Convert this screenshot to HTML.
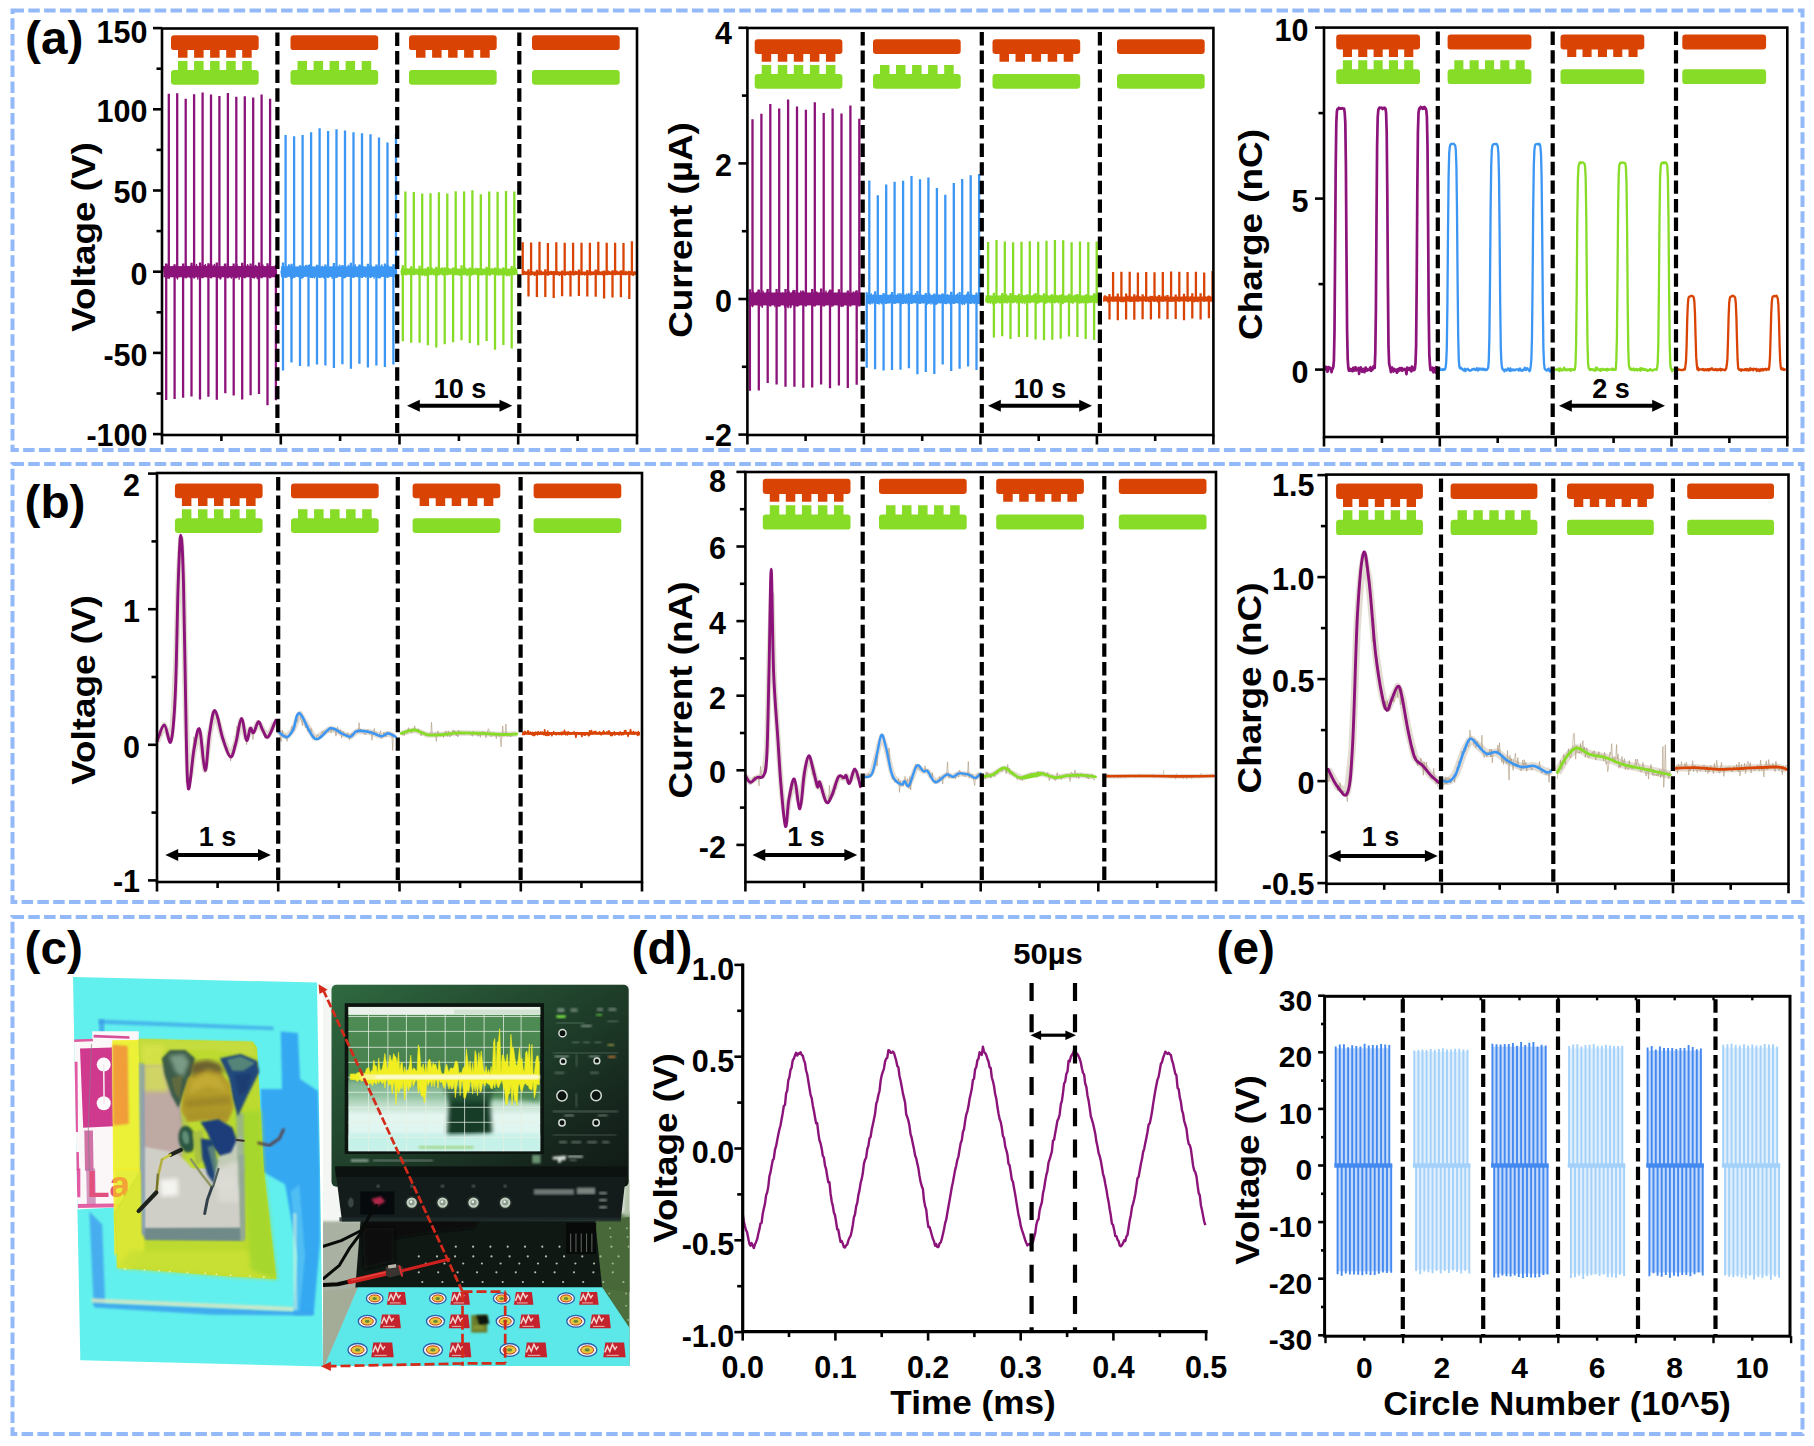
<!DOCTYPE html>
<html><head><meta charset="utf-8"><title>Figure</title>
<style>html,body{margin:0;padding:0;background:#fff}svg{display:block}</style></head>
<body><svg width="1814" height="1446" viewBox="0 0 1814 1446">
<rect width="1814" height="1446" fill="#fff"/>
<rect x="12.5" y="10.5" width="1790" height="439.5" fill="none" stroke="#94b9f8" stroke-width="4" stroke-dasharray="11.5 4.3"/>
<rect x="12.5" y="464" width="1790" height="438" fill="none" stroke="#94b9f8" stroke-width="4" stroke-dasharray="11.5 4.3"/>
<rect x="12.5" y="917" width="1790" height="517" fill="none" stroke="#94b9f8" stroke-width="4" stroke-dasharray="11.5 4.3"/>
<g font-family="'Liberation Sans', sans-serif" font-weight="bold" fill="#000">
<text transform="translate(25 54) scale(1.05 1)" font-size="45.5" text-anchor="start" >(a)</text>
<text transform="translate(24.5 517.5) scale(1.05 1)" font-size="45.5" text-anchor="start" >(b)</text>
<text transform="translate(24.5 963.5) scale(1.05 1)" font-size="45.5" text-anchor="start" >(c)</text>
<text transform="translate(631.5 963.5) scale(1.05 1)" font-size="45.5" text-anchor="start" >(d)</text>
<text transform="translate(1216.5 963.5) scale(1.05 1)" font-size="45.5" text-anchor="start" >(e)</text>
<path d="M163.5 266.1 164.2 271.7 164.9 273.2 165.6 264.5 166.3 266.4 167 278.2 167.7 265.2 168.4 266.1 169.1 278.5 169.8 273.6 170.5 269.7 171.2 271.9 171.9 274.2 172.6 268.3 173.3 266.2 174 276.1 174.7 274.3 175.4 271.9 176.1 276.5 176.8 272.4 177.5 279 178.2 267.2 178.9 272.5 179.6 271.5 180.3 269.5 181 273.1 181.7 267.7 182.4 276.3 183.1 277.3 183.8 266.1 184.5 271.2 185.2 268.3 185.9 265.4 186.6 277.7 187.3 270.6 188 266.4 188.7 274.3 189.4 267.2 190.1 277.8 190.8 267.4 191.5 264.6 192.2 267.2 192.9 269.4 193.6 271.2 194.3 277.9 195 274.7 195.7 269.3 196.4 264.4 197.1 266.5 197.8 279.2 198.5 271.1 199.2 274.6 199.9 264.9 200.6 264.6 201.3 277 202 273 202.7 268.8 203.4 268.9 204.1 265.5 204.8 266.7 205.5 264.5 206.2 276.8 206.9 271.2 207.6 266 208.3 275.3 209 267.1 209.7 265 210.4 273.2 211.1 277.7 211.8 264.5 212.5 276.3 213.2 267 213.9 265.5 214.6 264.4 215.3 268.6 216 275.1 216.7 271.6 217.4 277.1 218.1 267.4 218.8 268.9 219.5 268 220.2 279 220.9 278.4 221.6 269.3 222.3 270.7 223 268.9 223.7 275.4 224.4 264.7 225.1 265.1 225.8 270.2 226.5 267.8 227.2 276.9 227.9 275.4 228.6 272.4 229.3 274.2 230 274.6 230.7 276 231.4 278.2 232.1 266.4 232.8 273.6 233.5 266.3 234.2 270.8 234.9 276 235.6 277.7 236.3 275.6 237 264.6 237.7 269.6 238.4 266.6 239.1 279.3 239.8 266.3 240.5 267.8 241.2 269.5 241.9 265 242.6 277.3 243.3 273.8 244 266.5 244.7 271.7 245.4 265.3 246.1 273.4 246.8 267.6 247.5 264.7 248.2 265.9 248.9 272.5 249.6 273.8 250.3 269 251 273.9 251.7 269.5 252.4 266.1 253.1 268.9 253.8 270.1 254.5 278 255.2 265.9 255.9 265.4 256.6 272.6 257.3 278.7 258 277.9 258.7 274.7 259.4 265.1 260.1 276.4 260.8 274.5 261.5 266.3 262.2 271.2 262.9 264.9 263.6 276.3 264.3 275 265 276.3 265.7 275.7 266.4 268.2 267.1 276.1 267.8 267.9 268.5 266.2 269.2 270 269.9 271.7 270.6 268.4 271.3 273.3 272 273.3 272.7 267.8 273.4 273.6 274.1 269.5 274.8 275.3 275.5 268.5" fill="none" stroke="#8b137a" stroke-width="1.3" stroke-linejoin="round" />
<rect x="163.5" y="266.1" width="112.5" height="11.2" fill="#8b137a"/>
<path d="M168.8 278.3V93.7M166.2 263.4V400.1M177.2 278.3V93.2M174.6 264.3V399.1M185.7 278.3V98.7M183.1 263.5V397.7M194.1 278.3V94.3M191.5 262.7V396.6M202.6 278.3V92.5M200 262.4V399.5M211 278.3V94.4M208.4 263.2V396.7M219.4 278.3V96M216.8 262.5V399.8M227.9 278.3V93.1M225.3 263.4V393.3M236.3 278.3V96.7M233.7 263.4V395.6M244.8 278.3V96.2M242.2 262.7V399.5M253.2 278.3V97.5M250.6 263.6V395.2M261.6 278.3V94.6M259 262.5V393.9M270.1 278.3V98.8M267.5 263.2V405.2M275.9 265.1V400.2" stroke="#8b137a" stroke-width="2.3" fill="none"/>
<path d="M281 270.7 281.7 276.7 282.4 266.5 283.1 273.4 283.8 270.5 284.5 272.1 285.2 271.7 285.9 266.5 286.6 271.9 287.3 276.9 288 267 288.7 264.7 289.4 265.5 290.1 271.1 290.8 278.5 291.5 265.2 292.2 278.7 292.9 272.2 293.6 266.3 294.3 270.5 295 267.5 295.7 274.8 296.4 272.3 297.1 268.7 297.8 268.2 298.5 276.9 299.2 275.5 299.9 270.8 300.6 270.4 301.3 275.1 302 278.4 302.7 265.7 303.4 266.8 304.1 269.7 304.8 271.8 305.5 265.6 306.2 265.3 306.9 267.7 307.6 270.1 308.3 275.1 309 273.3 309.7 265 310.4 265.2 311.1 271 311.8 277 312.5 277.6 313.2 269.8 313.9 277.2 314.6 277.8 315.3 270.4 316 275.2 316.7 269.8 317.4 266.8 318.1 272.8 318.8 265.8 319.5 274 320.2 276.1 320.9 277.6 321.6 271 322.3 266.2 323 277.4 323.7 277 324.4 278.4 325.1 273 325.8 274.2 326.5 269.9 327.2 267.2 327.9 268.7 328.6 274.8 329.3 269.2 330 274.4 330.7 271.7 331.4 271 332.1 278.4 332.8 266.9 333.5 271.5 334.2 266.8 334.9 277.9 335.6 271.5 336.3 269.3 337 267 337.7 273 338.4 270.3 339.1 266.4 339.8 265 340.5 270.1 341.2 272.9 341.9 272 342.6 277.4 343.3 277.6 344 277.9 344.7 276 345.4 271.4 346.1 272 346.8 270.2 347.5 270.3 348.2 265.2 348.9 276 349.6 268.1 350.3 265 351 271.2 351.7 274.8 352.4 270.8 353.1 269.8 353.8 274 354.5 266.9 355.2 264.7 355.9 273 356.6 272.1 357.3 276.9 358 270.5 358.7 275.8 359.4 264.8 360.1 265 360.8 273.1 361.5 267.8 362.2 265.5 362.9 266.4 363.6 269.9 364.3 269.4 365 272.6 365.7 277.2 366.4 269.8 367.1 267.2 367.8 272.8 368.5 264.6 369.2 270.1 369.9 269.1 370.6 270.1 371.3 265.3 372 272.5 372.7 273.5 373.4 275.3 374.1 278.2 374.8 269.6 375.5 273.9 376.2 270.9 376.9 267.6 377.6 277.3 378.3 275.2 379 278 379.7 276.3 380.4 277.7 381.1 266.4 381.8 264.8 382.5 267.4 383.2 270.4 383.9 274.4 384.6 270.8 385.3 271.9 386 275.4 386.7 265.6 387.4 274.2 388.1 265.3 388.8 268.1 389.5 274.9 390.2 274.3 390.9 270.3 391.6 268.8 392.3 276.4 393 268.5 393.7 265 394.4 268.1 395.1 264.9" fill="none" stroke="#3c96f3" stroke-width="1.3" stroke-linejoin="round" />
<rect x="281" y="266.4" width="114.5" height="10.5" fill="#3c96f3"/>
<path d="M285.6 277.9V135.1M283 262.6V370.4M294.1 277.9V136.2M291.5 263.7V362.6M302.6 277.9V135.1M300 265.2V366M311.1 277.9V132.3M308.5 264.8V366.5M319.6 277.9V128.3M317 264.7V364.6M328.1 277.9V131.1M325.4 264.6V365.6M336.5 277.9V129.3M333.9 263.1V368M345 277.9V130.4M342.4 265V364.2M353.5 277.9V132.2M350.9 262.8V368.7M362 277.9V133.2M359.4 265.1V363.8M370.5 277.9V134.3M367.9 263.8V367.6M379 277.9V137.4M376.4 264.5V365.6M387.5 277.9V142.4M384.9 263.4V367.1M396 277.9V133.9M393.4 264.3V364.5" stroke="#3c96f3" stroke-width="2.3" fill="none"/>
<path d="M401 270.6 401.7 275.2 402.4 270.8 403.1 274.2 403.8 268.3 404.5 271.3 405.2 271.8 405.9 274.3 406.6 274.8 407.3 268.8 408 272.7 408.7 272.8 409.4 268.8 410.1 274.5 410.8 272.1 411.5 275.5 412.2 269.1 412.9 271.9 413.6 270.2 414.3 272.9 415 272.6 415.7 271.8 416.4 270.2 417.1 271.7 417.8 270.6 418.5 274.9 419.2 271.4 419.9 271.5 420.6 269.7 421.3 269.7 422 275.5 422.7 270.2 423.4 274.7 424.1 272.5 424.8 275.7 425.5 268.9 426.2 275.4 426.9 274 427.6 272.3 428.3 273.4 429 273.5 429.7 271.3 430.4 272.8 431.1 269.5 431.8 267.7 432.5 273.2 433.2 271.5 433.9 275.1 434.6 269.7 435.3 274.3 436 275.7 436.7 275 437.4 275.5 438.1 268.9 438.8 268.9 439.5 269.5 440.2 270.6 440.9 268.5 441.6 268.8 442.3 267.7 443 275.3 443.7 270.5 444.4 272.7 445.1 271.3 445.8 273.7 446.5 274.2 447.2 270.7 447.9 272 448.6 268.4 449.3 269.9 450 269.4 450.7 270.1 451.4 270.2 452.1 272.3 452.8 270.3 453.5 270.3 454.2 274.4 454.9 267.7 455.6 267.6 456.3 268 457 274.7 457.7 272.8 458.4 273.6 459.1 275.5 459.8 269.4 460.5 275.2 461.2 269.6 461.9 271.9 462.6 273.2 463.3 274.2 464 269.6 464.7 271.5 465.4 267.9 466.1 269.9 466.8 275.7 467.5 275.1 468.2 272.4 468.9 274.1 469.6 275 470.3 270.3 471 275.7 471.7 271.3 472.4 268.9 473.1 271.9 473.8 272.5 474.5 273.3 475.2 273.1 475.9 267.9 476.6 272.9 477.3 275.2 478 273.1 478.7 275.6 479.4 271.8 480.1 274.3 480.8 268.7 481.5 275 482.2 271.2 482.9 274.8 483.6 270.2 484.3 272.7 485 274.6 485.7 273.5 486.4 272.7 487.1 275.6 487.8 268.3 488.5 268.4 489.2 272.1 489.9 275.5 490.6 273.2 491.3 270.1 492 268.5 492.7 271.3 493.4 271.5 494.1 271.4 494.8 272.7 495.5 269.8 496.2 274.8 496.9 269.9 497.6 268.4 498.3 270.4 499 275.3 499.7 268.9 500.4 269.9 501.1 275.2 501.8 270.4 502.5 274.5 503.2 267.9 503.9 274.9 504.6 269.5 505.3 269.1 506 273.7 506.7 275.8 507.4 275.5 508.1 273.8 508.8 275.1 509.5 275.7 510.2 272.1 510.9 268.8 511.6 274.6 512.3 270.8 513 270.1 513.7 271.7 514.4 267.8 515.1 267.7 515.8 269.7 516.5 272.5 517.2 273.8" fill="none" stroke="#86dc26" stroke-width="1.3" stroke-linejoin="round" />
<rect x="401" y="268.6" width="116.5" height="6.1" fill="#86dc26"/>
<path d="M405.4 275.3V191.5M402.8 265.3V341.3M413.8 275.3V191.9M411.2 266.3V342.7M422.2 275.3V193.6M419.6 265.8V342.8M430.5 275.3V193.3M427.9 266.7V345.3M438.9 275.3V192.3M436.3 266.8V347.6M447.3 275.3V193.5M444.7 267.2V344.2M455.7 275.3V191.2M453.1 267.6V342.3M464.1 275.3V191.4M461.5 265.3V340.3M472.4 275.3V190.3M469.8 267.5V343M480.8 275.3V194.3M478.2 267.9V345.3M489.2 275.3V191.5M486.6 266.7V340.9M497.6 275.3V191.7M495 267.6V349.8M506 275.3V191.1M503.4 267.6V345M514.3 275.3V191.4M511.7 266V348.4" stroke="#86dc26" stroke-width="2.3" fill="none"/>
<path d="M523 271.8 523.7 271.1 524.4 271.2 525.1 272.9 525.8 272.6 526.5 274 527.2 271.3 527.9 272.1 528.6 274.1 529.3 273.5 530 273.3 530.7 275 531.4 271.4 532.1 271.8 532.8 273.5 533.5 273.5 534.2 275.4 534.9 275.4 535.6 273.6 536.3 274.4 537 274.1 537.7 271.5 538.4 273.7 539.1 272.3 539.8 272.6 540.5 271.6 541.2 270.9 541.9 274.8 542.6 274.2 543.3 274.4 544 272.2 544.7 272.8 545.4 271.7 546.1 273.7 546.8 274.8 547.5 274.5 548.2 275.2 548.9 272.1 549.6 274.1 550.3 271.5 551 273.4 551.7 271.4 552.4 273.4 553.1 273.4 553.8 272.5 554.5 272.5 555.2 274.2 555.9 273.1 556.6 272.8 557.3 271.4 558 272.2 558.7 274.8 559.4 275.4 560.1 272.6 560.8 274.9 561.5 274.9 562.2 271.9 562.9 272.2 563.6 274.1 564.3 272.3 565 275.3 565.7 272.6 566.4 274.3 567.1 274.2 567.8 271.9 568.5 274.9 569.2 272.4 569.9 271.4 570.6 271.1 571.3 273 572 273.8 572.7 272.1 573.4 274.8 574.1 272.1 574.8 274.8 575.5 271.1 576.2 272.1 576.9 271.6 577.6 273 578.3 272.5 579 272.7 579.7 274.8 580.4 273.6 581.1 273.7 581.8 272.7 582.5 274.6 583.2 273.2 583.9 274.3 584.6 275.1 585.3 273.7 586 272.9 586.7 272.1 587.4 275.1 588.1 274.4 588.8 274.6 589.5 271.9 590.2 272.9 590.9 275 591.6 272 592.3 274.6 593 273.4 593.7 271.9 594.4 272.6 595.1 271.3 595.8 274 596.5 274.2 597.2 271 597.9 272.3 598.6 274.4 599.3 271.8 600 273.4 600.7 274.6 601.4 273.5 602.1 271.5 602.8 275.1 603.5 274.3 604.2 273.5 604.9 272.4 605.6 273.6 606.3 272.7 607 271.4 607.7 271.5 608.4 271.1 609.1 271.7 609.8 272 610.5 273.8 611.2 273.6 611.9 273.6 612.6 274.7 613.3 271.3 614 272.7 614.7 271.3 615.4 272.8 616.1 271.3 616.8 271.2 617.5 271.4 618.2 272.7 618.9 274.4 619.6 272.2 620.3 274.3 621 272 621.7 272.2 622.4 273.1 623.1 271.2 623.8 273 624.5 273.6 625.2 274.7 625.9 271.2 626.6 274.6 627.3 273.5 628 273.6 628.7 271.1 629.4 274.9 630.1 272.2 630.8 273.4 631.5 273.4 632.2 275.1 632.9 273.7 633.6 275.5 634.3 272 635 273.9 635.7 273.6" fill="none" stroke="#d94404" stroke-width="1.3" stroke-linejoin="round" />
<rect x="523" y="271.5" width="113" height="3.4" fill="#d94404"/>
<path d="M522.7 275.2V242.2M531.1 275.2V242.6M528.5 269.3V296.4M539.5 275.2V241.8M536.9 269.8V296.9M547.9 275.2V242.9M545.3 269.2V297M556.3 275.2V242.3M553.7 271V298.1M564.7 275.2V242.8M562.1 270.5V296.2M573.1 275.2V242.8M570.5 271.1V296.5M581.5 275.2V242.7M578.9 269.4V296.1M589.9 275.2V242.7M587.3 270.1V296.6M598.3 275.2V241.8M595.7 269.4V296.7M606.7 275.2V242.8M604.1 270.4V298.4M615.1 275.2V242.7M612.5 270.2V297.5M623.5 275.2V243M620.9 270.3V297.3M631.9 275.2V241.3M629.3 270.9V298.9" stroke="#d94404" stroke-width="2.3" fill="none"/>
<rect x="162" y="28.5" width="475" height="406.5" fill="none" stroke="#000" stroke-width="2.6"/>
<line x1="277.4" y1="32.5" x2="277.4" y2="433" stroke="#000" stroke-width="4.2" stroke-dasharray="13.4 5.2"/>
<line x1="397.2" y1="32.5" x2="397.2" y2="433" stroke="#000" stroke-width="4.2" stroke-dasharray="13.4 5.2"/>
<line x1="519.3" y1="32.5" x2="519.3" y2="433" stroke="#000" stroke-width="4.2" stroke-dasharray="13.4 5.2"/>
<line x1="153" y1="28.1" x2="162" y2="28.1" stroke="#000" stroke-width="2.6" />
<line x1="153" y1="109.3" x2="162" y2="109.3" stroke="#000" stroke-width="2.6" />
<line x1="153" y1="190.5" x2="162" y2="190.5" stroke="#000" stroke-width="2.6" />
<line x1="153" y1="271.7" x2="162" y2="271.7" stroke="#000" stroke-width="2.6" />
<line x1="153" y1="352.9" x2="162" y2="352.9" stroke="#000" stroke-width="2.6" />
<line x1="153" y1="434.1" x2="162" y2="434.1" stroke="#000" stroke-width="2.6" />
<line x1="156.5" y1="68.7" x2="162" y2="68.7" stroke="#000" stroke-width="2.6" />
<line x1="156.5" y1="149.9" x2="162" y2="149.9" stroke="#000" stroke-width="2.6" />
<line x1="156.5" y1="231.1" x2="162" y2="231.1" stroke="#000" stroke-width="2.6" />
<line x1="156.5" y1="312.3" x2="162" y2="312.3" stroke="#000" stroke-width="2.6" />
<line x1="156.5" y1="393.5" x2="162" y2="393.5" stroke="#000" stroke-width="2.6" />
<text transform="translate(147.5 42.5) scale(1.0 1)" font-size="30.5" text-anchor="end" >150</text>
<text transform="translate(147.5 122.2) scale(1.0 1)" font-size="30.5" text-anchor="end" >100</text>
<text transform="translate(147.5 203.4) scale(1.0 1)" font-size="30.5" text-anchor="end" >50</text>
<text transform="translate(147.5 284.6) scale(1.0 1)" font-size="30.5" text-anchor="end" >0</text>
<text transform="translate(147.5 365.8) scale(1.0 1)" font-size="30.5" text-anchor="end" >-50</text>
<text transform="translate(147.5 445.5) scale(1.0 1)" font-size="30.5" text-anchor="end" >-100</text>
<line x1="162" y1="435" x2="162" y2="444.5" stroke="#000" stroke-width="2.6" />
<line x1="280.8" y1="435" x2="280.8" y2="444.5" stroke="#000" stroke-width="2.6" />
<line x1="399.5" y1="435" x2="399.5" y2="444.5" stroke="#000" stroke-width="2.6" />
<line x1="518.2" y1="435" x2="518.2" y2="444.5" stroke="#000" stroke-width="2.6" />
<line x1="637" y1="435" x2="637" y2="444.5" stroke="#000" stroke-width="2.6" />
<line x1="221.4" y1="435" x2="221.4" y2="441" stroke="#000" stroke-width="2.6" />
<line x1="340.1" y1="435" x2="340.1" y2="441" stroke="#000" stroke-width="2.6" />
<line x1="458.9" y1="435" x2="458.9" y2="441" stroke="#000" stroke-width="2.6" />
<line x1="577.6" y1="435" x2="577.6" y2="441" stroke="#000" stroke-width="2.6" />
<rect x="171" y="35.3" width="87.7" height="14.8" rx="3.2" fill="#d94404"/>
<rect x="171" y="70" width="87.7" height="14.8" rx="3.2" fill="#86dc26"/>
<path d="M178 48.1h9.5v9.7h-9.5zM194.1 48.1h9.5v9.7h-9.5zM210.1 48.1h9.5v9.7h-9.5zM226.2 48.1h9.5v9.7h-9.5zM242.2 48.1h9.5v9.7h-9.5z" fill="#d94404"/>
<path d="M178 61h9.5v11h-9.5zM194.1 61h9.5v11h-9.5zM210.1 61h9.5v11h-9.5zM226.2 61h9.5v11h-9.5zM242.2 61h9.5v11h-9.5z" fill="#86dc26"/>
<rect x="290.5" y="35.3" width="87.7" height="14.8" rx="3.2" fill="#d94404"/>
<rect x="290.5" y="70" width="87.7" height="14.8" rx="3.2" fill="#86dc26"/>
<path d="M297.5 61h9.5v11h-9.5zM313.6 61h9.5v11h-9.5zM329.6 61h9.5v11h-9.5zM345.6 61h9.5v11h-9.5zM361.7 61h9.5v11h-9.5z" fill="#86dc26"/>
<rect x="409" y="35.3" width="87.7" height="14.8" rx="3.2" fill="#d94404"/>
<rect x="409" y="70" width="87.7" height="14.8" rx="3.2" fill="#86dc26"/>
<path d="M416 48.1h9.5v9.7h-9.5zM432.1 48.1h9.5v9.7h-9.5zM448.1 48.1h9.5v9.7h-9.5zM464.1 48.1h9.5v9.7h-9.5zM480.2 48.1h9.5v9.7h-9.5z" fill="#d94404"/>
<rect x="532" y="35.3" width="87.7" height="14.8" rx="3.2" fill="#d94404"/>
<rect x="532" y="70" width="87.7" height="14.8" rx="3.2" fill="#86dc26"/>
<path d="M418.8 405.7H500.5" stroke="#000" stroke-width="4" fill="none"/>
<path d="M407 405.7l12.8 -6v12z" fill="#000"/>
<path d="M512.3 405.7l-12.8 -6v12z" fill="#000"/>
<text transform="translate(460 398) scale(1.0 1)" font-size="27" text-anchor="middle" >10 s</text>
<text transform="translate(94.5 237) rotate(-90) scale(1.1 1)" font-size="33.5" text-anchor="middle" >Voltage (V)</text>
<path d="M749 299.3 749.7 302.3 750.4 301.2 751.1 293.1 751.8 296.5 752.5 306.7 753.2 291.8 753.9 302.1 754.6 297.9 755.3 301 756 297.1 756.7 292.4 757.4 300.1 758.1 290.4 758.8 305.4 759.5 304.2 760.2 296.8 760.9 299.7 761.6 299.5 762.3 307.4 763 291 763.7 295.5 764.4 297.4 765.1 304 765.8 303 766.5 297.7 767.2 290.5 767.9 301.6 768.6 297.4 769.3 292.3 770 301.3 770.7 298 771.4 295.6 772.1 295 772.8 299.4 773.5 294.6 774.2 297.1 774.9 306.7 775.6 298.6 776.3 294.7 777 299.4 777.7 306.3 778.4 305.4 779.1 302.1 779.8 306 780.5 303.5 781.2 302.1 781.9 297.7 782.6 292.9 783.3 303.1 784 301.3 784.7 307.2 785.4 295.9 786.1 305.6 786.8 294.1 787.5 306.8 788.2 307.7 788.9 291.1 789.6 295.9 790.3 307.7 791 307.2 791.7 302 792.4 292.6 793.1 290.4 793.8 294.6 794.5 306.8 795.2 304.3 795.9 297.8 796.6 303.6 797.3 306 798 295.5 798.7 305.5 799.4 295 800.1 296 800.8 291 801.5 293.1 802.2 299.9 802.9 290.7 803.6 299.8 804.3 293.2 805 303.3 805.7 292.5 806.4 293.9 807.1 295 807.8 300.4 808.5 304.4 809.2 303.4 809.9 303.2 810.6 302.2 811.3 299.8 812 296.2 812.7 293.4 813.4 305.4 814.1 297.4 814.8 301.6 815.5 291.5 816.2 296.6 816.9 292 817.6 296.5 818.3 303.1 819 296.2 819.7 302.2 820.4 292.4 821.1 297 821.8 297.4 822.5 299.2 823.2 294.3 823.9 302.5 824.6 305.7 825.3 304.5 826 290.8 826.7 298.8 827.4 296.3 828.1 300.3 828.8 291.7 829.5 303 830.2 297.5 830.9 306.8 831.6 290.6 832.3 297.6 833 298.8 833.7 304.8 834.4 303.5 835.1 293.4 835.8 295.6 836.5 303.1 837.2 297.6 837.9 294.9 838.6 306.5 839.3 305 840 296.5 840.7 299.9 841.4 306.5 842.1 294 842.8 306.2 843.5 305.7 844.2 303 844.9 302.3 845.6 302.2 846.3 299.8 847 300.4 847.7 293.7 848.4 300.1 849.1 302 849.8 298.7 850.5 302.1 851.2 298.3 851.9 304.3 852.6 302.9 853.3 291.8 854 303.7 854.7 295.2 855.4 291.7 856.1 292.4 856.8 295.9 857.5 299.4 858.2 296 858.9 293.8 859.6 303.7 860.3 296.8" fill="none" stroke="#8b137a" stroke-width="1.3" stroke-linejoin="round" />
<rect x="749" y="292.5" width="112" height="12.9" fill="#8b137a"/>
<path d="M752.5 306.6V119.2M749.9 289.3V390.8M761.4 306.6V113.7M758.8 289.5V390.5M770.3 306.6V104M767.7 289.1V383.1M779.2 306.6V108.5M776.6 288.9V384.6M788.1 306.6V99.5M785.5 289.1V386.8M797 306.6V106.5M794.4 290.1V386.8M805.9 306.6V109.7M803.3 291.2V387.7M814.8 306.6V102.3M812.2 288.9V387.6M823.7 306.6V113M821.1 288.4V384.5M832.6 306.6V108.4M830 289.6V388.2M841.5 306.6V113.5M838.9 289.3V385.5M850.4 306.6V105.6M847.8 290.6V388.1M859.3 306.6V118.7M856.7 290.2V384.8" stroke="#8b137a" stroke-width="2.3" fill="none"/>
<path d="M866.5 299.1 867.2 300.6 867.9 303 868.6 299.7 869.3 297.6 870 304.3 870.7 295.2 871.4 293.8 872.1 303.7 872.8 296.3 873.5 295 874.2 297.7 874.9 297.2 875.6 297.3 876.3 303 877 296.6 877.7 294.8 878.4 295.7 879.1 304.2 879.8 298.2 880.5 297.4 881.2 302.2 881.9 304 882.6 299.1 883.3 302.6 884 296.3 884.7 297.3 885.4 299.9 886.1 296 886.8 296.4 887.5 295.4 888.2 296.3 888.9 302.9 889.6 302.4 890.3 294.6 891 297.3 891.7 301.6 892.4 303.1 893.1 299.7 893.8 301.6 894.5 296 895.2 302.2 895.9 302.7 896.6 297.9 897.3 296 898 293.6 898.7 300.5 899.4 300.5 900.1 293.3 900.8 299.2 901.5 304 902.2 293.6 902.9 294.8 903.6 293.9 904.3 298.3 905 297.7 905.7 303.3 906.4 294 907.1 295.6 907.8 304 908.5 293.5 909.2 296.2 909.9 297.8 910.6 293.3 911.3 296.6 912 300.2 912.7 300.3 913.4 300.3 914.1 300.7 914.8 300.3 915.5 293.6 916.2 300.8 916.9 300 917.6 295.8 918.3 298.1 919 296 919.7 303.2 920.4 296.5 921.1 295.1 921.8 302.4 922.5 302 923.2 303 923.9 301 924.6 298 925.3 298.7 926 299.6 926.7 300.1 927.4 304.1 928.1 296.3 928.8 302.1 929.5 293.4 930.2 295.4 930.9 304.1 931.6 296.1 932.3 299.1 933 303.8 933.7 300.8 934.4 298.9 935.1 301.3 935.8 304.5 936.5 304.1 937.2 295.3 937.9 294.9 938.6 296.6 939.3 294.9 940 302 940.7 302.8 941.4 294.9 942.1 294.1 942.8 297 943.5 301.1 944.2 302.1 944.9 298.5 945.6 300.6 946.3 303.8 947 303.4 947.7 294.6 948.4 301.5 949.1 302.2 949.8 303.7 950.5 298.1 951.2 295 951.9 298.7 952.6 297.5 953.3 297.8 954 302.5 954.7 300.7 955.4 301.1 956.1 300.8 956.8 294.9 957.5 293.9 958.2 297.8 958.9 303 959.6 300.7 960.3 302.4 961 300.4 961.7 302.3 962.4 304.7 963.1 301.5 963.8 303.2 964.5 304.4 965.2 301.8 965.9 302.6 966.6 294.2 967.3 293.7 968 303.9 968.7 296 969.4 296.8 970.1 294.8 970.8 300.5 971.5 293.6 972.2 302.4 972.9 296.7 973.6 301.8 974.3 303.7 975 301.2 975.7 298.1 976.4 300.4 977.1 303.1 977.8 301.4 978.5 296.2 979.2 293.3 979.9 303.4" fill="none" stroke="#3c96f3" stroke-width="1.3" stroke-linejoin="round" />
<rect x="866.5" y="294.8" width="113.5" height="8.5" fill="#3c96f3"/>
<path d="M869.3 304V180.4M866.7 292.3V367.8M877.8 304V195.2M875.1 291.3V369.2M886.2 304V184.6M883.6 293.1V370.6M894.6 304V181.7M892 292V370M903.1 304V180.7M900.5 293.7V369.8M911.5 304V175.9M908.9 293.7V368.3M920 304V179.3M917.4 291.1V374.3M928.4 304V177.5M925.8 293.1V371.9M936.9 304V188.1M934.3 293.5V373.9M945.3 304V194.8M942.7 293.6V364.5M953.8 304V183M951.2 291.7V371M962.2 304V178.9M959.6 292.1V368.8M970.7 304V175.2M968.1 291.5V366.4M979.1 304V173.9M976.5 292.6V369.9" stroke="#3c96f3" stroke-width="2.3" fill="none"/>
<path d="M985.5 298.5 986.2 301.1 986.9 297.5 987.6 301.5 988.3 298.5 989 301.3 989.7 300.9 990.4 303.3 991.1 298.1 991.8 297.5 992.5 303.8 993.2 299.2 993.9 298.2 994.6 300.9 995.3 296.6 996 303.4 996.7 301.5 997.4 300.4 998.1 297 998.8 302 999.5 303 1000.2 301.8 1000.9 303 1001.6 295.1 1002.3 301.3 1003 302.5 1003.7 298.8 1004.4 294.9 1005.1 299.4 1005.8 296.5 1006.5 294.5 1007.2 303.2 1007.9 302.2 1008.6 300.3 1009.3 301.4 1010 300.7 1010.7 298.6 1011.4 295.3 1012.1 297 1012.8 299.1 1013.5 299.8 1014.2 297.1 1014.9 295.4 1015.6 297.5 1016.3 296 1017 303.2 1017.7 296.3 1018.4 298 1019.1 299.4 1019.8 296.6 1020.5 299 1021.2 299.5 1021.9 294.6 1022.6 303.3 1023.3 299.4 1024 295.6 1024.7 303.7 1025.4 295.8 1026.1 301.2 1026.8 298.8 1027.5 296.7 1028.2 297.8 1028.9 298.8 1029.6 297.8 1030.3 296.6 1031 298.2 1031.7 298.4 1032.4 300.8 1033.1 296.1 1033.8 294.6 1034.5 302.2 1035.2 294.8 1035.9 300.3 1036.6 299.5 1037.3 303.6 1038 296 1038.7 302.7 1039.4 295.4 1040.1 295.8 1040.8 300.5 1041.5 295.8 1042.2 299.8 1042.9 300.7 1043.6 295.4 1044.3 301.8 1045 298.3 1045.7 303.5 1046.4 294.3 1047.1 294.9 1047.8 300.2 1048.5 296.7 1049.2 298.1 1049.9 302.9 1050.6 297.5 1051.3 294.7 1052 295.6 1052.7 299.5 1053.4 301.7 1054.1 301.5 1054.8 298.7 1055.5 296.5 1056.2 295.4 1056.9 296.3 1057.6 296.1 1058.3 302.9 1059 298.1 1059.7 295.3 1060.4 300.3 1061.1 298.6 1061.8 294.5 1062.5 303.6 1063.2 303.3 1063.9 296.7 1064.6 302.2 1065.3 298.6 1066 300.7 1066.7 300.5 1067.4 301.2 1068.1 298.4 1068.8 295.6 1069.5 301.9 1070.2 298.4 1070.9 298.4 1071.6 301.5 1072.3 300.8 1073 303.7 1073.7 297.9 1074.4 300.3 1075.1 295 1075.8 295.3 1076.5 296.6 1077.2 296.9 1077.9 298.5 1078.6 296.4 1079.3 303.2 1080 298.3 1080.7 297.9 1081.4 302.9 1082.1 301.9 1082.8 301.6 1083.5 303 1084.2 301.3 1084.9 297.1 1085.6 303.5 1086.3 294.4 1087 302.8 1087.7 298.2 1088.4 297.4 1089.1 298.8 1089.8 298 1090.5 302.5 1091.2 302 1091.9 301.4 1092.6 296.4 1093.3 298.4 1094 294.9 1094.7 301.3 1095.4 294.6 1096.1 298 1096.8 295.6 1097.5 302.4" fill="none" stroke="#86dc26" stroke-width="1.3" stroke-linejoin="round" />
<rect x="985.5" y="295.4" width="112.5" height="7.1" fill="#86dc26"/>
<path d="M988.1 303.2V242M996.5 303.2V240M993.9 292.7V337.5M1004.8 303.2V241.4M1002.2 293V336.3M1013.1 303.2V242.2M1010.5 293V339.1M1021.5 303.2V241.8M1018.9 293.8V336.9M1029.8 303.2V241.3M1027.2 294.2V336.9M1038.2 303.2V241.7M1035.6 292.9V339.5M1046.5 303.2V240.8M1044 293.3V340.3M1054.9 303.2V240.1M1052.3 294.4V339.8M1063.2 303.2V240.3M1060.7 294.8V338.7M1071.6 303.2V242.3M1069 293.8V336.4M1080 303.2V241.4M1077.4 293.9V336.9M1088.3 303.2V241.9M1085.7 294.7V339.1M1096.7 303.2V241.5M1094.1 293.2V339.9" stroke="#86dc26" stroke-width="2.3" fill="none"/>
<path d="M1103.5 301.6 1104.2 296.1 1104.9 296 1105.6 296 1106.3 297.5 1107 296.9 1107.7 302 1108.4 300.8 1109.1 301.8 1109.8 299.5 1110.5 301.1 1111.2 300.3 1111.9 297.7 1112.6 300 1113.3 297.6 1114 298.8 1114.7 301.1 1115.4 297.2 1116.1 296.9 1116.8 301.3 1117.5 298.8 1118.2 296.9 1118.9 297.8 1119.6 297.6 1120.3 301.6 1121 298.8 1121.7 301.7 1122.4 298.8 1123.1 301.8 1123.8 301.7 1124.5 299.4 1125.2 300.8 1125.9 297.6 1126.6 296.5 1127.3 299.7 1128 296.1 1128.7 298.8 1129.4 299.8 1130.1 300.7 1130.8 301.6 1131.5 297.1 1132.2 301.4 1132.9 299 1133.6 299.8 1134.3 298.8 1135 301.2 1135.7 297.7 1136.4 295.8 1137.1 301.1 1137.8 300 1138.5 300.4 1139.2 296.6 1139.9 297.1 1140.6 299.8 1141.3 300.6 1142 300 1142.7 299.6 1143.4 300 1144.1 296.7 1144.8 298.7 1145.5 297.9 1146.2 300.5 1146.9 299.1 1147.6 300.4 1148.3 300.3 1149 301.6 1149.7 301.3 1150.4 296.1 1151.1 300.1 1151.8 298.2 1152.5 296.4 1153.2 298.9 1153.9 301.2 1154.6 300.9 1155.3 296.5 1156 297.1 1156.7 300.3 1157.4 302 1158.1 296.3 1158.8 296.4 1159.5 300.3 1160.2 299.7 1160.9 301 1161.6 297.1 1162.3 299 1163 300.9 1163.7 298.2 1164.4 298.4 1165.1 296 1165.8 300.9 1166.5 298.7 1167.2 298.2 1167.9 300 1168.6 301.3 1169.3 301.4 1170 298 1170.7 299.7 1171.4 298.3 1172.1 301.2 1172.8 300.9 1173.5 300 1174.2 301.1 1174.9 299.1 1175.6 299.5 1176.3 296.8 1177 300.3 1177.7 297.6 1178.4 299.4 1179.1 295.8 1179.8 298.3 1180.5 299.7 1181.2 299.8 1181.9 299.4 1182.6 297.4 1183.3 300 1184 300 1184.7 299.6 1185.4 298.2 1186.1 296.8 1186.8 299.4 1187.5 296.1 1188.2 301.7 1188.9 298.1 1189.6 297.6 1190.3 298.7 1191 296.4 1191.7 301.5 1192.4 302.1 1193.1 301.1 1193.8 299.5 1194.5 301.8 1195.2 297.9 1195.9 298.8 1196.6 296.9 1197.3 298.5 1198 301.8 1198.7 300.1 1199.4 299.3 1200.1 299.2 1200.8 299.9 1201.5 299.7 1202.2 298.7 1202.9 299.1 1203.6 296.4 1204.3 298.6 1205 300.1 1205.7 297.2 1206.4 297.6 1207.1 301 1207.8 296.7 1208.5 297 1209.2 301.1 1209.9 296.6 1210.6 297.7 1211.3 301.6" fill="none" stroke="#d94404" stroke-width="1.3" stroke-linejoin="round" />
<rect x="1103.5" y="296.6" width="108.5" height="4.8" fill="#d94404"/>
<path d="M1113.1 301.8V272.1M1109.5 293.9V319.5M1121.4 301.8V271.8M1117.8 293.5V320.3M1129.7 301.8V271.7M1126.1 293.4V319.6M1137.9 301.8V272.4M1134.3 294.3V319.7M1146.2 301.8V271.9M1142.6 294.3V319.3M1154.5 301.8V272.3M1150.9 296V319.5M1162.8 301.8V271.9M1159.2 295V318.4M1171.1 301.8V271.6M1167.5 295V319.2M1179.3 301.8V271.7M1175.7 294.6V319.1M1187.6 301.8V272.1M1184 293.8V320.2M1195.9 301.8V271.7M1192.3 293.3V318.6M1204.2 301.8V272.4M1200.6 293.3V319.6M1212.5 301.8V271.1M1208.9 295.5V318.3" stroke="#d94404" stroke-width="2.3" fill="none"/>
<rect x="747.4" y="28" width="466" height="407" fill="none" stroke="#000" stroke-width="2.6"/>
<line x1="862.7" y1="32" x2="862.7" y2="433" stroke="#000" stroke-width="4.2" stroke-dasharray="13.4 5.2"/>
<line x1="981.8" y1="32" x2="981.8" y2="433" stroke="#000" stroke-width="4.2" stroke-dasharray="13.4 5.2"/>
<line x1="1099.9" y1="32" x2="1099.9" y2="433" stroke="#000" stroke-width="4.2" stroke-dasharray="13.4 5.2"/>
<line x1="738.4" y1="27.8" x2="747.4" y2="27.8" stroke="#000" stroke-width="2.6" />
<line x1="738.4" y1="163.4" x2="747.4" y2="163.4" stroke="#000" stroke-width="2.6" />
<line x1="738.4" y1="299" x2="747.4" y2="299" stroke="#000" stroke-width="2.6" />
<line x1="738.4" y1="434.6" x2="747.4" y2="434.6" stroke="#000" stroke-width="2.6" />
<line x1="741.9" y1="95.6" x2="747.4" y2="95.6" stroke="#000" stroke-width="2.6" />
<line x1="741.9" y1="231.2" x2="747.4" y2="231.2" stroke="#000" stroke-width="2.6" />
<line x1="741.9" y1="366.8" x2="747.4" y2="366.8" stroke="#000" stroke-width="2.6" />
<text transform="translate(731.9 44.2) scale(1.0 1)" font-size="30.5" text-anchor="end" >4</text>
<text transform="translate(731.9 176.3) scale(1.0 1)" font-size="30.5" text-anchor="end" >2</text>
<text transform="translate(731.9 311.9) scale(1.0 1)" font-size="30.5" text-anchor="end" >0</text>
<text transform="translate(731.9 446) scale(1.0 1)" font-size="30.5" text-anchor="end" >-2</text>
<line x1="747.4" y1="435" x2="747.4" y2="444.5" stroke="#000" stroke-width="2.6" />
<line x1="863.9" y1="435" x2="863.9" y2="444.5" stroke="#000" stroke-width="2.6" />
<line x1="980.4" y1="435" x2="980.4" y2="444.5" stroke="#000" stroke-width="2.6" />
<line x1="1096.9" y1="435" x2="1096.9" y2="444.5" stroke="#000" stroke-width="2.6" />
<line x1="1213.4" y1="435" x2="1213.4" y2="444.5" stroke="#000" stroke-width="2.6" />
<line x1="805.6" y1="435" x2="805.6" y2="441" stroke="#000" stroke-width="2.6" />
<line x1="922.2" y1="435" x2="922.2" y2="441" stroke="#000" stroke-width="2.6" />
<line x1="1038.7" y1="435" x2="1038.7" y2="441" stroke="#000" stroke-width="2.6" />
<line x1="1155.2" y1="435" x2="1155.2" y2="441" stroke="#000" stroke-width="2.6" />
<rect x="754.7" y="39.2" width="87.7" height="14.8" rx="3.2" fill="#d94404"/>
<rect x="754.7" y="73.9" width="87.7" height="14.8" rx="3.2" fill="#86dc26"/>
<path d="M761.7 52h9.5v9.7h-9.5zM777.8 52h9.5v9.7h-9.5zM793.8 52h9.5v9.7h-9.5zM809.9 52h9.5v9.7h-9.5zM825.9 52h9.5v9.7h-9.5z" fill="#d94404"/>
<path d="M761.7 64.9h9.5v11h-9.5zM777.8 64.9h9.5v11h-9.5zM793.8 64.9h9.5v11h-9.5zM809.9 64.9h9.5v11h-9.5zM825.9 64.9h9.5v11h-9.5z" fill="#86dc26"/>
<rect x="873" y="39.2" width="87.7" height="14.8" rx="3.2" fill="#d94404"/>
<rect x="873" y="73.9" width="87.7" height="14.8" rx="3.2" fill="#86dc26"/>
<path d="M880 64.9h9.5v11h-9.5zM896 64.9h9.5v11h-9.5zM912.1 64.9h9.5v11h-9.5zM928.1 64.9h9.5v11h-9.5zM944.2 64.9h9.5v11h-9.5z" fill="#86dc26"/>
<rect x="992.5" y="39.2" width="87.7" height="14.8" rx="3.2" fill="#d94404"/>
<rect x="992.5" y="73.9" width="87.7" height="14.8" rx="3.2" fill="#86dc26"/>
<path d="M999.5 52h9.5v9.7h-9.5zM1015.5 52h9.5v9.7h-9.5zM1031.6 52h9.5v9.7h-9.5zM1047.7 52h9.5v9.7h-9.5zM1063.7 52h9.5v9.7h-9.5z" fill="#d94404"/>
<rect x="1117" y="39.2" width="87.7" height="14.8" rx="3.2" fill="#d94404"/>
<rect x="1117" y="73.9" width="87.7" height="14.8" rx="3.2" fill="#86dc26"/>
<path d="M999.8 405.7H1080.2" stroke="#000" stroke-width="4" fill="none"/>
<path d="M988 405.7l12.8 -6v12z" fill="#000"/>
<path d="M1092 405.7l-12.8 -6v12z" fill="#000"/>
<text transform="translate(1040 398) scale(1.0 1)" font-size="27" text-anchor="middle" >10 s</text>
<text transform="translate(692 230) rotate(-90) scale(1.1 1)" font-size="33.5" text-anchor="middle" >Current (µA)</text>
<path d="M1325.5 370.7 1326.1 366.8 1326.7 369.1 1327.3 371.7 1327.9 371.2 1328.5 367 1329.1 368.7 1329.7 367.7 1330.3 368 1330.9 368.5 1331.5 372.2 1332.1 369.6 1332.7 368.7 1333.3 366.8 1333.9 360.7 1334.5 331.7 1335.1 254 1335.7 167.4 1336.3 122.9 1336.9 111.4 1337.5 109 1338.1 109.1 1338.7 107.8 1339.3 108.1 1339.9 108.7 1340.5 108.3 1341.1 108.6 1341.7 108.6 1342.3 108.1 1342.9 108.4 1343.5 108.7 1344.1 108.7 1344.7 112.6 1345.3 122.3 1345.9 165.4 1346.5 256.6 1347.1 331.4 1347.7 358.8 1348.3 367.8 1348.9 370.6 1349.5 368.6 1350.1 370.6 1350.7 369.3 1351.3 369.3 1351.9 369.4 1352.5 371.2 1353.1 367.8 1353.7 369 1354.3 370.5 1354.9 367.7 1355.5 367.1 1356.1 370.4 1356.7 369.5 1357.3 369.3 1357.9 369.7 1358.5 368 1359.1 373.9 1359.7 368 1360.3 368.9 1360.9 367.4 1361.5 368.9 1362.1 371.8 1362.7 369.5 1363.3 370.4 1363.9 368.8 1364.5 372.2 1365.1 369.8 1365.7 367.6 1366.3 370.7 1366.9 369 1367.5 370.4 1368.1 369.7 1368.7 369.9 1369.3 369.7 1369.9 368.1 1370.5 367.3 1371.1 371 1371.7 369.3 1372.3 369.9 1372.9 368.8 1373.5 366.3 1374.1 366.8 1374.7 367.9 1375.3 352.7 1375.9 310.8 1376.5 221 1377.1 146.3 1377.7 117.5 1378.3 110 1378.9 108.4 1379.5 107.7 1380.1 107.6 1380.7 107.9 1381.3 108.1 1381.9 107.8 1382.5 109 1383.1 108.1 1383.7 108 1384.3 107.6 1384.9 108.9 1385.5 108.7 1386.1 112.9 1386.7 132.2 1387.3 192.4 1387.9 284.2 1388.5 346.4 1389.1 363.5 1389.7 365.9 1390.3 368.8 1390.9 372.1 1391.5 368.2 1392.1 367.5 1392.7 370.3 1393.3 371.5 1393.9 371 1394.5 369 1395.1 369.8 1395.7 370 1396.3 371.3 1396.9 372.7 1397.5 369.3 1398.1 371.4 1398.7 369 1399.3 370.4 1399.9 368.1 1400.5 368.3 1401.1 370.1 1401.7 368.1 1402.3 370.8 1402.9 368.7 1403.5 369.6 1404.1 369.4 1404.7 369 1405.3 369.7 1405.9 371.1 1406.5 374.2 1407.1 367.7 1407.7 369.9 1408.3 369.2 1408.9 368.1 1409.5 369.9 1410.1 368.2 1410.7 369.4 1411.3 371.4 1411.9 366.5 1412.5 369.9 1413.1 370.1 1413.7 368 1414.3 370 1414.9 368.7 1415.5 363 1416.1 346.3 1416.7 284 1417.3 192.4 1417.9 132.7 1418.5 113.3 1419.1 109.2 1419.7 108 1420.3 108.5 1420.9 107 1421.5 107.8 1422.1 107.7 1422.7 108.9 1423.3 107.3 1423.9 108.6 1424.5 106.9 1425.1 108.2 1425.7 108.3 1426.3 110.4 1426.9 117.2 1427.5 145.2 1428.1 220.9 1428.7 312.9 1429.3 354.1 1429.9 364.5 1430.5 370 1431.1 368.2 1431.7 368.3 1432.3 367.6 1432.9 371.2 1433.5 372.4 1434.1 368 1434.7 369.9 1435.3 370.9 1435.9 372.6 1436.5 365.9" fill="none" stroke="#8b137a" stroke-width="2.7" stroke-linejoin="round" />
<path d="M1439 369.6 1439.6 370 1440.2 368.5 1440.8 369.8 1441.4 369.7 1442 370 1442.6 369.1 1443.2 369.8 1443.8 369.1 1444.4 369.8 1445 369.2 1445.6 367.6 1446.2 362.3 1446.8 348.6 1447.4 304.4 1448 232.4 1448.6 176.3 1449.2 153.4 1449.8 146.9 1450.4 144.8 1451 143.8 1451.6 143.9 1452.2 143.9 1452.8 143.8 1453.4 143.6 1454 144.3 1454.6 144.5 1455.2 145.5 1455.8 149.7 1456.4 165.7 1457 209.6 1457.6 281.8 1458.2 336.7 1458.8 360.7 1459.4 367 1460 368.3 1460.6 367.4 1461.2 368.7 1461.8 368.5 1462.4 369.4 1463 369.8 1463.6 370.5 1464.2 369.5 1464.8 368.7 1465.4 371.2 1466 369.8 1466.6 369.4 1467.2 369.4 1467.8 368.6 1468.4 370 1469 369.8 1469.6 370.7 1470.2 370.3 1470.8 370.2 1471.4 370.4 1472 369.4 1472.6 369.2 1473.2 369.5 1473.8 368.7 1474.4 369.5 1475 369.3 1475.6 370 1476.2 369.5 1476.8 368.2 1477.4 369.6 1478 370.5 1478.6 368.3 1479.2 369 1479.8 369.6 1480.4 368.6 1481 369.2 1481.6 369.6 1482.2 368.6 1482.8 369.8 1483.4 369.8 1484 368.7 1484.6 369.6 1485.2 370.3 1485.8 369.4 1486.4 369.8 1487 369.8 1487.6 368.7 1488.2 367.6 1488.8 360.2 1489.4 336.3 1490 281.7 1490.6 210 1491.2 166.2 1491.8 149.9 1492.4 145.7 1493 144.7 1493.6 144.1 1494.2 144.2 1494.8 144.2 1495.4 143.9 1496 144.1 1496.6 144 1497.2 144.9 1497.8 146.5 1498.4 153.3 1499 176.5 1499.6 232 1500.2 304 1500.8 347.8 1501.4 362.5 1502 367.4 1502.6 369.4 1503.2 369.8 1503.8 369.6 1504.4 371.4 1505 370.4 1505.6 369.5 1506.2 370.1 1506.8 370.5 1507.4 369.8 1508 368.4 1508.6 369.7 1509.2 369.6 1509.8 371.1 1510.4 368.3 1511 370.7 1511.6 369.5 1512.2 370.3 1512.8 369.4 1513.4 369.7 1514 370.4 1514.6 369.7 1515.2 370.3 1515.8 369.5 1516.4 369.3 1517 369.5 1517.6 369.3 1518.2 369.5 1518.8 370.6 1519.4 368.8 1520 368.4 1520.6 369.6 1521.2 370.8 1521.8 370.3 1522.4 370.5 1523 370.5 1523.6 369.1 1524.2 369.7 1524.8 367.7 1525.4 369.2 1526 370 1526.6 368.5 1527.2 368.2 1527.8 368.7 1528.4 369.8 1529 370.4 1529.6 371.2 1530.2 369.9 1530.8 365.9 1531.4 358.4 1532 337.1 1532.6 282 1533.2 209 1533.8 165.8 1534.4 150 1535 145.6 1535.6 144.3 1536.2 144.2 1536.8 144.2 1537.4 143.9 1538 144.1 1538.6 144.5 1539.2 143.8 1539.8 144.3 1540.4 146.7 1541 154.1 1541.6 176.6 1542.2 232.6 1542.8 303.7 1543.4 348.2 1544 362.9 1544.6 368.4 1545.2 369.5 1545.8 369.8 1546.4 370.6 1547 370.4 1547.6 369.2 1548.2 370.3 1548.8 368.5 1549.4 370.4 1550 371.6 1550.6 370 1551.2 370 1551.8 369.7" fill="none" stroke="#3c96f3" stroke-width="2.3" stroke-linejoin="round" />
<path d="M1554.5 370.3 1555.1 369.4 1555.7 370.1 1556.3 369.5 1556.9 369.4 1557.5 369.8 1558.1 369.6 1558.7 368.5 1559.3 371.1 1559.9 369.8 1560.5 368.5 1561.1 370.4 1561.7 369.7 1562.3 369.8 1562.9 370.2 1563.5 369.1 1564.1 367.6 1564.7 369.6 1565.3 369.9 1565.9 370.4 1566.5 369.2 1567.1 369.5 1567.7 370 1568.3 369.5 1568.9 369.5 1569.5 369.9 1570.1 369 1570.7 370.8 1571.3 369 1571.9 369.7 1572.5 369.5 1573.1 369.2 1573.7 370 1574.3 370.1 1574.9 369.3 1575.5 364 1576.1 344.7 1576.7 292 1577.3 217.8 1577.9 178.4 1578.5 166.6 1579.1 163.7 1579.7 162.6 1580.3 162.3 1580.9 163.2 1581.5 162.6 1582.1 162.3 1582.7 162.4 1583.3 162.8 1583.9 163.2 1584.5 163.6 1585.1 166.8 1585.7 178.5 1586.3 218.6 1586.9 292.1 1587.5 344.8 1588.1 363.8 1588.7 368 1589.3 368.9 1589.9 370.1 1590.5 369.1 1591.1 369.7 1591.7 369.1 1592.3 369.6 1592.9 369.3 1593.5 370.4 1594.1 369.7 1594.7 369.7 1595.3 370.8 1595.9 367.6 1596.5 368.9 1597.1 367.7 1597.7 369.6 1598.3 369.9 1598.9 370.1 1599.5 369.8 1600.1 369 1600.7 370.9 1601.3 369.8 1601.9 369.4 1602.5 368.8 1603.1 369.9 1603.7 369.3 1604.3 369.3 1604.9 369.8 1605.5 369.8 1606.1 369 1606.7 370.5 1607.3 368.9 1607.9 368.8 1608.5 369.8 1609.1 369.7 1609.7 369.7 1610.3 369.3 1610.9 369.6 1611.5 369.2 1612.1 368.5 1612.7 370.1 1613.3 368.9 1613.9 369.4 1614.5 370 1615.1 369.2 1615.7 369.7 1616.3 360.9 1616.9 338.5 1617.5 279.1 1618.1 209.3 1618.7 175.1 1619.3 165.2 1619.9 163.7 1620.5 162.6 1621.1 162.7 1621.7 162.9 1622.3 162.5 1622.9 162.6 1623.5 162.8 1624.1 162.7 1624.7 163 1625.3 163.5 1625.9 167.4 1626.5 182.1 1627.1 228.4 1627.7 304.2 1628.3 350.2 1628.9 365.5 1629.5 367.8 1630.1 369.3 1630.7 369.4 1631.3 368.6 1631.9 370 1632.5 369.1 1633.1 369.5 1633.7 368.5 1634.3 370.3 1634.9 370.1 1635.5 369.9 1636.1 369 1636.7 369.2 1637.3 370.5 1637.9 369.4 1638.5 369.8 1639.1 369.7 1639.7 368.8 1640.3 370.7 1640.9 368.2 1641.5 369.8 1642.1 369.5 1642.7 368.5 1643.3 369.8 1643.9 370 1644.5 369.6 1645.1 369 1645.7 369.9 1646.3 370.4 1646.9 369.8 1647.5 370.8 1648.1 370.2 1648.7 370.1 1649.3 370.6 1649.9 369.1 1650.5 369.2 1651.1 370 1651.7 370 1652.3 370.7 1652.9 370.4 1653.5 369.7 1654.1 369.8 1654.7 369.4 1655.3 369.3 1655.9 369.2 1656.5 369.9 1657.1 367.9 1657.7 363.3 1658.3 345 1658.9 291.2 1659.5 218.3 1660.1 177.7 1660.7 166.5 1661.3 163.5 1661.9 162.9 1662.5 162.8 1663.1 162.2 1663.7 163.4 1664.3 162.7 1664.9 162.8 1665.5 162.2 1666.1 163.1 1666.7 163.7 1667.3 166.3 1667.9 178.5 1668.5 218.9 1669.1 291.4 1669.7 344.4 1670.3 364.5 1670.9 368.5 1671.5 369.3 1672.1 371.2 1672.7 369.8 1673.3 369.6 1673.9 369.9" fill="none" stroke="#86dc26" stroke-width="2.3" stroke-linejoin="round" />
<path d="M1677 369.4 1677.6 369.8 1678.2 369.8 1678.8 369.3 1679.4 369.5 1680 369.9 1680.6 369.9 1681.2 370 1681.8 370.2 1682.4 369.8 1683 370 1683.6 369.4 1684.2 369.3 1684.8 369.6 1685.4 366 1686 361.1 1686.6 346.2 1687.2 320.4 1687.8 305.3 1688.4 298.2 1689 296.9 1689.6 296.7 1690.2 296.5 1690.8 295.9 1691.4 295.8 1692 295.8 1692.6 296.4 1693.2 296.4 1693.8 297.7 1694.4 302 1695 314.4 1695.6 337.2 1696.2 356.9 1696.8 364.8 1697.4 369.4 1698 367.7 1698.6 370.3 1699.2 369.2 1699.8 369.5 1700.4 369.3 1701 369.4 1701.6 369.6 1702.2 369.5 1702.8 369 1703.4 370.1 1704 369.3 1704.6 370.4 1705.2 369.5 1705.8 369.2 1706.4 369.9 1707 370.2 1707.6 369.1 1708.2 369.5 1708.8 370.5 1709.4 369 1710 369.1 1710.6 369.7 1711.2 368.9 1711.8 368.1 1712.4 368.6 1713 369.8 1713.6 370 1714.2 370 1714.8 369.9 1715.4 368.9 1716 370 1716.6 370.3 1717.2 369.2 1717.8 370.2 1718.4 369.4 1719 369.7 1719.6 369.8 1720.2 368.7 1720.8 370.5 1721.4 369.1 1722 369.6 1722.6 369.3 1723.2 369.9 1723.8 369.9 1724.4 369.6 1725 370.4 1725.6 369.6 1726.2 368.5 1726.8 364.8 1727.4 358.8 1728 340.8 1728.6 317.2 1729.2 303 1729.8 298.3 1730.4 296.9 1731 296.7 1731.6 296.4 1732.2 295.9 1732.8 296.2 1733.4 295.8 1734 296.4 1734.6 296.7 1735.2 298 1735.8 303.2 1736.4 317.4 1737 340.6 1737.6 359.7 1738.2 368.3 1738.8 369.3 1739.4 370 1740 369.7 1740.6 369.4 1741.2 370.9 1741.8 369.4 1742.4 369.9 1743 369.6 1743.6 370 1744.2 369.6 1744.8 370 1745.4 368.9 1746 369.6 1746.6 370.4 1747.2 369 1747.8 369.2 1748.4 370.4 1749 369.9 1749.6 370.3 1750.2 368.3 1750.8 369.7 1751.4 368.9 1752 368.8 1752.6 369.9 1753.2 370.3 1753.8 368.7 1754.4 369 1755 369.3 1755.6 369.5 1756.2 368.8 1756.8 371 1757.4 370 1758 369.4 1758.6 369.3 1759.2 371 1759.8 371 1760.4 369.3 1761 369.8 1761.6 370.4 1762.2 368.9 1762.8 369.3 1763.4 370.4 1764 369.2 1764.6 369.4 1765.2 368.8 1765.8 369.2 1766.4 370 1767 369.1 1767.6 368.8 1768.2 369 1768.8 369.6 1769.4 365.8 1770 356.5 1770.6 337 1771.2 314.4 1771.8 302 1772.4 297.3 1773 296.6 1773.6 296.1 1774.2 296.3 1774.8 295.8 1775.4 296.3 1776 296 1776.6 295.8 1777.2 297.1 1777.8 298.5 1778.4 304.9 1779 321 1779.6 345.2 1780.2 361.5 1780.8 367.7 1781.4 369.3 1782 368.4 1782.6 368.5 1783.2 369.7 1783.8 369 1784.4 369.9 1785 369.7 1785.6 368.7" fill="none" stroke="#d94404" stroke-width="2.3" stroke-linejoin="round" />
<rect x="1324" y="27.6" width="463.3" height="409.4" fill="none" stroke="#000" stroke-width="2.6"/>
<line x1="1437.8" y1="31.6" x2="1437.8" y2="435" stroke="#000" stroke-width="4.2" stroke-dasharray="13.4 5.2"/>
<line x1="1552.7" y1="31.6" x2="1552.7" y2="435" stroke="#000" stroke-width="4.2" stroke-dasharray="13.4 5.2"/>
<line x1="1676" y1="31.6" x2="1676" y2="435" stroke="#000" stroke-width="4.2" stroke-dasharray="13.4 5.2"/>
<line x1="1315" y1="27.6" x2="1324" y2="27.6" stroke="#000" stroke-width="2.6" />
<line x1="1315" y1="198.6" x2="1324" y2="198.6" stroke="#000" stroke-width="2.6" />
<line x1="1315" y1="369.6" x2="1324" y2="369.6" stroke="#000" stroke-width="2.6" />
<line x1="1318.5" y1="113.1" x2="1324" y2="113.1" stroke="#000" stroke-width="2.6" />
<line x1="1318.5" y1="284.1" x2="1324" y2="284.1" stroke="#000" stroke-width="2.6" />
<text transform="translate(1308.5 41.2) scale(1.0 1)" font-size="30.5" text-anchor="end" >10</text>
<text transform="translate(1308.5 211.5) scale(1.0 1)" font-size="30.5" text-anchor="end" >5</text>
<text transform="translate(1308.5 382.5) scale(1.0 1)" font-size="30.5" text-anchor="end" >0</text>
<line x1="1324" y1="437" x2="1324" y2="446.5" stroke="#000" stroke-width="2.6" />
<line x1="1439.8" y1="437" x2="1439.8" y2="446.5" stroke="#000" stroke-width="2.6" />
<line x1="1555.7" y1="437" x2="1555.7" y2="446.5" stroke="#000" stroke-width="2.6" />
<line x1="1671.5" y1="437" x2="1671.5" y2="446.5" stroke="#000" stroke-width="2.6" />
<line x1="1787.3" y1="437" x2="1787.3" y2="446.5" stroke="#000" stroke-width="2.6" />
<line x1="1381.9" y1="437" x2="1381.9" y2="443" stroke="#000" stroke-width="2.6" />
<line x1="1497.7" y1="437" x2="1497.7" y2="443" stroke="#000" stroke-width="2.6" />
<line x1="1613.6" y1="437" x2="1613.6" y2="443" stroke="#000" stroke-width="2.6" />
<line x1="1729.4" y1="437" x2="1729.4" y2="443" stroke="#000" stroke-width="2.6" />
<rect x="1336.2" y="34.6" width="83.8" height="14.8" rx="3.2" fill="#d94404"/>
<rect x="1336.2" y="69.3" width="83.8" height="14.8" rx="3.2" fill="#86dc26"/>
<path d="M1342.9 47.4h9.1v9.7h-9.1zM1358.2 47.4h9.1v9.7h-9.1zM1373.6 47.4h9.1v9.7h-9.1zM1388.9 47.4h9.1v9.7h-9.1zM1404.2 47.4h9.1v9.7h-9.1z" fill="#d94404"/>
<path d="M1342.9 60.3h9.1v11h-9.1zM1358.2 60.3h9.1v11h-9.1zM1373.6 60.3h9.1v11h-9.1zM1388.9 60.3h9.1v11h-9.1zM1404.2 60.3h9.1v11h-9.1z" fill="#86dc26"/>
<rect x="1447.6" y="34.6" width="83.8" height="14.8" rx="3.2" fill="#d94404"/>
<rect x="1447.6" y="69.3" width="83.8" height="14.8" rx="3.2" fill="#86dc26"/>
<path d="M1454.3 60.3h9.1v11h-9.1zM1469.6 60.3h9.1v11h-9.1zM1485 60.3h9.1v11h-9.1zM1500.3 60.3h9.1v11h-9.1zM1515.6 60.3h9.1v11h-9.1z" fill="#86dc26"/>
<rect x="1560.5" y="34.6" width="83.8" height="14.8" rx="3.2" fill="#d94404"/>
<rect x="1560.5" y="69.3" width="83.8" height="14.8" rx="3.2" fill="#86dc26"/>
<path d="M1567.2 47.4h9.1v9.7h-9.1zM1582.5 47.4h9.1v9.7h-9.1zM1597.9 47.4h9.1v9.7h-9.1zM1613.2 47.4h9.1v9.7h-9.1zM1628.5 47.4h9.1v9.7h-9.1z" fill="#d94404"/>
<rect x="1682.3" y="34.6" width="83.8" height="14.8" rx="3.2" fill="#d94404"/>
<rect x="1682.3" y="69.3" width="83.8" height="14.8" rx="3.2" fill="#86dc26"/>
<path d="M1570.8 405.7H1653.2" stroke="#000" stroke-width="4" fill="none"/>
<path d="M1559 405.7l12.8 -6v12z" fill="#000"/>
<path d="M1665 405.7l-12.8 -6v12z" fill="#000"/>
<text transform="translate(1611 398) scale(1.0 1)" font-size="27" text-anchor="middle" >2 s</text>
<text transform="translate(1262 234.5) rotate(-90) scale(1.1 1)" font-size="33.5" text-anchor="middle" >Charge (nC)</text>
<path d="M157 737.3 157.8 739.4 158.6 735.3 159.4 737.6 160.2 732.4 161 736.1 161.8 726.5 162.6 727.4 163.4 727.3 164.2 725.5 165 726.4 165.8 729.5 166.6 729.9 167.4 731.3 168.2 736.8 169 736.3 169.8 740.2 170.6 741.9 171.4 738.1 172.2 729.6 173 717.9 173.8 712.4 174.6 696.6 175.4 690.9 176.2 661.1 177 626.7 177.8 598.4 178.6 578.2 179.4 562.5 180.2 548.7 181 537.9 181.8 556.4 182.6 569.4 183.4 581.8 184.2 622.9 185 668.2 185.8 712.8 186.6 753 187.4 759.4 188.2 781.5 189 785.8 189.8 780.8 190.6 772.4 191.4 775.4 192.2 760.1 193 753.1 193.8 736.8 194.6 747.9 195.4 747 196.2 740.8 197 739.1 197.8 737 198.6 732.8 199.4 727 200.2 733.5 201 741.2 201.8 748.9 202.6 750.9 203.4 758.5 204.2 762.8 205 772.4 205.8 763.7 206.6 758.8 207.4 751.3 208.2 742.8 209 739 209.8 732.6 210.6 729.3 211.4 726.6 212.2 719.6 213 720.2 213.8 716.3 214.6 715.1 215.4 711.5 216.2 715.3 217 719 217.8 720.2 218.6 717.5 219.4 722.3 220.2 726.6 221 732.7 221.8 738.4 222.6 737.9 223.4 739.8 224.2 742.3 225 745.4 225.8 746.7 226.6 749 227.4 747.5 228.2 751.6 229 753.7 229.8 753.7 230.6 761.1 231.4 754.7 232.2 751.8 233 750.2 233.8 745.3 234.6 747.5 235.4 744.6 236.2 741.2 237 726.2 237.8 736.1 238.6 731.7 239.4 729.2 240.2 724.7 241 722.1 241.8 718 242.6 726.9 243.4 726.2 244.2 729.8 245 732.8 245.8 736.8 246.6 744.7 247.4 739.4 248.2 738.4 249 731.5 249.8 728.7 250.6 731.4 251.4 731.5 252.2 734.8 253 739.6 253.8 730.5 254.6 732.1 255.4 731.1 256.2 727.4 257 725.1 257.8 721.8 258.6 724.9 259.4 722.7 260.2 725.1 261 726.5 261.8 728.2 262.6 730.5 263.4 730.8 264.2 734.9 265 738 265.8 733.6 266.6 734.9 267.4 736.3 268.2 736.7 269 735 269.8 734.3 270.6 730.3 271.4 731 272.2 727.5 273 724.1 273.8 723.2 274.6 723.4 275.4 718.2" fill="none" stroke="#a38c6c" stroke-width="0.9" stroke-linejoin="round" opacity="0.6"/>
<path d="M157 741.5 159.4 736.1 161.8 730.6 164.2 725.1 166.6 730.8 169 736.8 171.4 736 173.8 710.2 176.2 659.6 178.6 575.9 181 538.7 183.4 582.7 185.8 709.8 188.2 781.3 190.6 774 193 756.8 195.4 744.4 197.8 735.7 200.2 734.1 202.6 751.9 205 769.7 207.4 751 209.8 732.5 212.2 722.4 214.6 712.3 217 717.8 219.4 726.4 221.8 734.9 224.2 741.8 226.6 747.6 229 753.5 231.4 754.4 233.8 748.2 236.2 741.5 238.6 730.9 241 720.4 243.4 726.8 245.8 737.3 248.2 735 250.6 728.7 253 731.9 255.4 728.6 257.8 723.1 260.2 725.1 262.6 729.7 265 733 267.4 736.4 269.8 733.1 272.2 727.9 274.6 722.8" fill="none" stroke="#a38c6c" stroke-width="5.9" opacity="0.3" stroke-linejoin="round"/>
<path d="M278.3 728.4 279.1 730.9 279.9 733 280.7 741 281.5 741.6 282.3 730.2 283.1 733.5 283.9 734.8 284.7 735.9 285.5 734.6 286.3 737.5 287.1 741.3 287.9 737.1 288.7 737.1 289.5 734.7 290.3 732.2 291.1 732.3 291.9 726.2 292.7 730.6 293.5 731 294.3 727.3 295.1 724.9 295.9 720.7 296.7 721.3 297.5 721.9 298.3 714.8 299.1 714.1 299.9 712.5 300.7 719.2 301.5 720.5 302.3 725.5 303.1 720.1 303.9 721.4 304.7 721.3 305.5 727.6 306.3 725 307.1 726.5 307.9 731.5 308.7 730.7 309.5 729.7 310.3 732.2 311.1 728.5 311.9 732.8 312.7 735 313.5 734.8 314.3 736.2 315.1 738.9 315.9 739.3 316.7 735.6 317.5 734.9 318.3 735.1 319.1 736.8 319.9 736.1 320.7 735.8 321.5 732.6 322.3 732.5 323.1 730.9 323.9 733.1 324.7 732.8 325.5 733.2 326.3 731.3 327.1 730.8 327.9 731.9 328.7 732.2 329.5 727 330.3 729.1 331.1 733.3 331.9 727.5 332.7 729 333.5 731.2 334.3 728.7 335.1 730.5 335.9 736.2 336.7 731.4 337.5 726.7 338.3 729 339.1 731.4 339.9 731.6 340.7 729.7 341.5 738.2 342.3 732.8 343.1 731.1 343.9 736.1 344.7 733.3 345.5 733.5 346.3 734.5 347.1 735.7 347.9 732.9 348.7 737.1 349.5 739.9 350.3 734.3 351.1 736.2 351.9 733.1 352.7 734.8 353.5 733.8 354.3 733 355.1 733.2 355.9 731.6 356.7 731.6 357.5 733 358.3 730.4 359.1 722.7 359.9 732.2 360.7 728.9 361.5 731 362.3 730.9 363.1 732.9 363.9 733.6 364.7 733.6 365.5 734.8 366.3 732.6 367.1 731.2 367.9 729.6 368.7 732.8 369.5 734 370.3 733.4 371.1 730.8 371.9 740.4 372.7 734.7 373.5 732.9 374.3 728.4 375.1 733.6 375.9 732.7 376.7 732.7 377.5 736 378.3 734.8 379.1 736.1 379.9 733 380.7 730.7 381.5 738.2 382.3 735.2 383.1 736.2 383.9 731.9 384.7 735.6 385.5 735.2 386.3 737 387.1 732.4 387.9 731.9 388.7 732.7 389.5 733.1 390.3 735.1 391.1 733.7 391.9 734.5 392.7 750.4 393.5 734.1 394.3 734.5 395.1 734.4" fill="none" stroke="#a38c6c" stroke-width="0.9" stroke-linejoin="round" opacity="0.6"/>
<path d="M278.3 731.6 280.7 733.2 283.1 734.7 285.5 736.3 287.9 735.7 290.3 732.9 292.7 730.1 295.1 724.9 297.5 719 299.9 713.8 302.3 717.8 304.7 721.7 307.1 725.6 309.5 729.6 311.9 733.5 314.3 737.5 316.7 737.8 319.1 736.2 321.5 734.5 323.9 732.9 326.3 731.2 328.7 729.6 331.1 728.5 333.5 729.6 335.9 730.7 338.3 731.8 340.7 732.9 343.1 733.9 345.5 734.8 347.9 735.7 350.3 736.6 352.7 734.8 355.1 732.8 357.5 731.2 359.9 731.4 362.3 731.6 364.7 731.8 367.1 732 369.5 732.2 371.9 732.8 374.3 733.7 376.7 734.6 379.1 735.4 381.5 736.1 383.9 735.1 386.3 734.1 388.7 733.7 391.1 734.7 393.5 735.7" fill="none" stroke="#a38c6c" stroke-width="5.9" opacity="0.3" stroke-linejoin="round"/>
<path d="M401.1 734 401.9 732.7 402.7 734.8 403.5 732.9 404.3 735.5 405.1 731.5 405.9 731.7 406.7 733.7 407.5 732.2 408.3 727.5 409.1 730 409.9 732.1 410.7 730.8 411.5 733 412.3 732.1 413.1 730.6 413.9 730.3 414.7 725.9 415.5 730.4 416.3 730.9 417.1 732 417.9 728.9 418.7 729.1 419.5 731.6 420.3 732.7 421.1 735.8 421.9 731.9 422.7 733.1 423.5 731.8 424.3 732.6 425.1 734.9 425.9 734.9 426.7 735.9 427.5 734.2 428.3 735.5 429.1 735.8 429.9 733.2 430.7 735.1 431.5 722.3 432.3 734.8 433.1 734.3 433.9 734.3 434.7 733.5 435.5 732.8 436.3 741.4 437.1 734.5 437.9 730.8 438.7 734.3 439.5 733.6 440.3 736.1 441.1 735.7 441.9 733.6 442.7 733.2 443.5 737.4 444.3 732.5 445.1 733.8 445.9 730.7 446.7 734.4 447.5 736.4 448.3 730.9 449.1 735.7 449.9 737.1 450.7 733.8 451.5 735.8 452.3 733.1 453.1 729.7 453.9 732.8 454.7 730.6 455.5 733.9 456.3 735.8 457.1 733.4 457.9 737 458.7 730 459.5 734.4 460.3 733.4 461.1 731.8 461.9 734.6 462.7 732.6 463.5 733.6 464.3 734.7 465.1 731.9 465.9 733.7 466.7 733.3 467.5 733.1 468.3 732.7 469.1 733.6 469.9 731.7 470.7 734.6 471.5 733.2 472.3 736.4 473.1 731.3 473.9 734.2 474.7 733.7 475.5 733.2 476.3 732.9 477.1 732.3 477.9 736.4 478.7 733.7 479.5 733.3 480.3 737.4 481.1 733 481.9 731.7 482.7 731.8 483.5 732.1 484.3 731.5 485.1 733 485.9 737.9 486.7 733.8 487.5 731.9 488.3 728.7 489.1 730.5 489.9 735.5 490.7 736.6 491.5 736.6 492.3 734.4 493.1 734.4 493.9 735.4 494.7 734.2 495.5 733.9 496.3 738.8 497.1 733.3 497.9 734 498.7 735.9 499.5 735.2 500.3 738.2 501.1 746.9 501.9 736.1 502.7 725.9 503.5 734.6 504.3 734.2 505.1 733.8 505.9 724 506.7 734.9 507.5 736.3 508.3 735.9 509.1 733.9 509.9 735.6 510.7 737 511.5 733.1 512.3 732.8 513.1 735.7 513.9 734.3 514.7 733.7 515.5 733 516.3 733.8" fill="none" stroke="#a38c6c" stroke-width="0.9" stroke-linejoin="round" opacity="0.6"/>
<path d="M401.1 733.4 403.5 732.8 405.9 732.2 408.3 731.6 410.7 731 413.1 730.4 415.5 730.5 417.9 731.4 420.3 732.2 422.7 733.1 425.1 734 427.5 734.9 429.9 734.8 432.3 734.8 434.7 734.7 437.1 734.6 439.5 734.6 441.9 734.5 444.3 734.3 446.7 734.1 449.1 733.8 451.5 733.6 453.9 733.4 456.3 733.1 458.7 732.9 461.1 733 463.5 733 465.9 733.1 468.3 733.1 470.7 733.2 473.1 733.2 475.5 733.3 477.9 733.3 480.3 733.3 482.7 733.5 485.1 733.6 487.5 733.7 489.9 733.8 492.3 733.9 494.7 734.1 497.1 734.2 499.5 734.3 501.9 734.4 504.3 734.4 506.7 734.3 509.1 734.3 511.5 734.2 513.9 734.1 516.3 734" fill="none" stroke="#a38c6c" stroke-width="5.5" opacity="0.3" stroke-linejoin="round"/>
<path d="M157 741.5C158.3 738.5 161.8 725 164.3 725C166.8 725 168.9 747.1 170.9 741.5C172.9 736 174 722.5 175.3 694.1C176.6 665.7 177.2 612.4 178.2 583.8C179.2 555.3 179.9 535.3 180.8 535.3C181.8 535.3 182.5 547.3 183.5 583.8C184.5 620.4 185.4 701.3 186.3 738.2C187.2 775.1 187.1 786.9 188.5 788.9C189.9 790.9 192.1 759.9 194 749.2C196 738.5 197.6 725.6 199.6 729.4C201.5 733.2 203.3 769.4 205.1 770.2C206.9 771 207.7 744.5 209.5 733.8C211.3 723.1 212.6 709.8 215 710.6C217.4 711.4 219.9 729.9 222.7 738.2C225.5 746.5 228 756.2 230.4 756.9C232.8 757.7 234 749.6 235.9 742.6C237.9 735.7 239.6 718.8 241.5 718.4C243.4 718 244.9 738.6 246.5 740.4C248.1 742.2 249 729.7 250.3 728.3C251.5 726.9 252.1 733.9 253.6 732.7C255.1 731.5 256.8 722.3 258.4 721.7C260 721.1 260.7 726.6 262.4 729.4C264.1 732.2 265.5 738.7 267.9 737.1C270.3 735.5 274.2 723.5 275.6 720.6" fill="none" stroke="#8b137a" stroke-width="2.9" stroke-linejoin="round" stroke-linecap="round" />
<path d="M278.3 731.6C279.8 732.6 284 737.5 286.7 737.1C289.4 736.7 290.9 733.6 293.3 729.4C295.6 725.1 295.8 711.8 299.7 713.5C303.6 715.2 309.6 736.2 315.1 738.9C320.7 741.5 325.8 729.3 330.6 728.3C335.3 727.3 338 731.8 341.6 733.4C345.2 734.9 347.6 737.1 350.4 736.7C353.2 736.3 353.5 731.9 357 731.1C360.6 730.4 365.9 731.3 370.3 732.2C374.6 733.2 378.1 736 381.3 736.2C384.5 736.4 385.3 733.3 387.9 733.4C390.5 733.4 394.2 736.1 395.6 736.7" fill="none" stroke="#3c96f3" stroke-width="2.6" stroke-linejoin="round" stroke-linecap="round" />
<path d="M401.1 733.4C403.5 732.8 409.6 729.8 414.4 730C419.1 730.3 422.4 734.1 427.6 734.9C432.7 735.7 437.5 734.8 443 734.5C448.6 734.1 451.7 733.1 458.5 732.9C465.2 732.7 472.6 733.1 480.5 733.4C488.4 733.6 496 734.3 502.6 734.5C509.1 734.6 514.3 734.1 516.9 734" fill="none" stroke="#86dc26" stroke-width="2.8" stroke-linejoin="round" stroke-linecap="round" />
<path d="M522.5 735.3 523.1 733 523.7 732.1 524.3 734.5 524.9 731.4 525.5 731.8 526.1 733.2 526.7 733.4 527.3 733.1 527.9 730.7 528.5 731.6 529.1 734.2 529.7 734.2 530.3 732 530.9 733.8 531.5 733.7 532.1 734.9 532.7 732.4 533.3 735.5 533.9 733 534.5 735.5 535.1 734.7 535.7 732 536.3 733 536.9 733.8 537.5 734.9 538.1 731.5 538.7 732.8 539.3 734.3 539.9 734.1 540.5 732 541.1 732.2 541.7 734 542.3 732 542.9 733.8 543.5 734.7 544.1 733.5 544.7 729.7 545.3 735.1 545.9 735.1 546.5 735.4 547.1 734.6 547.7 731.1 548.3 735.4 548.9 733.9 549.5 734.8 550.1 733.2 550.7 733.1 551.3 733.1 551.9 735.7 552.5 733.8 553.1 733.2 553.7 731.7 554.3 734.1 554.9 733.5 555.5 733.7 556.1 734.8 556.7 734.5 557.3 733.5 557.9 733.8 558.5 733.6 559.1 734.5 559.7 734.4 560.3 733.6 560.9 732.3 561.5 734.6 562.1 734.7 562.7 732 563.3 734 563.9 732.9 564.5 730.4 565.1 733.4 565.7 734.8 566.3 732.4 566.9 732.5 567.5 734.9 568.1 731.9 568.7 732.1 569.3 733 569.9 734.3 570.5 734.3 571.1 732.7 571.7 733 572.3 733.6 572.9 732.9 573.5 732.2 574.1 731.9 574.7 734.4 575.3 733.1 575.9 737.4 576.5 734.3 577.1 732.4 577.7 733.4 578.3 733.9 578.9 734 579.5 734.1 580.1 734.1 580.7 733.2 581.3 734.3 581.9 736.5 582.5 732.8 583.1 732.9 583.7 734.4 584.3 735.2 584.9 734.6 585.5 735.1 586.1 733.4 586.7 733.1 587.3 734.3 587.9 734.4 588.5 735.8 589.1 735.6 589.7 730.9 590.3 734.5 590.9 732.5 591.5 730.5 592.1 734 592.7 733.2 593.3 732.9 593.9 731.6 594.5 732 595.1 733.1 595.7 731.3 596.3 733.3 596.9 733.6 597.5 733.2 598.1 733.8 598.7 733.3 599.3 731.8 599.9 732 600.5 733.6 601.1 734.8 601.7 733.6 602.3 732.7 602.9 733.6 603.5 730.9 604.1 732 604.7 732.9 605.3 733.3 605.9 733 606.5 733 607.1 731.7 607.7 732.6 608.3 733.7 608.9 730.8 609.5 731.7 610.1 732.9 610.7 735.5 611.3 734.3 611.9 735.6 612.5 735.3 613.1 732.8 613.7 733.3 614.3 731.8 614.9 735 615.5 734.4 616.1 734.2 616.7 734.3 617.3 734 617.9 733.7 618.5 733.8 619.1 735.1 619.7 732.3 620.3 731.9 620.9 733.4 621.5 735 622.1 733.7 622.7 733.1 623.3 734.6 623.9 733.6 624.5 730.8 625.1 732 625.7 730.5 626.3 733.1 626.9 732.8 627.5 734 628.1 736.4 628.7 732.6 629.3 733.4 629.9 732.9 630.5 729.5 631.1 732.3 631.7 732.4 632.3 733.8 632.9 732.2 633.5 731.6 634.1 734.2 634.7 733.3 635.3 732.2 635.9 732.4 636.5 733 637.1 734.6 637.7 735.4 638.3 731.6 638.9 735 639.5 733.5" fill="none" stroke="#d94404" stroke-width="1.6" stroke-linejoin="round" />
<line x1="522.5" y1="733.4" x2="640" y2="733.4" stroke="#d94404" stroke-width="2.6" />
<rect x="157" y="473" width="485" height="409" fill="none" stroke="#000" stroke-width="2.6"/>
<line x1="278.2" y1="477" x2="278.2" y2="880" stroke="#000" stroke-width="4.2" stroke-dasharray="13.4 5.2"/>
<line x1="397.8" y1="477" x2="397.8" y2="880" stroke="#000" stroke-width="4.2" stroke-dasharray="13.4 5.2"/>
<line x1="520.6" y1="477" x2="520.6" y2="880" stroke="#000" stroke-width="4.2" stroke-dasharray="13.4 5.2"/>
<line x1="148" y1="473.6" x2="157" y2="473.6" stroke="#000" stroke-width="2.6" />
<line x1="148" y1="609.2" x2="157" y2="609.2" stroke="#000" stroke-width="2.6" />
<line x1="148" y1="744.8" x2="157" y2="744.8" stroke="#000" stroke-width="2.6" />
<line x1="148" y1="880.4" x2="157" y2="880.4" stroke="#000" stroke-width="2.6" />
<line x1="151.5" y1="541.4" x2="157" y2="541.4" stroke="#000" stroke-width="2.6" />
<line x1="151.5" y1="677" x2="157" y2="677" stroke="#000" stroke-width="2.6" />
<line x1="151.5" y1="812.6" x2="157" y2="812.6" stroke="#000" stroke-width="2.6" />
<text transform="translate(140 496) scale(1.0 1)" font-size="30.5" text-anchor="end" >2</text>
<text transform="translate(140 622.1) scale(1.0 1)" font-size="30.5" text-anchor="end" >1</text>
<text transform="translate(140 757.7) scale(1.0 1)" font-size="30.5" text-anchor="end" >0</text>
<text transform="translate(140 891.8) scale(1.0 1)" font-size="30.5" text-anchor="end" >-1</text>
<line x1="157" y1="882" x2="157" y2="891.5" stroke="#000" stroke-width="2.6" />
<line x1="278.2" y1="882" x2="278.2" y2="891.5" stroke="#000" stroke-width="2.6" />
<line x1="399.5" y1="882" x2="399.5" y2="891.5" stroke="#000" stroke-width="2.6" />
<line x1="520.8" y1="882" x2="520.8" y2="891.5" stroke="#000" stroke-width="2.6" />
<line x1="642" y1="882" x2="642" y2="891.5" stroke="#000" stroke-width="2.6" />
<line x1="217.6" y1="882" x2="217.6" y2="888" stroke="#000" stroke-width="2.6" />
<line x1="338.9" y1="882" x2="338.9" y2="888" stroke="#000" stroke-width="2.6" />
<line x1="460.1" y1="882" x2="460.1" y2="888" stroke="#000" stroke-width="2.6" />
<line x1="581.4" y1="882" x2="581.4" y2="888" stroke="#000" stroke-width="2.6" />
<rect x="174.9" y="483.5" width="87.7" height="14.8" rx="3.2" fill="#d94404"/>
<rect x="174.9" y="518.2" width="87.7" height="14.8" rx="3.2" fill="#86dc26"/>
<path d="M181.9 496.3h9.5v9.7h-9.5zM198 496.3h9.5v9.7h-9.5zM214 496.3h9.5v9.7h-9.5zM230.1 496.3h9.5v9.7h-9.5zM246.1 496.3h9.5v9.7h-9.5z" fill="#d94404"/>
<path d="M181.9 509.2h9.5v11h-9.5zM198 509.2h9.5v11h-9.5zM214 509.2h9.5v11h-9.5zM230.1 509.2h9.5v11h-9.5zM246.1 509.2h9.5v11h-9.5z" fill="#86dc26"/>
<rect x="291" y="483.5" width="87.7" height="14.8" rx="3.2" fill="#d94404"/>
<rect x="291" y="518.2" width="87.7" height="14.8" rx="3.2" fill="#86dc26"/>
<path d="M298 509.2h9.5v11h-9.5zM314.1 509.2h9.5v11h-9.5zM330.1 509.2h9.5v11h-9.5zM346.1 509.2h9.5v11h-9.5zM362.2 509.2h9.5v11h-9.5z" fill="#86dc26"/>
<rect x="412.6" y="483.5" width="87.7" height="14.8" rx="3.2" fill="#d94404"/>
<rect x="412.6" y="518.2" width="87.7" height="14.8" rx="3.2" fill="#86dc26"/>
<path d="M419.6 496.3h9.5v9.7h-9.5zM435.7 496.3h9.5v9.7h-9.5zM451.7 496.3h9.5v9.7h-9.5zM467.8 496.3h9.5v9.7h-9.5zM483.8 496.3h9.5v9.7h-9.5z" fill="#d94404"/>
<rect x="533.6" y="483.5" width="87.7" height="14.8" rx="3.2" fill="#d94404"/>
<rect x="533.6" y="518.2" width="87.7" height="14.8" rx="3.2" fill="#86dc26"/>
<path d="M177.2 855H259" stroke="#000" stroke-width="4" fill="none"/>
<path d="M165.4 855l12.8 -6v12z" fill="#000"/>
<path d="M270.8 855l-12.8 -6v12z" fill="#000"/>
<text transform="translate(217.5 846) scale(1.0 1)" font-size="27" text-anchor="middle" >1 s</text>
<text transform="translate(94.5 690) rotate(-90) scale(1.1 1)" font-size="33.5" text-anchor="middle" >Voltage (V)</text>
<path d="M745.4 776.1 746.2 780.2 747 776.9 747.8 778.4 748.6 780.4 749.4 781.1 750.2 782.3 751 784.1 751.8 782.9 752.6 778.4 753.4 779 754.2 776.1 755 778.8 755.8 780 756.6 777.5 757.4 777.6 758.2 776.3 759 785.9 759.8 775.8 760.6 766.2 761.4 777.6 762.2 777.4 763 777.3 763.8 773.4 764.6 768.6 765.4 763.3 766.2 758 767 749.5 767.8 718.5 768.6 687.6 769.4 652.1 770.2 615.8 771 577.8 771.8 596.9 772.6 630.3 773.4 660.8 774.2 684.9 775 692.5 775.8 706.5 776.6 716.3 777.4 733.9 778.2 742.3 779 756.3 779.8 766.8 780.6 780 781.4 789.6 782.2 796.5 783 806.9 783.8 809.6 784.6 817.7 785.4 823.9 786.2 818.4 787 813.6 787.8 814.9 788.6 801.5 789.4 797.2 790.2 794 791 796.4 791.8 788.1 792.6 789.7 793.4 783.4 794.2 780.3 795 782.5 795.8 785.5 796.6 787.8 797.4 793.8 798.2 797.9 799 805.3 799.8 806.8 800.6 801.3 801.4 795 802.2 794.9 803 784.9 803.8 779.4 804.6 780.4 805.4 761.6 806.2 766.5 807 762.4 807.8 760.3 808.6 755.1 809.4 757.1 810.2 758.4 811 763.8 811.8 768.8 812.6 775.2 813.4 772 814.2 777.2 815 778.4 815.8 778.3 816.6 782.7 817.4 788.8 818.2 789.2 819 784.2 819.8 784.2 820.6 784.8 821.4 786.5 822.2 790.1 823 790.8 823.8 794.3 824.6 797.2 825.4 799.5 826.2 803.5 827 802.3 827.8 801 828.6 799.4 829.4 785.5 830.2 799 831 794.6 831.8 794.5 832.6 792.6 833.4 794.6 834.2 789.8 835 786.3 835.8 789.1 836.6 781.7 837.4 782.4 838.2 779.2 839 777.3 839.8 776.6 840.6 777 841.4 778.9 842.2 780 843 776.7 843.8 778.3 844.6 777.3 845.4 773.9 846.2 775.2 847 777.4 847.8 781.6 848.6 781.6 849.4 784 850.2 780.8 851 780.6 851.8 775.5 852.6 772.3 853.4 775.7 854.2 771.7 855 769.3 855.8 772.3 856.6 776.9 857.4 778.1 858.2 778 859 777.2 859.8 781.6" fill="none" stroke="#a38c6c" stroke-width="0.9" stroke-linejoin="round" opacity="0.6"/>
<path d="M745.4 775.7 747.8 779 750.2 782.2 752.6 780.6 755 778.8 757.4 777.3 759.8 776.7 762.2 776 764.6 769 767 747.8 769.4 653.1 771.8 594.6 774.2 681.1 776.6 719 779 755.6 781.4 789.2 783.8 810.8 786.2 821.1 788.6 801.9 791 791.7 793.4 782.6 795.8 786.8 798.2 799.8 800.6 802.9 803 783.7 805.4 769 807.8 759.4 810.2 760.4 812.6 767.6 815 776.7 817.4 786.3 819.8 782.6 822.2 789.8 824.6 797 827 801.3 829.4 798.5 831.8 795.6 834.2 788.8 836.6 782 839 776.9 841.4 777.4 843.8 777.9 846.2 775.8 848.6 781.4 851 779.5 853.4 773.2 855.8 771.7 858.2 779.3" fill="none" stroke="#a38c6c" stroke-width="5.6" opacity="0.3" stroke-linejoin="round"/>
<path d="M862.7 775.1 863.5 775.9 864.3 776.3 865.1 774.6 865.9 776.7 866.7 776.5 867.5 775.1 868.3 773.5 869.1 776.8 869.9 774.3 870.7 775.2 871.5 775.2 872.3 773.1 873.1 772 873.9 768.3 874.7 763.2 875.5 757.2 876.3 756.9 877.1 766 877.9 747.7 878.7 745.8 879.5 741.8 880.3 737.3 881.1 737.7 881.9 737.3 882.7 736 883.5 739.1 884.3 743.4 885.1 743.8 885.9 747.6 886.7 753.2 887.5 752.9 888.3 757.5 889.1 748.1 889.9 763.7 890.7 769.7 891.5 771.2 892.3 779.4 893.1 775.9 893.9 780.5 894.7 782.4 895.5 779.3 896.3 779.8 897.1 781.7 897.9 781.6 898.7 778.9 899.5 792.4 900.3 781.2 901.1 783.5 901.9 784.5 902.7 785.1 903.5 786.3 904.3 780.6 905.1 776.3 905.9 780.6 906.7 781.4 907.5 778.5 908.3 785.6 909.1 789 909.9 776.6 910.7 790 911.5 780.7 912.3 780.1 913.1 776.6 913.9 772.7 914.7 767.8 915.5 764 916.3 766.2 917.1 767.4 917.9 768 918.7 769.2 919.5 769.2 920.3 770.2 921.1 769.3 921.9 770.8 922.7 770 923.5 772.1 924.3 771.3 925.1 765.8 925.9 771.4 926.7 771.5 927.5 769.4 928.3 773.9 929.1 771.9 929.9 777.2 930.7 776.1 931.5 777.8 932.3 772.6 933.1 780.6 933.9 781 934.7 782 935.5 779.9 936.3 782.9 937.1 781 937.9 779.5 938.7 781.4 939.5 776.6 940.3 778.7 941.1 777.3 941.9 777.9 942.7 784 943.5 775.9 944.3 776.9 945.1 776.2 945.9 776.4 946.7 773.9 947.5 761.9 948.3 775 949.1 778 949.9 775 950.7 776.5 951.5 777.1 952.3 776.7 953.1 777.9 953.9 776.3 954.7 776.9 955.5 778.8 956.3 775.1 957.1 775.1 957.9 776 958.7 777.2 959.5 770.1 960.3 771.8 961.1 773.9 961.9 772.3 962.7 775.5 963.5 775.4 964.3 774.1 965.1 776.8 965.9 775.2 966.7 773.1 967.5 775.1 968.3 761.6 969.1 777.9 969.9 774.7 970.7 775.1 971.5 775.3 972.3 774.2 973.1 775.5 973.9 781.4 974.7 785.5 975.5 776.9 976.3 778.4 977.1 774.6 977.9 773.5 978.7 774 979.5 774.1 980.3 772.7" fill="none" stroke="#a38c6c" stroke-width="0.9" stroke-linejoin="round" opacity="0.6"/>
<path d="M862.7 776.8 865.1 776.2 867.5 775.6 869.9 775 872.3 771.6 874.7 762.5 877.1 753.4 879.5 743.2 881.9 736.2 884.3 742.8 886.7 750.7 889.1 761.1 891.5 771.5 893.9 777.1 896.3 779.5 898.7 781.9 901.1 784.3 903.5 782.3 905.9 782.5 908.3 784.9 910.7 781.3 913.1 775.1 915.5 768.9 917.9 766.7 920.3 768.7 922.7 770.7 925.1 771.3 927.5 771.3 929.9 774.4 932.3 777.8 934.7 781.2 937.1 781.2 939.5 779.5 941.9 777.8 944.3 776.1 946.7 774.7 949.1 775.5 951.5 776.3 953.9 776.3 956.3 774.9 958.7 773.5 961.1 773.8 963.5 774 965.9 774.3 968.3 774.6 970.7 775.7 973.1 776.9 975.5 777.6 977.9 775.7 980.3 773.8" fill="none" stroke="#a38c6c" stroke-width="5.6" opacity="0.3" stroke-linejoin="round"/>
<path d="M982.9 780.1 983.7 777.9 984.5 775.7 985.3 779.1 986.1 771.8 986.9 776.8 987.7 772.2 988.5 773.8 989.3 776.2 990.1 774.3 990.9 778.2 991.7 775.1 992.5 774.7 993.3 773.1 994.1 772.7 994.9 776.8 995.7 772.7 996.5 770.7 997.3 774.2 998.1 772.6 998.9 770 999.7 769.8 1000.5 770.5 1001.3 770.4 1002.1 771.7 1002.9 769.3 1003.7 767.1 1004.5 768.9 1005.3 767.2 1006.1 773.7 1006.9 770.4 1007.7 764.4 1008.5 770.1 1009.3 768.1 1010.1 773.8 1010.9 773.3 1011.7 772.9 1012.5 771.8 1013.3 775.1 1014.1 774.2 1014.9 775.9 1015.7 776.4 1016.5 777.5 1017.3 780 1018.1 779.3 1018.9 776.8 1019.7 777.4 1020.5 780.1 1021.3 778.5 1022.1 780.3 1022.9 780.3 1023.7 776 1024.5 777.7 1025.3 777.4 1026.1 777.6 1026.9 776.1 1027.7 776 1028.5 774.1 1029.3 777.5 1030.1 775.2 1030.9 772.8 1031.7 776.1 1032.5 776.6 1033.3 774.8 1034.1 773.9 1034.9 773.4 1035.7 773.8 1036.5 777.7 1037.3 776.7 1038.1 771.1 1038.9 773.7 1039.7 773.4 1040.5 773.3 1041.3 775.3 1042.1 774.2 1042.9 774.2 1043.7 772.1 1044.5 775.3 1045.3 774.1 1046.1 775.2 1046.9 775.6 1047.7 772.4 1048.5 775.4 1049.3 780.7 1050.1 776.6 1050.9 775.8 1051.7 777 1052.5 775.1 1053.3 778.6 1054.1 777.7 1054.9 780.3 1055.7 780.5 1056.5 775.5 1057.3 772.5 1058.1 777.3 1058.9 777.4 1059.7 775.6 1060.5 776.3 1061.3 779.6 1062.1 776.4 1062.9 777.9 1063.7 776.1 1064.5 776.3 1065.3 775.7 1066.1 774.3 1066.9 776 1067.7 774.9 1068.5 775 1069.3 776.4 1070.1 781.5 1070.9 772.7 1071.7 772.2 1072.5 774.2 1073.3 776.9 1074.1 776.7 1074.9 770 1075.7 774.4 1076.5 778 1077.3 773.2 1078.1 775.4 1078.9 778.7 1079.7 774.6 1080.5 775.2 1081.3 773.4 1082.1 776.2 1082.9 775.4 1083.7 776.1 1084.5 774.7 1085.3 775.9 1086.1 774.5 1086.9 778.3 1087.7 774.3 1088.5 779.1 1089.3 777.3 1090.1 776 1090.9 775.5 1091.7 774.8 1092.5 774.5 1093.3 777.8 1094.1 780.1 1094.9 779" fill="none" stroke="#a38c6c" stroke-width="0.9" stroke-linejoin="round" opacity="0.6"/>
<path d="M982.9 776.8 985.3 776.3 987.7 775.7 990.1 775.2 992.5 774.7 994.9 773.3 997.3 771.9 999.7 770.5 1002.1 769 1004.5 768.4 1006.9 769.9 1009.3 771.4 1011.7 772.9 1014.1 774.2 1016.5 775.4 1018.9 776.6 1021.3 777.8 1023.7 777.3 1026.1 776.5 1028.5 775.8 1030.9 775.1 1033.3 774.5 1035.7 774.2 1038.1 773.9 1040.5 773.6 1042.9 773.9 1045.3 774.6 1047.7 775.4 1050.1 776.1 1052.5 776.8 1054.9 777.4 1057.3 777.1 1059.7 776.8 1062.1 776.5 1064.5 776.1 1066.9 775.8 1069.3 775.6 1071.7 775.6 1074.1 775.5 1076.5 775.4 1078.9 775.3 1081.3 775.3 1083.7 775.5 1086.1 775.8 1088.5 776 1090.9 776.3 1093.3 776.6" fill="none" stroke="#a38c6c" stroke-width="5.6" opacity="0.3" stroke-linejoin="round"/>
<path d="M745.4 775.7C746.3 776.9 748.2 782 750.3 782.3C752.3 782.6 754.5 778.6 756.9 777.5C759.3 776.3 761.7 779.6 763.5 775.7C765.3 771.8 765.8 774.5 766.8 755.8C767.8 737.2 768.2 705.7 769 672.1C769.8 638.4 770.4 569.1 771.2 569.1C772 569.1 772.4 641.6 773.6 672.1C774.8 702.5 776.5 717.6 777.8 738.2C779.2 758.8 779.7 770.8 781.1 786.7C782.5 802.6 784.1 824 785.5 826.4C786.9 828.8 787.3 808.5 788.8 799.9C790.4 791.4 792.4 777.4 794.4 779C796.3 780.6 798.1 809.8 799.9 808.8C801.7 807.8 802.7 783 804.3 773.5C805.9 764 807.1 756.6 808.7 755.8C810.3 755 811.5 763.5 813.1 769.1C814.7 774.6 816.3 784.3 817.5 786.7C818.7 789.1 818.1 779.5 819.7 782.3C821.3 785.1 824.1 799.8 826.3 802.1C828.5 804.5 829.7 800.1 831.8 795.5C834 791 836.3 780 838.5 776.8C840.6 773.6 842.6 778.1 844 777.9C845.4 777.7 845.2 774.7 846.2 775.7C847.2 776.7 847.9 784.6 849.5 783.4C851.1 782.2 853 768.5 855 769.1C857 769.7 859.5 783.5 860.5 786.7" fill="none" stroke="#8b137a" stroke-width="2.9" stroke-linejoin="round" stroke-linecap="round" />
<path d="M862.7 776.8C864.3 776.4 869 778.8 871.5 774.6C874.1 770.4 875.3 760.8 877 753.6C878.8 746.5 879.9 736.1 881.5 734.9C883 733.7 883.9 739.7 885.9 747C887.9 754.4 889.7 768.9 892.5 775.7C895.3 782.4 899.1 783.5 901.3 784.5C903.5 785.5 903.2 781 904.6 781.2C906 781.4 906.8 788.4 909 785.6C911.2 782.8 914.2 768.3 916.7 765.8C919.3 763.2 921.4 770.3 923.4 771.3C925.3 772.3 925.6 769.3 927.8 771.3C929.9 773.3 932.1 781.7 935.5 782.3C938.9 782.9 943.3 775.6 946.5 774.6C949.7 773.6 950.9 777 953.1 776.8C955.3 776.6 955.9 773.9 958.6 773.5C961.4 773.1 965.6 773.8 968.6 774.6C971.5 775.4 973 778.1 975.2 777.9C977.4 777.7 979.7 774.3 980.7 773.5" fill="none" stroke="#3c96f3" stroke-width="2.4" stroke-linejoin="round" stroke-linecap="round" />
<path d="M982.9 776.8C984.7 776.4 989 776.2 992.8 774.6C996.6 773 1000.3 768.2 1003.8 768C1007.4 767.8 1009.5 771.7 1012.7 773.5C1015.8 775.3 1016.6 777.7 1021.5 777.9C1026.4 778.1 1040 774.6 1040 774.6C1040 774.6 1022.9 777.9 1021.6 777.9C1020.3 777.9 1029 775.4 1032.6 774.6C1036.2 773.8 1037.5 773 1041.4 773.5C1045.4 774 1049.9 777.1 1054.7 777.5C1059.4 777.9 1063.1 776.1 1067.9 775.7C1072.7 775.3 1076.2 775 1081.1 775.2C1086.1 775.4 1092.9 776.5 1095.5 776.8" fill="none" stroke="#86dc26" stroke-width="2.8" stroke-linejoin="round" stroke-linecap="round" />
<path d="M1106 776.6 1106.8 773.2 1107.6 774.9 1108.4 774.1 1109.2 776 1110 777.7 1110.8 775.6 1111.6 776.6 1112.4 776.8 1113.2 775.8 1114 776.5 1114.8 778 1115.6 775.3 1116.4 776.2 1117.2 775.7 1118 778.2 1118.8 775.8 1119.6 776.1 1120.4 777.4 1121.2 777.2 1122 777.1 1122.8 776.2 1123.6 775.4 1124.4 777.1 1125.2 777.6 1126 776.4 1126.8 776.2 1127.6 775.9 1128.4 775 1129.2 777.1 1130 776.1 1130.8 775.7 1131.6 775.3 1132.4 775.7 1133.2 775.7 1134 776.2 1134.8 776.2 1135.6 777.2 1136.4 775.9 1137.2 775.8 1138 776.6 1138.8 774.2 1139.6 776.3 1140.4 774.8 1141.2 776.7 1142 775.3 1142.8 776 1143.6 776 1144.4 776.1 1145.2 775.4 1146 776.1 1146.8 775.3 1147.6 775.8 1148.4 776.8 1149.2 776 1150 776 1150.8 774.9 1151.6 777 1152.4 775.5 1153.2 774.2 1154 775.8 1154.8 777.6 1155.6 776.5 1156.4 775.9 1157.2 776.4 1158 776.3 1158.8 776.3 1159.6 774.6 1160.4 776 1161.2 777.1 1162 776.3 1162.8 776.2 1163.6 770.2 1164.4 776.7 1165.2 776.7 1166 775.8 1166.8 776.4 1167.6 775.8 1168.4 776.2 1169.2 777 1170 776.2 1170.8 778.1 1171.6 776.7 1172.4 775.1 1173.2 776.7 1174 775.6 1174.8 776 1175.6 779.3 1176.4 773.6 1177.2 776.6 1178 776.6 1178.8 776.3 1179.6 776.3 1180.4 776.9 1181.2 776 1182 774.4 1182.8 777 1183.6 778.9 1184.4 775.8 1185.2 776 1186 776.2 1186.8 779.3 1187.6 776.4 1188.4 776.7 1189.2 777.6 1190 776.3 1190.8 776.6 1191.6 779.2 1192.4 776.7 1193.2 775 1194 776.3 1194.8 775.1 1195.6 777.2 1196.4 774.8 1197.2 776.5 1198 775.5 1198.8 777 1199.6 777.8 1200.4 775.8 1201.2 773 1202 777.3 1202.8 776.2 1203.6 776 1204.4 777.7 1205.2 776.7 1206 776.4 1206.8 775.3 1207.6 776.2 1208.4 776.4 1209.2 775.8 1210 776.3 1210.8 775.7 1211.6 776.1 1212.4 774.7 1213.2 775.3 1214 775.5" fill="none" stroke="#a38c6c" stroke-width="0.9" stroke-linejoin="round" opacity="0.35"/>
<path d="M1106 776.3 1108.4 776.3 1110.8 776.3 1113.2 776.3 1115.6 776.2 1118 776.2 1120.4 776.2 1122.8 776.2 1125.2 776.2 1127.6 776.2 1130 776.1 1132.4 776.1 1134.8 776.1 1137.2 776.1 1139.6 776.1 1142 776.1 1144.4 776 1146.8 776 1149.2 776 1151.6 776 1154 776.1 1156.4 776.1 1158.8 776.1 1161.2 776.1 1163.6 776.2 1166 776.2 1168.4 776.2 1170.8 776.3 1173.2 776.3 1175.6 776.3 1178 776.4 1180.4 776.4 1182.8 776.4 1185.2 776.3 1187.6 776.3 1190 776.3 1192.4 776.3 1194.8 776.2 1197.2 776.2 1199.6 776.2 1202 776.1 1204.4 776.1 1206.8 776.1 1209.2 776.1 1211.6 776 1214 776" fill="none" stroke="#a38c6c" stroke-width="4.5" opacity="0.3" stroke-linejoin="round"/>
<path d="M1106 776.3C1113.9 776.2 1136.7 776 1150 776C1163.3 776 1168.5 776.4 1180 776.4C1191.5 776.4 1207.9 776.1 1214 776" fill="none" stroke="#d94404" stroke-width="2.6" stroke-linejoin="round" stroke-linecap="round" />
<rect x="745.4" y="472" width="470.6" height="410" fill="none" stroke="#000" stroke-width="2.6"/>
<line x1="862.7" y1="476" x2="862.7" y2="880" stroke="#000" stroke-width="4.2" stroke-dasharray="13.4 5.2"/>
<line x1="981.8" y1="476" x2="981.8" y2="880" stroke="#000" stroke-width="4.2" stroke-dasharray="13.4 5.2"/>
<line x1="1104.3" y1="476" x2="1104.3" y2="880" stroke="#000" stroke-width="4.2" stroke-dasharray="13.4 5.2"/>
<line x1="736.4" y1="471.9" x2="745.4" y2="471.9" stroke="#000" stroke-width="2.6" />
<line x1="736.4" y1="546.5" x2="745.4" y2="546.5" stroke="#000" stroke-width="2.6" />
<line x1="736.4" y1="621.1" x2="745.4" y2="621.1" stroke="#000" stroke-width="2.6" />
<line x1="736.4" y1="695.7" x2="745.4" y2="695.7" stroke="#000" stroke-width="2.6" />
<line x1="736.4" y1="770.3" x2="745.4" y2="770.3" stroke="#000" stroke-width="2.6" />
<line x1="736.4" y1="844.9" x2="745.4" y2="844.9" stroke="#000" stroke-width="2.6" />
<line x1="739.9" y1="509.2" x2="745.4" y2="509.2" stroke="#000" stroke-width="2.6" />
<line x1="739.9" y1="583.8" x2="745.4" y2="583.8" stroke="#000" stroke-width="2.6" />
<line x1="739.9" y1="658.4" x2="745.4" y2="658.4" stroke="#000" stroke-width="2.6" />
<line x1="739.9" y1="733" x2="745.4" y2="733" stroke="#000" stroke-width="2.6" />
<line x1="739.9" y1="807.6" x2="745.4" y2="807.6" stroke="#000" stroke-width="2.6" />
<text transform="translate(725.9 491.8) scale(1.0 1)" font-size="30.5" text-anchor="end" >8</text>
<text transform="translate(725.9 559.4) scale(1.0 1)" font-size="30.5" text-anchor="end" >6</text>
<text transform="translate(725.9 634) scale(1.0 1)" font-size="30.5" text-anchor="end" >4</text>
<text transform="translate(725.9 708.6) scale(1.0 1)" font-size="30.5" text-anchor="end" >2</text>
<text transform="translate(725.9 783.2) scale(1.0 1)" font-size="30.5" text-anchor="end" >0</text>
<text transform="translate(725.9 857.8) scale(1.0 1)" font-size="30.5" text-anchor="end" >-2</text>
<line x1="745.4" y1="882" x2="745.4" y2="891.5" stroke="#000" stroke-width="2.6" />
<line x1="863" y1="882" x2="863" y2="891.5" stroke="#000" stroke-width="2.6" />
<line x1="980.7" y1="882" x2="980.7" y2="891.5" stroke="#000" stroke-width="2.6" />
<line x1="1098.3" y1="882" x2="1098.3" y2="891.5" stroke="#000" stroke-width="2.6" />
<line x1="1216" y1="882" x2="1216" y2="891.5" stroke="#000" stroke-width="2.6" />
<line x1="804.2" y1="882" x2="804.2" y2="888" stroke="#000" stroke-width="2.6" />
<line x1="921.9" y1="882" x2="921.9" y2="888" stroke="#000" stroke-width="2.6" />
<line x1="1039.5" y1="882" x2="1039.5" y2="888" stroke="#000" stroke-width="2.6" />
<line x1="1157.2" y1="882" x2="1157.2" y2="888" stroke="#000" stroke-width="2.6" />
<rect x="762.8" y="478.7" width="87.7" height="15.2" rx="3.2" fill="#d94404"/>
<rect x="762.8" y="514.4" width="87.7" height="15.2" rx="3.2" fill="#86dc26"/>
<path d="M769.8 491.9h9.5v9.9h-9.5zM785.8 491.9h9.5v9.9h-9.5zM801.9 491.9h9.5v9.9h-9.5zM817.9 491.9h9.5v9.9h-9.5zM834 491.9h9.5v9.9h-9.5z" fill="#d94404"/>
<path d="M769.8 505.2h9.5v11.3h-9.5zM785.8 505.2h9.5v11.3h-9.5zM801.9 505.2h9.5v11.3h-9.5zM817.9 505.2h9.5v11.3h-9.5zM834 505.2h9.5v11.3h-9.5z" fill="#86dc26"/>
<rect x="879" y="478.7" width="87.7" height="15.2" rx="3.2" fill="#d94404"/>
<rect x="879" y="514.4" width="87.7" height="15.2" rx="3.2" fill="#86dc26"/>
<path d="M886 505.2h9.5v11.3h-9.5zM902 505.2h9.5v11.3h-9.5zM918.1 505.2h9.5v11.3h-9.5zM934.1 505.2h9.5v11.3h-9.5zM950.2 505.2h9.5v11.3h-9.5z" fill="#86dc26"/>
<rect x="996.2" y="478.7" width="87.7" height="15.2" rx="3.2" fill="#d94404"/>
<rect x="996.2" y="514.4" width="87.7" height="15.2" rx="3.2" fill="#86dc26"/>
<path d="M1003.2 491.9h9.5v9.9h-9.5zM1019.2 491.9h9.5v9.9h-9.5zM1035.3 491.9h9.5v9.9h-9.5zM1051.4 491.9h9.5v9.9h-9.5zM1067.4 491.9h9.5v9.9h-9.5z" fill="#d94404"/>
<rect x="1118.8" y="478.7" width="87.7" height="15.2" rx="3.2" fill="#d94404"/>
<rect x="1118.8" y="514.4" width="87.7" height="15.2" rx="3.2" fill="#86dc26"/>
<path d="M764.3 855H845.4" stroke="#000" stroke-width="4" fill="none"/>
<path d="M752.5 855l12.8 -6v12z" fill="#000"/>
<path d="M857.2 855l-12.8 -6v12z" fill="#000"/>
<text transform="translate(806 846) scale(1.0 1)" font-size="27" text-anchor="middle" >1 s</text>
<text transform="translate(692 690) rotate(-90) scale(1.1 1)" font-size="33.5" text-anchor="middle" >Current (nA)</text>
<path d="M1328.1 771.5 1328.9 782.1 1329.7 773.9 1330.5 772.7 1331.3 773.9 1332.1 774.8 1332.9 779.2 1333.7 782.4 1334.5 782 1335.3 782.2 1336.1 785.9 1336.9 785.2 1337.7 790.6 1338.5 785.3 1339.3 788.3 1340.1 782.7 1340.9 789.2 1341.7 791.3 1342.5 790.4 1343.3 792 1344.1 790.8 1344.9 791.7 1345.7 792.3 1346.5 794.6 1347.3 801.5 1348.1 787.7 1348.9 776.4 1349.7 773.4 1350.5 762.8 1351.3 755.6 1352.1 752.9 1352.9 739.7 1353.7 718 1354.5 684.7 1355.3 669.3 1356.1 651.9 1356.9 631 1357.7 613.2 1358.5 605.5 1359.3 595.6 1360.1 585.5 1360.9 575.3 1361.7 562.2 1362.5 563.9 1363.3 554.4 1364.1 552.7 1364.9 560.3 1365.7 566 1366.5 568.1 1367.3 575.7 1368.1 576.8 1368.9 579.7 1369.7 585.8 1370.5 596.5 1371.3 609.6 1372.1 614.9 1372.9 641.8 1373.7 619.4 1374.5 639.1 1375.3 656.5 1376.1 659.2 1376.9 657 1377.7 664 1378.5 666.8 1379.3 679.4 1380.1 683 1380.9 691 1381.7 692.8 1382.5 697.4 1383.3 696.2 1384.1 709.9 1384.9 708.6 1385.7 700.9 1386.5 711.9 1387.3 700.8 1388.1 709.3 1388.9 703.5 1389.7 710.4 1390.5 702.6 1391.3 702.7 1392.1 697 1392.9 693.7 1393.7 702.2 1394.5 699.1 1395.3 697 1396.1 689.7 1396.9 686.8 1397.7 697.7 1398.5 687.7 1399.3 689.8 1400.1 692.9 1400.9 704.8 1401.7 689.2 1402.5 697.3 1403.3 708.9 1404.1 704.9 1404.9 714.4 1405.7 723.2 1406.5 718.1 1407.3 726.6 1408.1 732.8 1408.9 733.7 1409.7 736.6 1410.5 740.9 1411.3 744.3 1412.1 746.3 1412.9 749.3 1413.7 747.8 1414.5 757.2 1415.3 758.4 1416.1 756.1 1416.9 763 1417.7 765.7 1418.5 760.5 1419.3 763.1 1420.1 764 1420.9 758 1421.7 764.5 1422.5 762.5 1423.3 775.3 1424.1 761.9 1424.9 767.6 1425.7 770.5 1426.5 761.9 1427.3 772.5 1428.1 774.4 1428.9 773.8 1429.7 772.3 1430.5 777.7 1431.3 778.7 1432.1 775.9 1432.9 776.9 1433.7 768.3 1434.5 774.7 1435.3 779 1436.1 783.8 1436.9 780.2 1437.7 786.2 1438.5 787.2" fill="none" stroke="#a38c6c" stroke-width="0.9" stroke-linejoin="round" opacity="0.6"/>
<path d="M1328.1 769.3 1330.5 773.7 1332.9 778.1 1335.3 782.5 1337.7 786.9 1340.1 788.4 1342.5 789.6 1344.9 790.8 1347.3 792 1349.7 773.3 1352.1 750.1 1354.5 695.6 1356.9 631.6 1359.3 595.9 1361.7 571.3 1364.1 556.3 1366.5 568.3 1368.9 580.3 1371.3 605.9 1373.7 632.3 1376.1 656.4 1378.5 672 1380.9 687.6 1383.3 699.1 1385.7 706.3 1388.1 707.8 1390.5 702.2 1392.9 696.8 1395.3 691.8 1397.7 686.7 1400.1 691.7 1402.5 699.6 1404.9 712.8 1407.3 726 1409.7 737.1 1412.1 746.7 1414.5 756.3 1416.9 759.8 1419.3 762.2 1421.7 764.6 1424.1 767.2 1426.5 770.1 1428.9 773 1431.3 775.9 1433.7 777.9 1436.1 780 1438.5 782.1" fill="none" stroke="#a38c6c" stroke-width="7.5" opacity="0.3" stroke-linejoin="round"/>
<path d="M1442.7 787.9 1443.5 785.8 1444.3 778.7 1445.1 784.1 1445.9 776.9 1446.7 784 1447.5 778.3 1448.3 777.7 1449.1 781.4 1449.9 778.5 1450.7 783 1451.5 779.8 1452.3 777.9 1453.1 777.8 1453.9 778.8 1454.7 782.4 1455.5 773.5 1456.3 776.1 1457.1 767.2 1457.9 770.5 1458.7 761.5 1459.5 762.9 1460.3 760.7 1461.1 760.5 1461.9 751.3 1462.7 754.5 1463.5 752.4 1464.3 748.3 1465.1 751.8 1465.9 749.6 1466.7 745.4 1467.5 745.1 1468.3 746.9 1469.1 745.6 1469.9 730.1 1470.7 736.3 1471.5 737.3 1472.3 738.6 1473.1 740.5 1473.9 744.5 1474.7 738.7 1475.5 747.6 1476.3 746.7 1477.1 741 1477.9 745.2 1478.7 743.5 1479.5 746.9 1480.3 750.4 1481.1 749.2 1481.9 735.2 1482.7 751.3 1483.5 755.5 1484.3 757.5 1485.1 753.8 1485.9 752.3 1486.7 756.8 1487.5 752.3 1488.3 752.3 1489.1 753.7 1489.9 749.3 1490.7 757 1491.5 749.1 1492.3 762.8 1493.1 751.5 1493.9 751.5 1494.7 751.4 1495.5 753.3 1496.3 754 1497.1 753.1 1497.9 745.1 1498.7 754.2 1499.5 742.8 1500.3 755.5 1501.1 754.1 1501.9 762.4 1502.7 754.7 1503.5 764.4 1504.3 756.7 1505.1 761.4 1505.9 759.5 1506.7 763.8 1507.5 750.6 1508.3 764.3 1509.1 780.1 1509.9 755.3 1510.7 763.5 1511.5 758.9 1512.3 763.5 1513.1 770.3 1513.9 759.6 1514.7 757.3 1515.5 753.2 1516.3 766.7 1517.1 766.8 1517.9 757.6 1518.7 766.9 1519.5 766 1520.3 769.3 1521.1 770.8 1521.9 766.2 1522.7 760.2 1523.5 768.7 1524.3 759.7 1525.1 765.3 1525.9 762.4 1526.7 771.3 1527.5 765.7 1528.3 766.3 1529.1 765.1 1529.9 768 1530.7 766.7 1531.5 770 1532.3 769.4 1533.1 766.7 1533.9 766.4 1534.7 766.4 1535.5 766.2 1536.3 767.5 1537.1 766.9 1537.9 768 1538.7 769.3 1539.5 761.4 1540.3 770 1541.1 771 1541.9 773.2 1542.7 769.7 1543.5 770.8 1544.3 770.5 1545.1 772.8 1545.9 775 1546.7 773.7 1547.5 771.8 1548.3 772.5 1549.1 782.4 1549.9 769.5 1550.7 772.1 1551.5 772.1 1552.3 771.7" fill="none" stroke="#a38c6c" stroke-width="0.9" stroke-linejoin="round" opacity="0.6"/>
<path d="M1442.7 780.7 1445.1 781 1447.5 781.2 1449.9 780.7 1452.3 778 1454.7 775.4 1457.1 770.5 1459.5 763.8 1461.9 757.1 1464.3 750.6 1466.7 746.1 1469.1 741.5 1471.5 739.7 1473.9 741.9 1476.3 744.1 1478.7 746.3 1481.1 748.5 1483.5 750.7 1485.9 752.9 1488.3 753.6 1490.7 753.2 1493.1 752.8 1495.5 752.4 1497.9 753.1 1500.3 755 1502.7 756.8 1505.1 758.7 1507.5 760.5 1509.9 761.8 1512.3 762.9 1514.7 764 1517.1 765.1 1519.5 766.2 1521.9 766.9 1524.3 766.7 1526.7 766.6 1529.1 766.4 1531.5 766.2 1533.9 766 1536.3 766.9 1538.7 768.1 1541.1 769.3 1543.5 770.5 1545.9 771.7 1548.3 772 1550.7 770.4" fill="none" stroke="#a38c6c" stroke-width="7.9" opacity="0.3" stroke-linejoin="round"/>
<path d="M1557.3 778.8 1558.1 770.8 1558.9 771.2 1559.7 771.3 1560.5 760.3 1561.3 769.2 1562.1 768.6 1562.9 765.3 1563.7 754.6 1564.5 756.9 1565.3 764.4 1566.1 756.1 1566.9 753.6 1567.7 754.7 1568.5 748.7 1569.3 753.6 1570.1 757.8 1570.9 757.6 1571.7 752.4 1572.5 749.9 1573.3 735.5 1574.1 733.2 1574.9 746.3 1575.7 759.1 1576.5 745.8 1577.3 751.5 1578.1 753.1 1578.9 751.5 1579.7 753.3 1580.5 743.3 1581.3 753 1582.1 746.4 1582.9 740.7 1583.7 752.6 1584.5 747.2 1585.3 757.5 1586.1 749.4 1586.9 747.8 1587.7 755.9 1588.5 758.2 1589.3 756.4 1590.1 755.8 1590.9 753.6 1591.7 753.2 1592.5 751.8 1593.3 755.7 1594.1 750.6 1594.9 752.9 1595.7 760.2 1596.5 755.8 1597.3 753.9 1598.1 756 1598.9 751.7 1599.7 756.6 1600.5 755.5 1601.3 754.3 1602.1 755.1 1602.9 756.1 1603.7 761 1604.5 752.3 1605.3 756.8 1606.1 764.4 1606.9 761.8 1607.7 771.6 1608.5 768.2 1609.3 757.1 1610.1 752 1610.9 754.9 1611.7 743.7 1612.5 759.2 1613.3 759.5 1614.1 757.4 1614.9 763.2 1615.7 759.9 1616.5 744.5 1617.3 758.8 1618.1 754.2 1618.9 768.2 1619.7 765 1620.5 767.1 1621.3 759.2 1622.1 756.5 1622.9 764.1 1623.7 762.1 1624.5 758.6 1625.3 769.5 1626.1 766 1626.9 767.9 1627.7 769.6 1628.5 768.5 1629.3 760.6 1630.1 768.3 1630.9 767.4 1631.7 768.8 1632.5 769 1633.3 766.3 1634.1 768.5 1634.9 764.4 1635.7 759.1 1636.5 765.5 1637.3 759.2 1638.1 762.5 1638.9 765.1 1639.7 765.9 1640.5 771.6 1641.3 772.3 1642.1 770.3 1642.9 762.4 1643.7 766.9 1644.5 770.3 1645.3 772.7 1646.1 776 1646.9 769 1647.7 768.5 1648.5 779 1649.3 768.2 1650.1 769.8 1650.9 764.4 1651.7 769.5 1652.5 775.3 1653.3 769.3 1654.1 776.1 1654.9 775.1 1655.7 774.3 1656.5 775.8 1657.3 773.5 1658.1 776.2 1658.9 773.6 1659.7 769.3 1660.5 777.6 1661.3 770.9 1662.1 776.3 1662.9 746.5 1663.7 787.3 1664.5 775.5 1665.3 744.9 1666.1 774.9 1666.9 773.2 1667.7 772.1 1668.5 778.7 1669.3 778.4 1670.1 771" fill="none" stroke="#a38c6c" stroke-width="0.9" stroke-linejoin="round" opacity="0.6"/>
<path d="M1557.3 772.5 1559.7 768.5 1562.1 764.5 1564.5 760.5 1566.9 756.5 1569.3 754.3 1571.7 752.3 1574.1 750.3 1576.5 748.3 1578.9 748.9 1581.3 750.1 1583.7 751.3 1586.1 752.5 1588.5 753.7 1590.9 754.7 1593.3 755.2 1595.7 755.6 1598.1 756.1 1600.5 756.6 1602.9 757.1 1605.3 757.6 1607.7 758.3 1610.1 759.3 1612.5 760.2 1614.9 761.2 1617.3 762.1 1619.7 763.1 1622.1 764.1 1624.5 764.7 1626.9 765.2 1629.3 765.7 1631.7 766.3 1634.1 766.8 1636.5 767.3 1638.9 767.8 1641.3 768.3 1643.7 768.8 1646.1 769.3 1648.5 769.9 1650.9 770.4 1653.3 771 1655.7 771.5 1658.1 772.1 1660.5 772.6 1662.9 773.2 1665.3 773.7 1667.7 774.2 1670.1 774.8" fill="none" stroke="#a38c6c" stroke-width="8.3" opacity="0.3" stroke-linejoin="round"/>
<path d="M1673.5 767.4 1674.3 767.4 1675.1 768 1675.9 769.5 1676.7 765.8 1677.5 773.3 1678.3 763.8 1679.1 765.3 1679.9 768.7 1680.7 766.7 1681.5 761.7 1682.3 768.7 1683.1 767.8 1683.9 767.9 1684.7 763.6 1685.5 767.7 1686.3 762.2 1687.1 766.4 1687.9 766.3 1688.7 775.1 1689.5 768.3 1690.3 771 1691.1 767.7 1691.9 768.1 1692.7 760.7 1693.5 771.5 1694.3 765.6 1695.1 765.6 1695.9 769.6 1696.7 771.6 1697.5 772.6 1698.3 766.4 1699.1 767.6 1699.9 770.8 1700.7 771 1701.5 769.2 1702.3 767.9 1703.1 764.9 1703.9 765.7 1704.7 764.9 1705.5 772 1706.3 769.9 1707.1 766 1707.9 773.4 1708.7 769.7 1709.5 771.7 1710.3 765.3 1711.1 766.1 1711.9 767.7 1712.7 770.5 1713.5 773.7 1714.3 763.4 1715.1 767.9 1715.9 768.2 1716.7 760.3 1717.5 766.9 1718.3 769.6 1719.1 772.7 1719.9 773 1720.7 766.8 1721.5 762.4 1722.3 770.4 1723.1 768.8 1723.9 776.4 1724.7 767.6 1725.5 767.5 1726.3 767.5 1727.1 768.6 1727.9 767 1728.7 769.5 1729.5 766.7 1730.3 768.9 1731.1 768.3 1731.9 771.8 1732.7 771.5 1733.5 766.6 1734.3 767.2 1735.1 769 1735.9 769.2 1736.7 764.4 1737.5 770.1 1738.3 771.8 1739.1 762 1739.9 775.9 1740.7 771 1741.5 764.4 1742.3 769.1 1743.1 770.8 1743.9 768.8 1744.7 763.1 1745.5 773.7 1746.3 769.3 1747.1 764.1 1747.9 761.3 1748.7 762.8 1749.5 769.3 1750.3 762.7 1751.1 773.1 1751.9 768.1 1752.7 768.6 1753.5 766.6 1754.3 770.9 1755.1 769.3 1755.9 769.5 1756.7 769.3 1757.5 764.8 1758.3 767.7 1759.1 771.1 1759.9 766.4 1760.7 760.2 1761.5 770.8 1762.3 768.5 1763.1 768.5 1763.9 776.9 1764.7 765.9 1765.5 765.2 1766.3 760.8 1767.1 769.7 1767.9 768.6 1768.7 759.6 1769.5 765.9 1770.3 765.6 1771.1 766 1771.9 766.5 1772.7 763.3 1773.5 765 1774.3 767.3 1775.1 771.7 1775.9 761.1 1776.7 767.4 1777.5 768.1 1778.3 768.3 1779.1 770.5 1779.9 769 1780.7 767.8 1781.5 769.8 1782.3 774.7 1783.1 766 1783.9 769.4 1784.7 767.3 1785.5 768.1 1786.3 764.8" fill="none" stroke="#a38c6c" stroke-width="0.9" stroke-linejoin="round" opacity="0.6"/>
<path d="M1673.5 768.3 1675.9 768.2 1678.3 768.1 1680.7 768 1683.1 768 1685.5 767.9 1687.9 767.8 1690.3 767.8 1692.7 767.7 1695.1 767.6 1697.5 767.8 1699.9 768 1702.3 768.2 1704.7 768.3 1707.1 768.5 1709.5 768.7 1711.9 768.8 1714.3 769 1716.7 769.2 1719.1 769.2 1721.5 769.1 1723.9 769 1726.3 768.9 1728.7 768.8 1731.1 768.8 1733.5 768.7 1735.9 768.6 1738.3 768.5 1740.7 768.4 1743.1 768.3 1745.5 768.2 1747.9 768.1 1750.3 768 1752.7 767.9 1755.1 767.8 1757.5 767.7 1759.9 767.6 1762.3 767.5 1764.7 767.4 1767.1 767.3 1769.5 767.2 1771.9 767.2 1774.3 767.1 1776.7 767 1779.1 767.5 1781.5 768.1 1783.9 768.7 1786.3 769.2" fill="none" stroke="#a38c6c" stroke-width="7.1" opacity="0.3" stroke-linejoin="round"/>
<path d="M1328.1 769.3C1329.8 772.5 1334.3 783.1 1337.9 787.3C1341.4 791.4 1345 799.8 1347.7 792.2C1350.4 784.5 1350.8 776.8 1352.6 744.7C1354.4 712.6 1355.6 648.2 1357.5 613.7C1359.5 579.2 1361.4 559 1363.4 553.1C1365.5 547.2 1366.8 563 1369 581C1371.2 599 1373.2 632.4 1375.5 653C1377.9 673.6 1380 685.3 1382.1 695.6C1384.1 705.9 1385.2 709.7 1387 710.3C1388.8 710.9 1390 703.2 1391.9 698.9C1393.9 694.6 1396 687 1397.8 686.4C1399.6 685.8 1399.8 687.4 1401.7 695.6C1403.6 703.7 1405.9 720.4 1408.3 731.6C1410.6 742.8 1412.2 751.6 1414.8 757.8C1417.5 764 1420.1 762.7 1423 766C1426 769.2 1428.4 772.9 1431.2 775.8C1434 778.7 1437.4 781.2 1438.7 782.4" fill="none" stroke="#8b137a" stroke-width="2.9" stroke-linejoin="round" stroke-linecap="round" />
<path d="M1442.7 780.7C1443.8 780.8 1446.9 782.5 1449.2 781.4C1451.6 780.2 1453.1 779.6 1455.8 774.2C1458.4 768.7 1461.3 757.6 1463.9 751.2C1466.6 744.9 1467.8 739.7 1470.5 738.8C1473.1 737.9 1475.7 743.6 1478.7 746.3C1481.6 749 1483.6 752.8 1486.9 753.9C1490.1 754.9 1492.9 750.9 1496.7 752.2C1500.5 753.5 1503.7 758.4 1508.1 761.1C1512.6 763.7 1516.5 766.1 1521.2 767C1526 767.8 1529.6 765 1534.3 766C1539.1 767 1544.2 771.9 1547.4 772.5C1550.7 773.1 1551.5 769.8 1552.4 769.3" fill="none" stroke="#3c96f3" stroke-width="2.6" stroke-linejoin="round" stroke-linecap="round" />
<path d="M1557.3 772.5C1559 769.6 1563.5 760.6 1567.1 756.2C1570.6 751.7 1572.8 748.3 1576.9 748C1581 747.7 1584.7 752.8 1590 754.5C1595.3 756.3 1600.5 756 1606.4 757.8C1612.3 759.6 1615.7 762.3 1622.8 764.3C1629.8 766.4 1637.1 767.4 1645.7 769.3C1654.2 771.1 1665.8 773.8 1670.2 774.8" fill="none" stroke="#86dc26" stroke-width="2.8" stroke-linejoin="round" stroke-linecap="round" />
<path d="M1673.5 768.3C1677.3 768.2 1686.8 767.4 1694.8 767.6C1702.7 767.8 1708.9 769.1 1717.7 769.3C1726.5 769.4 1733.3 768.7 1743.9 768.3C1754.5 767.9 1769 766.8 1776.6 767C1784.3 767.1 1784.7 768.8 1786.5 769.3" fill="none" stroke="#d94404" stroke-width="2.8" stroke-linejoin="round" stroke-linecap="round" />
<rect x="1326.4" y="474.6" width="462.1" height="409.2" fill="none" stroke="#000" stroke-width="2.6"/>
<line x1="1441" y1="478.6" x2="1441" y2="881.8" stroke="#000" stroke-width="4.2" stroke-dasharray="13.4 5.2"/>
<line x1="1553.3" y1="478.6" x2="1553.3" y2="881.8" stroke="#000" stroke-width="4.2" stroke-dasharray="13.4 5.2"/>
<line x1="1672.9" y1="478.6" x2="1672.9" y2="881.8" stroke="#000" stroke-width="4.2" stroke-dasharray="13.4 5.2"/>
<line x1="1317.4" y1="475.1" x2="1326.4" y2="475.1" stroke="#000" stroke-width="2.6" />
<line x1="1317.4" y1="577.1" x2="1326.4" y2="577.1" stroke="#000" stroke-width="2.6" />
<line x1="1317.4" y1="679.1" x2="1326.4" y2="679.1" stroke="#000" stroke-width="2.6" />
<line x1="1317.4" y1="781.1" x2="1326.4" y2="781.1" stroke="#000" stroke-width="2.6" />
<line x1="1317.4" y1="883.1" x2="1326.4" y2="883.1" stroke="#000" stroke-width="2.6" />
<line x1="1320.9" y1="526.1" x2="1326.4" y2="526.1" stroke="#000" stroke-width="2.6" />
<line x1="1320.9" y1="628.1" x2="1326.4" y2="628.1" stroke="#000" stroke-width="2.6" />
<line x1="1320.9" y1="730.1" x2="1326.4" y2="730.1" stroke="#000" stroke-width="2.6" />
<line x1="1320.9" y1="832.1" x2="1326.4" y2="832.1" stroke="#000" stroke-width="2.6" />
<text transform="translate(1314.4 495.5) scale(1.0 1)" font-size="30.5" text-anchor="end" >1.5</text>
<text transform="translate(1314.4 590) scale(1.0 1)" font-size="30.5" text-anchor="end" >1.0</text>
<text transform="translate(1314.4 692) scale(1.0 1)" font-size="30.5" text-anchor="end" >0.5</text>
<text transform="translate(1314.4 794) scale(1.0 1)" font-size="30.5" text-anchor="end" >0</text>
<text transform="translate(1314.4 894.5) scale(1.0 1)" font-size="30.5" text-anchor="end" >-0.5</text>
<line x1="1326.4" y1="883.8" x2="1326.4" y2="893.3" stroke="#000" stroke-width="2.6" />
<line x1="1441.9" y1="883.8" x2="1441.9" y2="893.3" stroke="#000" stroke-width="2.6" />
<line x1="1557.5" y1="883.8" x2="1557.5" y2="893.3" stroke="#000" stroke-width="2.6" />
<line x1="1673" y1="883.8" x2="1673" y2="893.3" stroke="#000" stroke-width="2.6" />
<line x1="1788.5" y1="883.8" x2="1788.5" y2="893.3" stroke="#000" stroke-width="2.6" />
<line x1="1384.2" y1="883.8" x2="1384.2" y2="889.8" stroke="#000" stroke-width="2.6" />
<line x1="1499.7" y1="883.8" x2="1499.7" y2="889.8" stroke="#000" stroke-width="2.6" />
<line x1="1615.2" y1="883.8" x2="1615.2" y2="889.8" stroke="#000" stroke-width="2.6" />
<line x1="1730.7" y1="883.8" x2="1730.7" y2="889.8" stroke="#000" stroke-width="2.6" />
<rect x="1336.1" y="483.5" width="86.8" height="15.4" rx="3.2" fill="#d94404"/>
<rect x="1336.1" y="519.7" width="86.8" height="15.4" rx="3.2" fill="#86dc26"/>
<path d="M1343 496.9h9.4v10h-9.4zM1358.9 496.9h9.4v10h-9.4zM1374.8 496.9h9.4v10h-9.4zM1390.7 496.9h9.4v10h-9.4zM1406.6 496.9h9.4v10h-9.4z" fill="#d94404"/>
<path d="M1343 510.3h9.4v11.4h-9.4zM1358.9 510.3h9.4v11.4h-9.4zM1374.8 510.3h9.4v11.4h-9.4zM1390.7 510.3h9.4v11.4h-9.4zM1406.6 510.3h9.4v11.4h-9.4z" fill="#86dc26"/>
<rect x="1450.6" y="483.5" width="86.8" height="15.4" rx="3.2" fill="#d94404"/>
<rect x="1450.6" y="519.7" width="86.8" height="15.4" rx="3.2" fill="#86dc26"/>
<path d="M1457.5 510.3h9.4v11.4h-9.4zM1473.4 510.3h9.4v11.4h-9.4zM1489.3 510.3h9.4v11.4h-9.4zM1505.2 510.3h9.4v11.4h-9.4zM1521.1 510.3h9.4v11.4h-9.4z" fill="#86dc26"/>
<rect x="1567" y="483.5" width="86.8" height="15.4" rx="3.2" fill="#d94404"/>
<rect x="1567" y="519.7" width="86.8" height="15.4" rx="3.2" fill="#86dc26"/>
<path d="M1573.9 496.9h9.4v10h-9.4zM1589.8 496.9h9.4v10h-9.4zM1605.7 496.9h9.4v10h-9.4zM1621.6 496.9h9.4v10h-9.4zM1637.5 496.9h9.4v10h-9.4z" fill="#d94404"/>
<rect x="1687.2" y="483.5" width="86.8" height="15.4" rx="3.2" fill="#d94404"/>
<rect x="1687.2" y="519.7" width="86.8" height="15.4" rx="3.2" fill="#86dc26"/>
<path d="M1339.6 856H1425.9" stroke="#000" stroke-width="4" fill="none"/>
<path d="M1327.8 856l12.8 -6v12z" fill="#000"/>
<path d="M1437.7 856l-12.8 -6v12z" fill="#000"/>
<text transform="translate(1380.5 846) scale(1.0 1)" font-size="27" text-anchor="middle" >1 s</text>
<text transform="translate(1261 688) rotate(-90) scale(1.1 1)" font-size="33.5" text-anchor="middle" >Charge (nC)</text>
<path d="M742.7 1213.3 743.8 1221.6 744.9 1226.1 746 1230 747.1 1232.3 748.3 1238.4 749.4 1243.8 750.5 1245.7 751.6 1243 752.7 1245.2 753.8 1248.1 754.9 1244.6 756 1242.2 757.2 1239 758.3 1233.8 759.4 1229.4 760.5 1223.5 761.6 1222.9 762.7 1214 763.8 1208.8 764.9 1204.1 766.1 1195.3 767.2 1192.4 768.3 1186.6 769.4 1176.3 770.5 1172.4 771.6 1166.3 772.7 1160.2 773.8 1158.7 775 1149.5 776.1 1146.2 777.2 1140.3 778.3 1134.6 779.4 1129.5 780.5 1125.5 781.6 1119.3 782.7 1113.2 783.8 1106 785 1104.8 786.1 1093.4 787.2 1090.8 788.3 1080.3 789.4 1077.1 790.5 1069.9 791.6 1067.8 792.7 1060.4 793.9 1058.5 795 1055.3 796.1 1052.8 797.2 1055.6 798.3 1053.4 799.4 1053.8 800.5 1052.3 801.6 1054.7 802.8 1055.9 803.9 1060.1 805 1062.9 806.1 1070.5 807.2 1074.1 808.3 1080.9 809.4 1087.7 810.5 1094.6 811.7 1098.1 812.8 1105.4 813.9 1110.8 815 1117.3 816.1 1123.3 817.2 1123.1 818.3 1132.6 819.4 1140 820.6 1143.6 821.7 1148.5 822.8 1155.9 823.9 1157.4 825 1165.7 826.1 1169 827.2 1176.1 828.3 1182.3 829.4 1182.2 830.6 1193.9 831.7 1201.3 832.8 1205.9 833.9 1212.5 835 1215.3 836.1 1221.8 837.2 1229.4 838.3 1229.7 839.5 1236.8 840.6 1241.9 841.7 1241 842.8 1243.6 843.9 1247.2 845 1247.5 846.1 1245.4 847.2 1244.6 848.4 1240.4 849.5 1237.6 850.6 1235.9 851.7 1231.2 852.8 1225 853.9 1217.3 855 1214.5 856.1 1206.7 857.3 1202.6 858.4 1194.9 859.5 1190.4 860.6 1183 861.7 1179.1 862.8 1173.3 863.9 1163.8 865 1159.9 866.1 1157.8 867.3 1149 868.4 1145.8 869.5 1138.3 870.6 1137 871.7 1129.8 872.8 1124.7 873.9 1119.4 875 1114.3 876.2 1103.8 877.3 1100.6 878.4 1095 879.5 1091 880.6 1081 881.7 1075.3 882.8 1071.9 883.9 1068.8 885.1 1061.5 886.2 1058.6 887.3 1057.7 888.4 1050.2 889.5 1050.7 890.6 1052.8 891.7 1052.8 892.8 1051.6 894 1053.1 895.1 1056.8 896.2 1060.5 897.3 1066.1 898.4 1067.3 899.5 1076 900.6 1080.8 901.7 1086.4 902.9 1093.4 904 1097.9 905.1 1102.7 906.2 1114.3 907.3 1117.2 908.4 1120.7 909.5 1126.1 910.6 1134.3 911.7 1137.9 912.9 1143.9 914 1149.1 915.1 1155.5 916.2 1158.3 917.3 1163.4 918.4 1168.3 919.5 1175.9 920.6 1181.9 921.8 1186.3 922.9 1189 924 1200.3 925.1 1206.1 926.2 1209.3 927.3 1219.4 928.4 1227 929.5 1226.9 930.7 1230.9 931.8 1235 932.9 1238.8 934 1241.3 935.1 1245.7 936.2 1244.1 937.3 1247.1 938.4 1247.1 939.6 1243.4 940.7 1242.5 941.8 1238.9 942.9 1234.3 944 1229.3 945.1 1223.4 946.2 1219.7 947.3 1213.3 948.4 1206.7 949.6 1200.2 950.7 1193.7 951.8 1187.3 952.9 1182.2 954 1176.1 955.1 1170.1 956.2 1165.7 957.3 1160 958.5 1156.3 959.6 1149.4 960.7 1143.1 961.8 1140.3 962.9 1132 964 1129.3 965.1 1121.4 966.2 1114.8 967.4 1111.1 968.5 1106.1 969.6 1098.8 970.7 1094 971.8 1088.8 972.9 1080 974 1078.8 975.1 1069.3 976.3 1067 977.4 1060.2 978.5 1058.7 979.6 1052.3 980.7 1053.6 981.8 1054.9 982.9 1046.8 984 1051.6 985.2 1053.2 986.3 1055.2 987.4 1058.7 988.5 1061.5 989.6 1067.4 990.7 1067.9 991.8 1077.5 992.9 1081.1 994 1086 995.2 1094.3 996.3 1098.7 997.4 1106.8 998.5 1113.5 999.6 1119 1000.7 1121.9 1001.8 1127.5 1002.9 1135.8 1004.1 1138.3 1005.2 1146.4 1006.3 1150 1007.4 1154.4 1008.5 1163.8 1009.6 1165.2 1010.7 1172.1 1011.8 1179.5 1013 1182 1014.1 1188.5 1015.2 1194.4 1016.3 1201.4 1017.4 1208.1 1018.5 1214.9 1019.6 1219.1 1020.7 1225.7 1021.9 1229.8 1023 1233.1 1024.1 1236.5 1025.2 1240.2 1026.3 1242.9 1027.4 1245.4 1028.5 1244.4 1029.6 1243.9 1030.7 1245.4 1031.9 1243.5 1033 1241.6 1034.1 1237.2 1035.2 1233.3 1036.3 1225.1 1037.4 1220.8 1038.5 1219.3 1039.6 1210.4 1040.8 1205.9 1041.9 1202.1 1043 1193.1 1044.1 1188.5 1045.2 1181.2 1046.3 1175.1 1047.4 1171.2 1048.5 1162.6 1049.7 1159.2 1050.8 1155.3 1051.9 1151.4 1053 1140.4 1054.1 1139.7 1055.2 1133.1 1056.3 1127.3 1057.4 1120.8 1058.6 1118.4 1059.7 1114.2 1060.8 1104.4 1061.9 1100.8 1063 1092.9 1064.1 1083.5 1065.2 1081.6 1066.3 1074.1 1067.5 1071.6 1068.6 1060.7 1069.7 1061.6 1070.8 1056.9 1071.9 1054.9 1073 1053.6 1074.1 1049.9 1075.2 1051.6 1076.3 1053.3 1077.5 1054.2 1078.6 1056.2 1079.7 1058.7 1080.8 1062.5 1081.9 1068.3 1083 1072.9 1084.1 1074.4 1085.2 1083.5 1086.4 1087 1087.5 1095.7 1088.6 1100.6 1089.7 1108.1 1090.8 1116.1 1091.9 1119.7 1093 1123.3 1094.1 1128.2 1095.3 1133.9 1096.4 1141.6 1097.5 1146.5 1098.6 1153 1099.7 1156.1 1100.8 1160.6 1101.9 1166.9 1103 1173.8 1104.2 1177.8 1105.3 1184 1106.4 1189.4 1107.5 1196.4 1108.6 1201.9 1109.7 1209.3 1110.8 1215.3 1111.9 1223.6 1113 1224.8 1114.2 1229.9 1115.3 1236 1116.4 1236.1 1117.5 1239.6 1118.6 1241.2 1119.7 1245.5 1120.8 1246.3 1121.9 1245.2 1123.1 1243.1 1124.2 1240.3 1125.3 1241.1 1126.4 1236.4 1127.5 1235 1128.6 1227.6 1129.7 1220.6 1130.8 1215.4 1132 1207.1 1133.1 1203.6 1134.2 1199.2 1135.3 1193.7 1136.4 1186.2 1137.5 1178.2 1138.6 1176.9 1139.7 1170.8 1140.9 1163.8 1142 1159.1 1143.1 1152 1144.2 1148.8 1145.3 1142.9 1146.4 1137.7 1147.5 1132 1148.6 1124.8 1149.8 1123.2 1150.9 1118.1 1152 1111.8 1153.1 1104.1 1154.2 1097.4 1155.3 1090.7 1156.4 1085.1 1157.5 1079.6 1158.6 1076.9 1159.8 1070.1 1160.9 1063.8 1162 1062.2 1163.1 1057.7 1164.2 1054.9 1165.3 1051.7 1166.4 1052.8 1167.5 1053.8 1168.7 1052.7 1169.8 1054.2 1170.9 1055 1172 1060.4 1173.1 1063.7 1174.2 1068.7 1175.3 1073.7 1176.4 1075.3 1177.6 1087.9 1178.7 1089.2 1179.8 1097.3 1180.9 1102 1182 1110.4 1183.1 1113.7 1184.2 1121 1185.3 1124.6 1186.5 1128.9 1187.6 1138.2 1188.7 1144 1189.8 1145.1 1190.9 1149.1 1192 1157.3 1193.1 1165.7 1194.2 1170.4 1195.3 1172.1 1196.5 1176.6 1197.6 1185.3 1198.7 1193.1 1199.8 1195.3 1200.9 1205.2 1202 1210.1 1203.1 1215.9 1204.2 1221.6 1205.4 1225.1" fill="none" stroke="#8b137a" stroke-width="2.4" stroke-linejoin="round" />
<line x1="742.7" y1="963.5" x2="742.7" y2="1333.1" stroke="#000" stroke-width="3.2" />
<line x1="741.2" y1="1331.6" x2="1207.6" y2="1331.6" stroke="#000" stroke-width="3.2" />
<line x1="734.4" y1="964.9" x2="742.7" y2="964.9" stroke="#000" stroke-width="2.6" />
<line x1="734.4" y1="1056.7" x2="742.7" y2="1056.7" stroke="#000" stroke-width="2.6" />
<line x1="734.4" y1="1148.5" x2="742.7" y2="1148.5" stroke="#000" stroke-width="2.6" />
<line x1="734.4" y1="1240.3" x2="742.7" y2="1240.3" stroke="#000" stroke-width="2.6" />
<line x1="734.4" y1="1332.1" x2="742.7" y2="1332.1" stroke="#000" stroke-width="2.6" />
<line x1="737.2" y1="1010.8" x2="742.7" y2="1010.8" stroke="#000" stroke-width="2.6" />
<line x1="737.2" y1="1102.6" x2="742.7" y2="1102.6" stroke="#000" stroke-width="2.6" />
<line x1="737.2" y1="1194.4" x2="742.7" y2="1194.4" stroke="#000" stroke-width="2.6" />
<line x1="737.2" y1="1286.2" x2="742.7" y2="1286.2" stroke="#000" stroke-width="2.6" />
<text transform="translate(734.2 979.8) scale(1.0 1)" font-size="30.5" text-anchor="end" >1.0</text>
<text transform="translate(734.2 1071.6) scale(1.0 1)" font-size="30.5" text-anchor="end" >0.5</text>
<text transform="translate(734.2 1163.4) scale(1.0 1)" font-size="30.5" text-anchor="end" >0.0</text>
<text transform="translate(734.2 1255.2) scale(1.0 1)" font-size="30.5" text-anchor="end" >-0.5</text>
<text transform="translate(734.2 1347) scale(1.0 1)" font-size="30.5" text-anchor="end" >-1.0</text>
<line x1="742.7" y1="1331.6" x2="742.7" y2="1340.6" stroke="#000" stroke-width="2.6" />
<line x1="835.4" y1="1331.6" x2="835.4" y2="1340.6" stroke="#000" stroke-width="2.6" />
<line x1="928.1" y1="1331.6" x2="928.1" y2="1340.6" stroke="#000" stroke-width="2.6" />
<line x1="1020.7" y1="1331.6" x2="1020.7" y2="1340.6" stroke="#000" stroke-width="2.6" />
<line x1="1113.4" y1="1331.6" x2="1113.4" y2="1340.6" stroke="#000" stroke-width="2.6" />
<line x1="1206.1" y1="1331.6" x2="1206.1" y2="1340.6" stroke="#000" stroke-width="2.6" />
<line x1="789" y1="1331.6" x2="789" y2="1337.1" stroke="#000" stroke-width="2.6" />
<line x1="881.7" y1="1331.6" x2="881.7" y2="1337.1" stroke="#000" stroke-width="2.6" />
<line x1="974.4" y1="1331.6" x2="974.4" y2="1337.1" stroke="#000" stroke-width="2.6" />
<line x1="1067.1" y1="1331.6" x2="1067.1" y2="1337.1" stroke="#000" stroke-width="2.6" />
<line x1="1159.8" y1="1331.6" x2="1159.8" y2="1337.1" stroke="#000" stroke-width="2.6" />
<text transform="translate(742.7 1377.5) scale(1.0 1)" font-size="30.5" text-anchor="middle" >0.0</text>
<text transform="translate(835.4 1377.5) scale(1.0 1)" font-size="30.5" text-anchor="middle" >0.1</text>
<text transform="translate(928.1 1377.5) scale(1.0 1)" font-size="30.5" text-anchor="middle" >0.2</text>
<text transform="translate(1020.7 1377.5) scale(1.0 1)" font-size="30.5" text-anchor="middle" >0.3</text>
<text transform="translate(1113.4 1377.5) scale(1.0 1)" font-size="30.5" text-anchor="middle" >0.4</text>
<text transform="translate(1206.1 1377.5) scale(1.0 1)" font-size="30.5" text-anchor="middle" >0.5</text>
<text transform="translate(973 1414) scale(1.065 1)" font-size="33" text-anchor="middle" >Time (ms)</text>
<text transform="translate(677 1148) rotate(-90) scale(1.1 1)" font-size="33.5" text-anchor="middle" >Voltage (V)</text>
<line x1="1031.6" y1="983" x2="1031.6" y2="1331" stroke="#000" stroke-width="4.2" stroke-dasharray="18 13.3"/>
<line x1="1075" y1="983" x2="1075" y2="1331" stroke="#000" stroke-width="4.2" stroke-dasharray="18 13.3"/>
<path d="M1040.1 1035.2H1066.4" stroke="#000" stroke-width="3.2" fill="none"/>
<path d="M1030.5 1035.2l10.6 -4.8v9.6z" fill="#000"/>
<path d="M1076 1035.2l-10.6 -4.8v9.6z" fill="#000"/>
<text transform="translate(1048 963.6) scale(1.07 1)" font-size="29" text-anchor="middle" >50µs</text>
<rect x="1335.3" y="1048.3" width="54.5" height="117.2" fill="#c3d9fa"/>
<rect x="1336.8" y="1165.5" width="55" height="105.8" fill="#c3d9fa"/>
<path d="M1335.7 1046.6V1165.5M1337.6 1165.5V1274.3M1339.8 1044.4V1165.5M1341.7 1165.5V1275.7M1343.9 1044.2V1165.5M1345.8 1165.5V1273.5M1348.1 1047.3V1165.5M1349.9 1165.5V1274.4M1352.2 1045.3V1165.5M1354 1165.5V1274.5M1356.3 1046V1165.5M1358.2 1165.5V1274.7M1360.4 1046.6V1165.5M1362.3 1165.5V1275.3M1364.6 1043.7V1165.5M1366.4 1165.5V1274.3M1368.7 1045.5V1165.5M1370.5 1165.5V1275M1372.8 1045V1165.5M1374.7 1165.5V1274.9M1376.9 1045.3V1165.5M1378.8 1165.5V1273.7M1381.1 1043.9V1165.5M1382.9 1165.5V1272.4M1385.2 1044.4V1165.5M1387 1165.5V1272.9M1389.3 1045.1V1165.5M1391.2 1165.5V1272.7" stroke="#4489f0" stroke-width="1.9" fill="none"/>
<rect x="1334.3" y="1163.3" width="58" height="4.4" fill="#4489f0"/>
<rect x="1413.9" y="1051.7" width="54.1" height="113.8" fill="#e2f0fd"/>
<rect x="1415.4" y="1165.5" width="54.6" height="104.1" fill="#e2f0fd"/>
<path d="M1414.3 1050.6V1165.5M1416.1 1165.5V1270.9M1418.4 1050V1165.5M1420.2 1165.5V1274.3M1422.5 1049.6V1165.5M1424.3 1165.5V1271.4M1426.6 1050V1165.5M1428.4 1165.5V1272.3M1430.7 1049V1165.5M1432.5 1165.5V1273.2M1434.8 1049.7V1165.5M1436.6 1165.5V1270.7M1438.9 1049V1165.5M1440.7 1165.5V1273.6M1442.9 1048.2V1165.5M1444.8 1165.5V1271M1447 1049.5V1165.5M1448.9 1165.5V1272.9M1451.1 1049.6V1165.5M1453 1165.5V1270.4M1455.2 1048.8V1165.5M1457.1 1165.5V1271.9M1459.3 1048.7V1165.5M1461.2 1165.5V1273.6M1463.4 1049.5V1165.5M1465.2 1165.5V1270.8M1467.5 1049.8V1165.5M1469.3 1165.5V1273.5" stroke="#a3d1fa" stroke-width="1.9" fill="none"/>
<rect x="1412.9" y="1163.3" width="57.6" height="4.4" fill="#a3d1fa"/>
<rect x="1492" y="1046.6" width="54.2" height="118.9" fill="#c3d9fa"/>
<rect x="1493.5" y="1165.5" width="54.7" height="108.1" fill="#c3d9fa"/>
<path d="M1492.4 1043.8V1165.5M1494.2 1165.5V1277.5M1496.5 1044.2V1165.5M1498.3 1165.5V1277.4M1500.6 1044.4V1165.5M1502.4 1165.5V1275.4M1504.7 1043.9V1165.5M1506.5 1165.5V1276.2M1508.8 1044.1V1165.5M1510.6 1165.5V1276.4M1512.9 1042.9V1165.5M1514.7 1165.5V1275.4M1517 1045.7V1165.5M1518.8 1165.5V1277M1521.1 1041.9V1165.5M1522.9 1165.5V1277.9M1525.2 1045.1V1165.5M1527 1165.5V1277M1529.3 1042.7V1165.5M1531.1 1165.5V1277.6M1533.4 1042V1165.5M1535.2 1165.5V1277.6M1537.5 1046.7V1165.5M1539.3 1165.5V1277.2M1541.6 1044.7V1165.5M1543.4 1165.5V1275M1545.7 1045.6V1165.5M1547.5 1165.5V1274.5" stroke="#4489f0" stroke-width="1.9" fill="none"/>
<rect x="1491" y="1163.3" width="57.7" height="4.4" fill="#4489f0"/>
<rect x="1568.7" y="1048.3" width="54.1" height="117.2" fill="#e2f0fd"/>
<rect x="1570.2" y="1165.5" width="54.6" height="108.1" fill="#e2f0fd"/>
<path d="M1569.1 1045.9V1165.5M1570.9 1165.5V1277.9M1573.2 1044.4V1165.5M1575 1165.5V1277.3M1577.3 1044.3V1165.5M1579.1 1165.5V1275.8M1581.4 1046.4V1165.5M1583.2 1165.5V1279.1M1585.5 1045.1V1165.5M1587.3 1165.5V1275.9M1589.6 1044.8V1165.5M1591.4 1165.5V1275.3M1593.7 1043.9V1165.5M1595.5 1165.5V1274.5M1597.7 1046.1V1165.5M1599.6 1165.5V1276.1M1601.8 1045.8V1165.5M1603.7 1165.5V1274.6M1605.9 1044.7V1165.5M1607.8 1165.5V1277.3M1610 1045.5V1165.5M1611.9 1165.5V1277.2M1614.1 1046V1165.5M1616 1165.5V1277.8M1618.2 1046.1V1165.5M1620 1165.5V1274.8M1622.3 1045.7V1165.5M1624.1 1165.5V1276.1" stroke="#a3d1fa" stroke-width="1.9" fill="none"/>
<rect x="1567.7" y="1163.3" width="57.6" height="4.4" fill="#a3d1fa"/>
<rect x="1647.2" y="1050.6" width="54.2" height="114.9" fill="#c3d9fa"/>
<rect x="1648.7" y="1165.5" width="54.7" height="107" fill="#c3d9fa"/>
<path d="M1647.6 1047.4V1165.5M1649.4 1165.5V1276.2M1651.7 1046.1V1165.5M1653.5 1165.5V1273.3M1655.8 1049.5V1165.5M1657.6 1165.5V1275.7M1659.9 1046.4V1165.5M1661.7 1165.5V1276.8M1664 1047.9V1165.5M1665.8 1165.5V1274.9M1668.1 1048.1V1165.5M1669.9 1165.5V1277.8M1672.2 1048V1165.5M1674 1165.5V1275.8M1676.3 1049V1165.5M1678.1 1165.5V1276.6M1680.4 1047.9V1165.5M1682.2 1165.5V1274.9M1684.5 1048.1V1165.5M1686.3 1165.5V1275.1M1688.6 1045V1165.5M1690.4 1165.5V1276.2M1692.7 1047.1V1165.5M1694.5 1165.5V1274.2M1696.8 1049.2V1165.5M1698.6 1165.5V1272.2M1700.9 1048.4V1165.5M1702.7 1165.5V1275.6" stroke="#4489f0" stroke-width="1.9" fill="none"/>
<rect x="1646.2" y="1163.3" width="57.7" height="4.4" fill="#4489f0"/>
<rect x="1722.8" y="1047.8" width="54.9" height="117.7" fill="#e2f0fd"/>
<rect x="1724.3" y="1165.5" width="55.4" height="109.2" fill="#e2f0fd"/>
<path d="M1723.2 1044.7V1165.5M1725.1 1165.5V1275.5M1727.4 1044.3V1165.5M1729.2 1165.5V1276.8M1731.5 1043.8V1165.5M1733.4 1165.5V1277.2M1735.7 1044.9V1165.5M1737.5 1165.5V1276.5M1739.8 1045.6V1165.5M1741.7 1165.5V1277.6M1744 1044.3V1165.5M1745.8 1165.5V1278.6M1748.1 1045.6V1165.5M1750 1165.5V1275.8M1752.3 1044.5V1165.5M1754.1 1165.5V1279.4M1756.4 1045.4V1165.5M1758.3 1165.5V1277M1760.6 1045.4V1165.5M1762.5 1165.5V1278.1M1764.7 1043.9V1165.5M1766.6 1165.5V1276.3M1768.9 1044.5V1165.5M1770.8 1165.5V1279.7M1773 1044.3V1165.5M1774.9 1165.5V1276.5M1777.2 1046.4V1165.5M1779.1 1165.5V1277.7" stroke="#a3d1fa" stroke-width="1.9" fill="none"/>
<rect x="1721.8" y="1163.3" width="58.4" height="4.4" fill="#a3d1fa"/>
<rect x="1324.6" y="996.3" width="465.4" height="339.9" fill="none" stroke="#000" stroke-width="3"/>
<line x1="1402.8" y1="999.3" x2="1402.8" y2="1335.2" stroke="#000" stroke-width="4.2" stroke-dasharray="13.4 5.2"/>
<line x1="1483.2" y1="999.3" x2="1483.2" y2="1335.2" stroke="#000" stroke-width="4.2" stroke-dasharray="13.4 5.2"/>
<line x1="1558" y1="999.3" x2="1558" y2="1335.2" stroke="#000" stroke-width="4.2" stroke-dasharray="13.4 5.2"/>
<line x1="1638" y1="999.3" x2="1638" y2="1335.2" stroke="#000" stroke-width="4.2" stroke-dasharray="13.4 5.2"/>
<line x1="1715.5" y1="999.3" x2="1715.5" y2="1335.2" stroke="#000" stroke-width="4.2" stroke-dasharray="13.4 5.2"/>
<line x1="1318.1" y1="995.7" x2="1324.6" y2="995.7" stroke="#000" stroke-width="2.6" />
<line x1="1318.1" y1="1052.3" x2="1324.6" y2="1052.3" stroke="#000" stroke-width="2.6" />
<line x1="1318.1" y1="1108.9" x2="1324.6" y2="1108.9" stroke="#000" stroke-width="2.6" />
<line x1="1318.1" y1="1165.5" x2="1324.6" y2="1165.5" stroke="#000" stroke-width="2.6" />
<line x1="1318.1" y1="1222.1" x2="1324.6" y2="1222.1" stroke="#000" stroke-width="2.6" />
<line x1="1318.1" y1="1278.7" x2="1324.6" y2="1278.7" stroke="#000" stroke-width="2.6" />
<line x1="1318.1" y1="1335.3" x2="1324.6" y2="1335.3" stroke="#000" stroke-width="2.6" />
<line x1="1321" y1="1024" x2="1324.6" y2="1024" stroke="#000" stroke-width="2.6" />
<line x1="1321" y1="1080.6" x2="1324.6" y2="1080.6" stroke="#000" stroke-width="2.6" />
<line x1="1321" y1="1137.2" x2="1324.6" y2="1137.2" stroke="#000" stroke-width="2.6" />
<line x1="1321" y1="1193.8" x2="1324.6" y2="1193.8" stroke="#000" stroke-width="2.6" />
<line x1="1321" y1="1250.4" x2="1324.6" y2="1250.4" stroke="#000" stroke-width="2.6" />
<line x1="1321" y1="1307" x2="1324.6" y2="1307" stroke="#000" stroke-width="2.6" />
<text transform="translate(1312.1 1010.6) scale(1.0 1)" font-size="30" text-anchor="end" >30</text>
<text transform="translate(1312.1 1067.2) scale(1.0 1)" font-size="30" text-anchor="end" >20</text>
<text transform="translate(1312.1 1123.8) scale(1.0 1)" font-size="30" text-anchor="end" >10</text>
<text transform="translate(1312.1 1180.4) scale(1.0 1)" font-size="30" text-anchor="end" >0</text>
<text transform="translate(1312.1 1237) scale(1.0 1)" font-size="30" text-anchor="end" >-10</text>
<text transform="translate(1312.1 1293.6) scale(1.0 1)" font-size="30" text-anchor="end" >-20</text>
<text transform="translate(1312.1 1350.2) scale(1.0 1)" font-size="30" text-anchor="end" >-30</text>
<line x1="1325.5" y1="1336.2" x2="1325.5" y2="1343.2" stroke="#000" stroke-width="2.4" />
<line x1="1403.1" y1="1336.2" x2="1403.1" y2="1343.2" stroke="#000" stroke-width="2.4" />
<line x1="1480.7" y1="1336.2" x2="1480.7" y2="1343.2" stroke="#000" stroke-width="2.4" />
<line x1="1558.3" y1="1336.2" x2="1558.3" y2="1343.2" stroke="#000" stroke-width="2.4" />
<line x1="1635.9" y1="1336.2" x2="1635.9" y2="1343.2" stroke="#000" stroke-width="2.4" />
<line x1="1713.5" y1="1336.2" x2="1713.5" y2="1343.2" stroke="#000" stroke-width="2.4" />
<line x1="1791.1" y1="1336.2" x2="1791.1" y2="1343.2" stroke="#000" stroke-width="2.4" />
<line x1="1364.3" y1="1336.2" x2="1364.3" y2="1340.7" stroke="#000" stroke-width="2.4" />
<line x1="1441.9" y1="1336.2" x2="1441.9" y2="1340.7" stroke="#000" stroke-width="2.4" />
<line x1="1519.5" y1="1336.2" x2="1519.5" y2="1340.7" stroke="#000" stroke-width="2.4" />
<line x1="1597.1" y1="1336.2" x2="1597.1" y2="1340.7" stroke="#000" stroke-width="2.4" />
<line x1="1674.7" y1="1336.2" x2="1674.7" y2="1340.7" stroke="#000" stroke-width="2.4" />
<line x1="1752.3" y1="1336.2" x2="1752.3" y2="1340.7" stroke="#000" stroke-width="2.4" />
<line x1="1364.3" y1="996.3" x2="1364.3" y2="1000.3" stroke="#000" stroke-width="2.4" />
<line x1="1441.9" y1="996.3" x2="1441.9" y2="1000.3" stroke="#000" stroke-width="2.4" />
<line x1="1519.5" y1="996.3" x2="1519.5" y2="1000.3" stroke="#000" stroke-width="2.4" />
<line x1="1597.1" y1="996.3" x2="1597.1" y2="1000.3" stroke="#000" stroke-width="2.4" />
<line x1="1674.7" y1="996.3" x2="1674.7" y2="1000.3" stroke="#000" stroke-width="2.4" />
<line x1="1752.3" y1="996.3" x2="1752.3" y2="1000.3" stroke="#000" stroke-width="2.4" />
<line x1="1403.1" y1="996.3" x2="1403.1" y2="1000.3" stroke="#000" stroke-width="2.4" />
<line x1="1480.7" y1="996.3" x2="1480.7" y2="1000.3" stroke="#000" stroke-width="2.4" />
<line x1="1558.3" y1="996.3" x2="1558.3" y2="1000.3" stroke="#000" stroke-width="2.4" />
<line x1="1635.9" y1="996.3" x2="1635.9" y2="1000.3" stroke="#000" stroke-width="2.4" />
<line x1="1713.5" y1="996.3" x2="1713.5" y2="1000.3" stroke="#000" stroke-width="2.4" />
<text transform="translate(1364.3 1378) scale(1.0 1)" font-size="30" text-anchor="middle" >0</text>
<text transform="translate(1441.9 1378) scale(1.0 1)" font-size="30" text-anchor="middle" >2</text>
<text transform="translate(1519.5 1378) scale(1.0 1)" font-size="30" text-anchor="middle" >4</text>
<text transform="translate(1597.1 1378) scale(1.0 1)" font-size="30" text-anchor="middle" >6</text>
<text transform="translate(1674.7 1378) scale(1.0 1)" font-size="30" text-anchor="middle" >8</text>
<text transform="translate(1752.3 1378) scale(1.0 1)" font-size="30" text-anchor="middle" >10</text>
<text transform="translate(1557 1414.5) scale(1.05 1)" font-size="33" text-anchor="middle" >Circle Number (10^5)</text>
<text transform="translate(1259 1170) rotate(-90) scale(1.1 1)" font-size="33.5" text-anchor="middle" >Voltage (V)</text>
</g>
<defs>
<filter id="b1" x="-10%" y="-10%" width="120%" height="120%"><feGaussianBlur stdDeviation="1"/></filter>
<filter id="b2" x="-10%" y="-10%" width="120%" height="120%"><feGaussianBlur stdDeviation="2"/></filter>
<filter id="b4" x="-20%" y="-20%" width="140%" height="140%"><feGaussianBlur stdDeviation="4"/></filter>
<clipPath id="cp1"><path d="M73 977L317 982.5L323 1366.5L80.3 1360.2Z"/></clipPath>
<clipPath id="cp2"><rect x="323" y="984" width="306.5" height="382"/></clipPath>
<clipPath id="cpscr"><rect x="347" y="1005.5" width="195.5" height="146"/></clipPath>
<pattern id="dots" x="0" y="0" width="13" height="9" patternUnits="userSpaceOnUse"><circle cx="3" cy="3" r="1" fill="#9aa89a"/></pattern>
</defs>
<g clip-path="url(#cp1)">
<rect x="60" y="960" width="280" height="420" fill="#62f0ee"/>
<path d="M260.6 1089L282.1 1089L280.7 1031.6L297.9 1033.1L300 1078.9L318 1091.1L320.1 1170L320.1 1241.7L313.7 1314.8L293.6 1314.8L297.9 1256L285 1184.3L264.9 1172.9L262.1 1169.9Z" fill="#34a8f2" filter="url(#b1)"/>
<path d="M290.7 1191.5L299.3 1184.3L305.1 1256L299.3 1313.3L295 1313.3L297.9 1256Z" fill="#5cc8f4" filter="url(#b1)" opacity="0.7"/>
<path d="M98.7 1019.4L273.5 1026.6L273.5 1030.2L98.7 1023.7Z" fill="#3ca2ea" filter="url(#b1)" opacity="0.75"/>
<path d="M98.7 1019.4L104.4 1019.4L104.4 1033.1L99.4 1033.1Z" fill="#3c9ee8" filter="url(#b1)" opacity="0.8"/>
<path d="M89.3 1211.6L102.2 1224.5L105.1 1303.3L93.6 1304Z" fill="#44a6ee" filter="url(#b1)" opacity="0.9"/>
<path d="M92.9 1302.6L313.7 1311.9L312.2 1315.5L213.3 1314.8L94.4 1307.6Z" fill="#3ca4ee" filter="url(#b1)" opacity="0.9"/>
<path d="M91.5 1298.3L293.6 1306.9L293.6 1311.2L91.5 1302.6Z" fill="#d4e6c4" filter="url(#b1)" opacity="0.9"/>
<path d="M292.9 1213L296.5 1213L297.2 1309.7L293.6 1309.7Z" fill="#c8eee0" filter="url(#b1)" opacity="0.7"/>
<path d="M92.2 1031.3L138.8 1031.3L138.8 1041.7L113 1041.7L114.4 1170.7L72.9 1170.7L73.6 1040.2L92.2 1038.8Z" fill="#fbf6f8" />
<path d="M76.4 1168.6L115.9 1168.6L115.9 1207.6L77.2 1209.4Z" fill="#fbf6f8" />
<path d="M80 1048.5L111.9 1047.4L113 1126.2L83.2 1127.7Z" fill="#cf3a8e" />
<path d="M93.6 1034.8L129.5 1036.2L129.5 1038.8L93.6 1037.4Z" fill="#d03c8c" opacity="0.9"/>
<path d="M74 1039.5L92.9 1038.8L92.9 1041.2L74 1042Z" fill="#dc4a96" opacity="0.9"/>
<path d="M74 1061.7L77.5 1061.7L78 1132L74.9 1132Z" fill="#e0489a" opacity="0.9"/>
<path d="M84.3 1130.5L92.9 1130.5L93.6 1170.7L85 1170.7Z" fill="#c85a96" opacity="0.85"/>
<path d="M75.7 1152L78.9 1152L79.2 1170.7L76 1170.7Z" fill="#e0489a" opacity="0.9"/>
<path d="M76.4 1168.6L80.3 1168.6L80.3 1197.2L77.2 1197.2Z" fill="#e0489a" opacity="0.9"/>
<path d="M86.1 1168.6L95.1 1168.6L95.8 1204.4L86.9 1204.4Z" fill="#c070a8" opacity="0.7"/>
<path d="M77.9 1204.1L128 1203.3L128 1207L77.9 1208.1Z" fill="#e0509a" opacity="0.9"/>
<circle cx="103.7" cy="1064.6" r="7" fill="#fdfbfb"/>
<circle cx="103.7" cy="1103.3" r="7" fill="#fdfbfb"/>
<path d="M103.7 1064.6L104.1 1103.3" fill="none" stroke="#f4e6ee" stroke-width="1.6" stroke-linecap="round" stroke-linejoin="round" />
<path d="M91.5 1044.5L88.3 1127.7L89.3 1170.7" fill="none" stroke="#8a7a8a" stroke-width="1.0" stroke-linecap="round" stroke-linejoin="round" opacity="0.7"/>
<text x="86.9" y="1196.9" font-size="37" fill="#e2507e" font-family="'Liberation Sans', sans-serif" font-weight="bold">La</text>
<path d="M112.3 1040.2L138.8 1039.9L140.5 1170.7L113 1170.7Z" fill="#f3f02c" opacity="0.94"/>
<path d="M113 1168.6L140.9 1168.6L141.7 1213L114.4 1256L113.7 1205.8Z" fill="#f1ee2e" opacity="0.92"/>
<path d="M112.4 1044.8L127.6 1046L128.8 1124.1L113.3 1125.5Z" fill="#f0963a" opacity="0.92" filter="url(#b1)"/>
<clipPath id="cpy"><path d="M113 1168.6L140.9 1168.6L141.7 1213L113.7 1213Z"/></clipPath>
<text x="86.9" y="1196.9" font-size="37" fill="#f2a236" clip-path="url(#cpy)" font-family="'Liberation Sans', sans-serif" font-weight="bold">La</text>
<path d="M138.8 1039.1L252.7 1041.7L257 1047.4L263.8 1169.9L276.4 1278.9L227.7 1276.3L117.3 1267.7L114.4 1213L140.9 1170L140.2 1169.9Z" fill="#bcda2f" />
<path d="M114.4 1213L140.9 1168.6L144.5 1168.6L144.5 1250.3L130.2 1268.9L117.3 1267.7Z" fill="#dbe736" filter="url(#b1)"/>
<path d="M130.2 1250.3L249.2 1250.3L276.4 1278.9L227.7 1276.3L117.3 1267.7Z" fill="#c9e034" filter="url(#b2)" opacity="0.9"/>
<path d="M234.8 1113.3L260.6 1110.5L263.8 1169.9L276.4 1278.9L250.6 1270.3L243.4 1170L237.7 1169.9Z" fill="#a5d72d" filter="url(#b2)" opacity="0.95"/>
<path d="M138.8 1039.1L252.7 1041.7L256.3 1056L213.3 1050.3L161.7 1050.3L140.2 1061.7Z" fill="#c4dc3c" filter="url(#b1)"/>
<path d="M141.7 1044.5L164.6 1044.5L161.7 1084.7L142.4 1087.5Z" fill="#d6e24a" filter="url(#b2)" opacity="0.9"/>
<path d="M141.7 1063.2L242 1063.2L242 1170.7L142.4 1170.7Z" fill="#b9aaa6" opacity="0.0"/>
<linearGradient id="gpl" x1="0" y1="0" x2="0" y2="1"><stop offset="0" stop-color="#b5a4a4"/><stop offset="0.6" stop-color="#b8aaa8"/><stop offset="1" stop-color="#cbc9c1"/></linearGradient>
<path d="M141.7 1089L180.4 1089L181.8 1170.7L142.4 1170.7Z" fill="url(#gpl)" filter="url(#b1)"/>
<path d="M164.6 1113.3L184.7 1113.3L184.7 1156.3L166 1156.3Z" fill="#a49a94" filter="url(#b4)" opacity="0.6"/>
<path d="M143.8 1168.6L237.7 1168.6L239.8 1228L144.5 1228Z" fill="#cdccc4" />
<path d="M161.7 1172.9L181.8 1178.6L178.9 1195.8L161.7 1194.4Z" fill="#ecece8" filter="url(#b2)"/>
<path d="M213.3 1178.6L236.3 1178.6L237.7 1225.9L199 1225.9Z" fill="#dcdcd4" filter="url(#b2)" opacity="0.8"/>
<path d="M144.5 1227.3L240.6 1228.5L240.8 1240.2L146.3 1239.1Z" fill="#6f8a8a" filter="url(#b1)"/>
<path d="M237 1168.6L244.1 1168.6L245.1 1238.8L239.8 1238.8Z" fill="#8fa69a" filter="url(#b1)" opacity="0.9"/>
<path d="M141.2 1168.6L145.2 1168.6L146 1238.8L142.4 1233.1Z" fill="#8aa0b0" filter="url(#b1)" opacity="0.85"/>
<path d="M138.8 1063.2L142.4 1063.2L143.4 1170.7L140.2 1170.7Z" fill="#93a8b4" filter="url(#b1)" opacity="0.8"/>
<path d="M219.1 1156.3L234.8 1140.6L242 1134.8L242.7 1170.7L213.3 1170.7Z" fill="#c4ccb8" filter="url(#b1)"/>
<path d="M236.3 1113.3L243.7 1113.3L244.6 1170.7L237.4 1170.7Z" fill="#98b094" filter="url(#b1)" opacity="0.8"/>
<path d="M143.1 1065.2L163.2 1065.2L171.5 1095.6L178.4 1109.5L181.2 1127.5L178.4 1146.8L171.5 1155.1L161.8 1160.7L157.7 1188.3L143.1 1188.3Z" fill="#bfa9a3" filter="url(#b1)"/>
<path d="M143.8 1065.2L163.2 1065.2L168.7 1091.5L143.8 1091.5Z" fill="#d2dc5a" filter="url(#b2)" opacity="0.85"/>
<path d="M143.8 1146.8L175.6 1152.4L188.1 1163.4L207.5 1188.3L237.9 1188.3L238.6 1156.5L240.7 1228.4L143.8 1228.4Z" fill="#d0cfc7" filter="url(#b1)"/>
<path d="M159.7 1180L177.7 1178.6L178.4 1195.2L161.1 1196.6Z" fill="#f4f4f0" filter="url(#b2)"/>
<path d="M215.8 1168.9L237.9 1160.7L239.3 1202.1L218.5 1202.1Z" fill="#dcdcd6" filter="url(#b2)" opacity="0.8"/>
<path d="M143.8 1228.4L240.7 1227.7L241.3 1240.6L144.9 1239.8Z" fill="#6f8a8a" filter="url(#b1)"/>
<path d="M238.6 1155.1L243.7 1155.1L244.8 1240.9L240.7 1240.9Z" fill="#93a896" filter="url(#b1)" opacity="0.9"/>
<path d="M141.1 1063.8L144.1 1063.8L145.2 1235.3L142.2 1235.3Z" fill="#7f9bb4" filter="url(#b1)" opacity="0.85"/>
<path d="M161.8 1058.3L170.1 1050L185.3 1050L195 1058.3L190.9 1074.9L178.4 1108.1L171.5 1095.6L164.6 1074.9Z" fill="#3c5c4a" filter="url(#b1)"/>
<path d="M168.7 1055.5L183.9 1054.1L189.5 1062.4L182.6 1077.7L175.6 1072.1Z" fill="#8fb09a" filter="url(#b2)" opacity="0.75"/>
<path d="M171.5 1077.7L182.6 1074.9L179.8 1099.8L174.3 1091.5Z" fill="#6a6e3c" filter="url(#b1)" opacity="0.8"/>
<path d="M219.9 1058.3L240.7 1054.1L257.2 1061.1L259.3 1072.1L247.6 1095.6L237.9 1116.4L232.4 1098.4L228.9 1077.7Z" fill="#22487c" filter="url(#b1)"/>
<path d="M226.8 1059.7L240.7 1056.2L255.2 1063.1L243.4 1070.7L232.4 1070.7Z" fill="#5e9078" filter="url(#b1)" opacity="0.85"/>
<path d="M235.1 1074.9L251.7 1073.5L246.2 1091.5L239.3 1095.6Z" fill="#1c3a70" filter="url(#b1)" opacity="0.8"/>
<path d="M182.6 1095.6L188.1 1077.7L201.9 1068L218.5 1069.4L229.6 1083.2L233.7 1108.1L226.8 1123.3L207.5 1119.2L188.1 1121.9L181.2 1110.9Z" fill="#b39c2a" filter="url(#b1)"/>
<path d="M190.9 1081.8L204.7 1073.5L218.5 1076.3L226.8 1091.5L207.5 1086L189.5 1094.3Z" fill="#c2aa36" filter="url(#b2)"/>
<path d="M185.3 1099.8L229.6 1095.6L231 1103.9L185.3 1108.1Z" fill="#9a8426" filter="url(#b2)" opacity="0.8"/>
<path d="M185.3 1110.9L229.6 1109.5L226.8 1119.2L188.1 1120.5Z" fill="#a8922a" filter="url(#b2)" opacity="0.8"/>
<path d="M192.2 1062.4L207.5 1059.7L219.9 1063.8L225.4 1073.5L207.5 1069.4L189.5 1076.3Z" fill="#5e4c30" filter="url(#b2)" opacity="0.85"/>
<path d="M200.5 1121.9L218.5 1119.2L232.4 1127.5L236.8 1139.9L231 1152.4L219.9 1155.8L213 1146.8L207.5 1133Z" fill="#1b3c7a" filter="url(#b1)"/>
<ellipse cx="187" cy="1139.2" rx="8.4" ry="13.4" fill="#2c5442" filter="url(#b1)" transform="rotate(-10 187 1139.2)"/>
<ellipse cx="186" cy="1137.2" rx="3.4" ry="7" fill="#6e9c84" filter="url(#b1)" opacity="0.8" transform="rotate(-10 187 1139.2)"/>
<path d="M192.5 1133L202.6 1129.5L205.4 1160.7L195.7 1164.8Z" fill="#a9c142" filter="url(#b1)"/>
<path d="M200.8 1138.5L213 1139.9L216.4 1163.4L213.7 1183.5L207.5 1174.5L202.2 1157.9Z" fill="#1d4276" filter="url(#b1)"/>
<path d="M207.5 1146.8L213 1145.4L218.5 1160.7L214.4 1174.5Z" fill="#6f9a7c" filter="url(#b1)" opacity="0.7"/>
<path d="M170.4 1154.8L180.9 1149.9" fill="none" stroke="#1e221c" stroke-width="4.2" stroke-linecap="round" stroke-linejoin="round" />
<path d="M162.1 1159.3L170.4 1154.8" fill="none" stroke="#c8c848" stroke-width="2.6" stroke-linecap="round" stroke-linejoin="round" />
<path d="M162.1 1159.3L158.4 1174.5L156.6 1191.4" fill="none" stroke="#b4b040" stroke-width="2.6" stroke-linecap="round" stroke-linejoin="round" />
<path d="M157.7 1174.5L156.6 1191.4" fill="none" stroke="#5a5a28" stroke-width="2.2" stroke-linecap="round" stroke-linejoin="round" opacity="0.7"/>
<path d="M156.3 1192.5L138.6 1211.1" fill="none" stroke="#1e221c" stroke-width="4.2" stroke-linecap="round" stroke-linejoin="round" />
<path d="M190.9 1159.3L201.9 1174.5L211.9 1187.2" fill="none" stroke="#8f9860" stroke-width="2.4" stroke-linecap="round" stroke-linejoin="round" />
<path d="M211.9 1187.2L207.5 1199.4L204.7 1213.5" fill="none" stroke="#33424a" stroke-width="3.0" stroke-linecap="round" stroke-linejoin="round" />
<path d="M218.5 1168.9L213 1186.9" fill="none" stroke="#50605a" stroke-width="2.2" stroke-linecap="round" stroke-linejoin="round" />
<path d="M236.8 1139.9L243.7 1140.7" fill="none" stroke="#3a3028" stroke-width="2.0" stroke-linecap="round" stroke-linejoin="round" />
<path d="M258.6 1142.9L269.7 1145.4L279.4 1138.5L283.5 1129.5" fill="none" stroke="#5c3a3e" stroke-width="2.6" stroke-linecap="round" stroke-linejoin="round" filter="url(#b1)"/>
<circle cx="124.9" cy="1268.9" r="0.9" fill="#f4f8d0" opacity="0.8"/>
<circle cx="144.4" cy="1269.8" r="0.9" fill="#f4f8d0" opacity="0.8"/>
<circle cx="158.9" cy="1270.7" r="0.9" fill="#f4f8d0" opacity="0.8"/>
<circle cx="169.7" cy="1271.6" r="0.9" fill="#f4f8d0" opacity="0.8"/>
<circle cx="187.4" cy="1272.5" r="0.9" fill="#f4f8d0" opacity="0.8"/>
<circle cx="205.4" cy="1273.4" r="0.9" fill="#f4f8d0" opacity="0.8"/>
<circle cx="216.4" cy="1274.3" r="0.9" fill="#f4f8d0" opacity="0.8"/>
<circle cx="230.5" cy="1275.2" r="0.9" fill="#f4f8d0" opacity="0.8"/>
<circle cx="250" cy="1276.1" r="0.9" fill="#f4f8d0" opacity="0.8"/>
<circle cx="263.9" cy="1277" r="0.9" fill="#f4f8d0" opacity="0.8"/>
</g>
<defs>
<linearGradient id="gbody" x1="0" y1="0" x2="1" y2="1"><stop offset="0" stop-color="#2f6a40"/><stop offset="0.35" stop-color="#234a30"/><stop offset="0.8" stop-color="#15241c"/><stop offset="1" stop-color="#101814"/></linearGradient>
<linearGradient id="gscr" x1="0" y1="0" x2="0" y2="1"><stop offset="0" stop-color="#518f56"/><stop offset="0.45" stop-color="#47804e"/><stop offset="0.62" stop-color="#9cc8a8"/><stop offset="0.75" stop-color="#e4f6f0"/><stop offset="1" stop-color="#d8f4ee"/></linearGradient>
<clipPath id="cpscr2"><rect x="348.2" y="1006.8" width="192.3" height="144.6"/></clipPath>
<pattern id="dots2" x="0" y="0" width="18.5" height="9" patternUnits="userSpaceOnUse" patternTransform="skewX(-8)"><circle cx="4" cy="4" r="1.15" fill="#c4ccbc"/></pattern>
</defs>
<g clip-path="url(#cp2)">
<rect x="320" y="975" width="320" height="264.6" fill="#f3f6f2" />
<path d="M619.9 1214.1L640 1210.6L640 1370L595.2 1370L595.2 1221.2Z" fill="#4e6e3c" filter="url(#b1)"/>
<path d="M624.3 1180.6L640 1180.6L640 1215.9L622.5 1217.6Z" fill="#b4c4ac" filter="url(#b2)"/>
<path d="M320 1221.2L365.9 1221.2L357.9 1287.3L325.3 1370L320 1370Z" fill="#a9b2a2" filter="url(#b1)"/>
<path d="M360.6 1220.3L596.9 1220.3L604 1288.2L355.3 1288.2Z" fill="#0f1813" />
<path d="M595.2 1221.2L640 1215.9L640 1293.5L602.2 1288.2Z" fill="#48683a" />
<circle cx="455.8" cy="1246.7" r="1.1" fill="#c6cec0" opacity="0.9"/>
<circle cx="473.1" cy="1246.7" r="1.1" fill="#c6cec0" opacity="0.9"/>
<circle cx="490.4" cy="1246.7" r="1.1" fill="#c6cec0" opacity="0.9"/>
<circle cx="507.7" cy="1246.7" r="1.1" fill="#c6cec0" opacity="0.9"/>
<circle cx="525" cy="1246.7" r="1.1" fill="#c6cec0" opacity="0.9"/>
<circle cx="542.3" cy="1246.7" r="1.1" fill="#c6cec0" opacity="0.9"/>
<circle cx="559.5" cy="1246.7" r="1.1" fill="#c6cec0" opacity="0.9"/>
<circle cx="576.8" cy="1246.7" r="1.1" fill="#c6cec0" opacity="0.9"/>
<circle cx="594.1" cy="1246.7" r="1.1" fill="#c6cec0" opacity="0.9"/>
<circle cx="611.4" cy="1246.7" r="1.1" fill="#b8c8a8" opacity="0.8"/>
<circle cx="628.7" cy="1246.7" r="1.1" fill="#b8c8a8" opacity="0.8"/>
<circle cx="418.8" cy="1256.4" r="1.1" fill="#c6cec0" opacity="0.9"/>
<circle cx="437" cy="1256.4" r="1.1" fill="#c6cec0" opacity="0.9"/>
<circle cx="455.1" cy="1256.4" r="1.1" fill="#c6cec0" opacity="0.9"/>
<circle cx="473.3" cy="1256.4" r="1.1" fill="#c6cec0" opacity="0.9"/>
<circle cx="491.5" cy="1256.4" r="1.1" fill="#c6cec0" opacity="0.9"/>
<circle cx="509.6" cy="1256.4" r="1.1" fill="#c6cec0" opacity="0.9"/>
<circle cx="527.8" cy="1256.4" r="1.1" fill="#c6cec0" opacity="0.9"/>
<circle cx="546" cy="1256.4" r="1.1" fill="#c6cec0" opacity="0.9"/>
<circle cx="564.1" cy="1256.4" r="1.1" fill="#c6cec0" opacity="0.9"/>
<circle cx="582.3" cy="1256.4" r="1.1" fill="#c6cec0" opacity="0.9"/>
<circle cx="600.5" cy="1256.4" r="1.1" fill="#b8c8a8" opacity="0.8"/>
<circle cx="618.6" cy="1256.4" r="1.1" fill="#b8c8a8" opacity="0.8"/>
<circle cx="636.8" cy="1256.4" r="1.1" fill="#b8c8a8" opacity="0.8"/>
<circle cx="425.8" cy="1263.5" r="1.1" fill="#c6cec0" opacity="0.9"/>
<circle cx="444.5" cy="1263.5" r="1.1" fill="#c6cec0" opacity="0.9"/>
<circle cx="463.2" cy="1263.5" r="1.1" fill="#c6cec0" opacity="0.9"/>
<circle cx="481.9" cy="1263.5" r="1.1" fill="#c6cec0" opacity="0.9"/>
<circle cx="500.6" cy="1263.5" r="1.1" fill="#c6cec0" opacity="0.9"/>
<circle cx="519.3" cy="1263.5" r="1.1" fill="#c6cec0" opacity="0.9"/>
<circle cx="538" cy="1263.5" r="1.1" fill="#c6cec0" opacity="0.9"/>
<circle cx="556.7" cy="1263.5" r="1.1" fill="#c6cec0" opacity="0.9"/>
<circle cx="575.4" cy="1263.5" r="1.1" fill="#c6cec0" opacity="0.9"/>
<circle cx="594.1" cy="1263.5" r="1.1" fill="#c6cec0" opacity="0.9"/>
<circle cx="612.8" cy="1263.5" r="1.1" fill="#b8c8a8" opacity="0.8"/>
<circle cx="631.5" cy="1263.5" r="1.1" fill="#b8c8a8" opacity="0.8"/>
<circle cx="418.8" cy="1272.3" r="1.1" fill="#c6cec0" opacity="0.9"/>
<circle cx="438.2" cy="1272.3" r="1.1" fill="#c6cec0" opacity="0.9"/>
<circle cx="457.6" cy="1272.3" r="1.1" fill="#c6cec0" opacity="0.9"/>
<circle cx="477" cy="1272.3" r="1.1" fill="#c6cec0" opacity="0.9"/>
<circle cx="496.4" cy="1272.3" r="1.1" fill="#c6cec0" opacity="0.9"/>
<circle cx="515.8" cy="1272.3" r="1.1" fill="#c6cec0" opacity="0.9"/>
<circle cx="535.2" cy="1272.3" r="1.1" fill="#c6cec0" opacity="0.9"/>
<circle cx="554.6" cy="1272.3" r="1.1" fill="#c6cec0" opacity="0.9"/>
<circle cx="574" cy="1272.3" r="1.1" fill="#c6cec0" opacity="0.9"/>
<circle cx="593.4" cy="1272.3" r="1.1" fill="#c6cec0" opacity="0.9"/>
<circle cx="612.8" cy="1272.3" r="1.1" fill="#b8c8a8" opacity="0.8"/>
<circle cx="632.2" cy="1272.3" r="1.1" fill="#b8c8a8" opacity="0.8"/>
<circle cx="422.3" cy="1282" r="1.1" fill="#c6cec0" opacity="0.9"/>
<circle cx="442.4" cy="1282" r="1.1" fill="#c6cec0" opacity="0.9"/>
<circle cx="462.5" cy="1282" r="1.1" fill="#c6cec0" opacity="0.9"/>
<circle cx="482.6" cy="1282" r="1.1" fill="#c6cec0" opacity="0.9"/>
<circle cx="502.7" cy="1282" r="1.1" fill="#c6cec0" opacity="0.9"/>
<circle cx="522.9" cy="1282" r="1.1" fill="#c6cec0" opacity="0.9"/>
<circle cx="543" cy="1282" r="1.1" fill="#c6cec0" opacity="0.9"/>
<circle cx="563.1" cy="1282" r="1.1" fill="#c6cec0" opacity="0.9"/>
<circle cx="583.2" cy="1282" r="1.1" fill="#c6cec0" opacity="0.9"/>
<circle cx="603.3" cy="1282" r="1.1" fill="#b8c8a8" opacity="0.8"/>
<circle cx="623.4" cy="1282" r="1.1" fill="#b8c8a8" opacity="0.8"/>
<circle cx="610" cy="1228.2" r="1" fill="#b8c8a8" opacity="0.7"/>
<circle cx="626.8" cy="1228.2" r="1" fill="#b8c8a8" opacity="0.7"/>
<circle cx="610.7" cy="1237" r="1" fill="#b8c8a8" opacity="0.7"/>
<circle cx="627.5" cy="1237" r="1" fill="#b8c8a8" opacity="0.7"/>
<circle cx="609.3" cy="1293.5" r="1" fill="#b8c8a8" opacity="0.7"/>
<circle cx="626.1" cy="1293.5" r="1" fill="#b8c8a8" opacity="0.7"/>
<circle cx="609.3" cy="1305.8" r="1" fill="#b8c8a8" opacity="0.7"/>
<circle cx="626.1" cy="1305.8" r="1" fill="#b8c8a8" opacity="0.7"/>
<circle cx="611.4" cy="1319.9" r="1" fill="#b8c8a8" opacity="0.7"/>
<circle cx="628.2" cy="1319.9" r="1" fill="#b8c8a8" opacity="0.7"/>
<path d="M364.1 1220.3L478.8 1220.3L473.5 1228.2L425.8 1233.5L365.9 1244.1Z" fill="#080c0a" filter="url(#b1)"/>
<path d="M362.3 1228.2L394.1 1228.2L394.1 1261.7L364.1 1268.8Z" fill="#0a0e0c" filter="url(#b2)"/>
<rect x="566.1" y="1222.9" width="30" height="30.9" fill="#070a08" />
<rect x="570.1" y="1233.5" width="1.1" height="18.5" fill="#9aa49a" opacity="0.55"/>
<rect x="575.4" y="1233.5" width="1.1" height="18.5" fill="#9aa49a" opacity="0.55"/>
<rect x="580.7" y="1233.5" width="1.1" height="18.5" fill="#9aa49a" opacity="0.55"/>
<rect x="586" y="1233.5" width="1.1" height="18.5" fill="#9aa49a" opacity="0.55"/>
<rect x="591.3" y="1233.5" width="1.1" height="18.5" fill="#9aa49a" opacity="0.55"/>
<rect x="331.5" y="984.7" width="297.2" height="202" rx="5" fill="url(#gbody)"/>
<path d="M335 1166.5L626.9 1166.5L620.8 1219.7L342 1221.5Z" fill="#131b1b" />
<path d="M335 1166.5L626.9 1166.5L626.6 1177.1L335.9 1177.1Z" fill="#0c1210" />
<rect x="360.2" y="1191.5" width="34.2" height="22.9" fill="#070a0c" />
<rect x="339.4" y="1217.3" width="281.4" height="4.2" fill="#1f2a2a" opacity="0.8"/>
<rect x="344.7" y="1003.2" width="199.3" height="150.8" fill="#0d1511" />
<g clip-path="url(#cpscr2)">
<rect x="348.2" y="1006.8" width="192.3" height="144.6" fill="url(#gscr)" />
<rect x="348.2" y="1006.8" width="192.3" height="8.1" fill="#e9f1ea" />
<rect x="454.1" y="1009.6" width="86.4" height="4.6" fill="#cfe0d0" opacity="0.9"/>
<path d="M478.8 1080.8L540.5 1080.8L540.5 1102L489.3 1098.5Z" fill="#3f7e4a" filter="url(#b2)" opacity="0.85"/>
<path d="M348.2 1080.8L443.5 1087.9L443.5 1098.5L348.2 1095Z" fill="#8cc0a0" filter="url(#b2)" opacity="0.7"/>
<path d="M449.7 1093.2L489.3 1093.2L492 1133.8L447 1136.4Z" fill="#183a28" filter="url(#b2)"/>
<path d="M443.5 1087.9L494.6 1087.9L489.3 1102L449.7 1102Z" fill="#2a5a3a" filter="url(#b2)" opacity="0.8"/>
<rect x="348.2" y="1133.8" width="192.3" height="17.6" fill="#bff0e6" filter="url(#b2)" opacity="0.8"/>
<rect x="418.8" y="1145.8" width="54.7" height="3" fill="#9ad070" filter="url(#b1)" opacity="0.7"/>
<line x1="368.5" y1="1014.9" x2="368.5" y2="1151.4" stroke="#e6f0e4" stroke-width="0.9" opacity="0.85"/>
<line x1="387.9" y1="1014.9" x2="387.9" y2="1151.4" stroke="#e6f0e4" stroke-width="0.9" opacity="0.85"/>
<line x1="406.4" y1="1014.9" x2="406.4" y2="1151.4" stroke="#e6f0e4" stroke-width="0.9" opacity="0.85"/>
<line x1="425.8" y1="1014.9" x2="425.8" y2="1151.4" stroke="#e6f0e4" stroke-width="0.9" opacity="0.85"/>
<line x1="445.2" y1="1014.9" x2="445.2" y2="1151.4" stroke="#e6f0e4" stroke-width="0.9" opacity="0.85"/>
<line x1="464.6" y1="1014.9" x2="464.6" y2="1151.4" stroke="#e6f0e4" stroke-width="0.9" opacity="0.85"/>
<line x1="484.1" y1="1014.9" x2="484.1" y2="1151.4" stroke="#e6f0e4" stroke-width="0.9" opacity="0.85"/>
<line x1="503.5" y1="1014.9" x2="503.5" y2="1151.4" stroke="#e6f0e4" stroke-width="0.9" opacity="0.85"/>
<line x1="521.1" y1="1014.9" x2="521.1" y2="1151.4" stroke="#e6f0e4" stroke-width="0.9" opacity="0.85"/>
<line x1="348.2" y1="1016.5" x2="540.5" y2="1016.5" stroke="#e6f0e4" stroke-width="0.9" opacity="0.85"/>
<line x1="348.2" y1="1031.4" x2="540.5" y2="1031.4" stroke="#e6f0e4" stroke-width="0.9" opacity="0.85"/>
<line x1="348.2" y1="1047.3" x2="540.5" y2="1047.3" stroke="#e6f0e4" stroke-width="0.9" opacity="0.85"/>
<line x1="348.2" y1="1062.3" x2="540.5" y2="1062.3" stroke="#e6f0e4" stroke-width="0.9" opacity="0.85"/>
<line x1="348.2" y1="1077.3" x2="540.5" y2="1077.3" stroke="#e6f0e4" stroke-width="0.9" opacity="0.85"/>
<line x1="348.2" y1="1092.3" x2="540.5" y2="1092.3" stroke="#e6f0e4" stroke-width="0.9" opacity="0.85"/>
<line x1="348.2" y1="1107.3" x2="540.5" y2="1107.3" stroke="#e6f0e4" stroke-width="0.9" opacity="0.85"/>
<line x1="348.2" y1="1122.3" x2="540.5" y2="1122.3" stroke="#e6f0e4" stroke-width="0.9" opacity="0.85"/>
<line x1="348.2" y1="1137.3" x2="540.5" y2="1137.3" stroke="#e6f0e4" stroke-width="0.9" opacity="0.85"/>
<path d="M350.3 1074.2L351.6 1074L352.8 1074.1L354 1073.8L355.3 1074.4L356.5 1073.3L357.7 1072.8L359 1072.5L360.2 1071.8L361.5 1074.3L362.7 1073.8L363.9 1073.5L365.2 1072.9L366.4 1068.9L367.6 1068L368.9 1067.2L370.1 1073.7L371.3 1070.7L372.6 1070.7L373.8 1059.9L375 1065.7L376.3 1066.1L377.5 1074.1L378.7 1058L380 1069.7L381.2 1070.4L382.4 1067.9L383.7 1061.6L384.9 1053.5L386.1 1061.6L387.4 1070.7L388.6 1063.5L389.9 1055L391.1 1059.3L392.3 1062.3L393.6 1053.6L394.8 1056L396 1057.5L397.3 1064.6L398.5 1052.3L399.7 1071L401 1063.3L402.2 1062.2L403.4 1074.4L404.7 1066.7L405.9 1072.3L407.1 1070L408.4 1069.9L409.6 1064.1L410.8 1055.1L412.1 1071.3L413.3 1068.3L414.5 1068.2L415.8 1070.6L417 1071.3L418.3 1044.8L419.5 1048.5L420.7 1065.7L422 1068.7L423.2 1063.8L424.4 1073.1L425.7 1064.4L426.9 1073L428.1 1062L429.4 1058.9L430.6 1061.6L431.8 1068.8L433.1 1062.8L434.3 1065.2L435.5 1063.8L436.8 1068.6L438 1071L439.2 1060.6L440.5 1069.4L441.7 1074.3L442.9 1073.5L444.2 1074.3L445.4 1067.4L446.7 1064.2L447.9 1069.3L449.1 1072.5L450.4 1068L451.6 1068L452.8 1068.9L454.1 1066.5L455.3 1061.6L456.5 1061.1L457.8 1063.4L459 1073.9L460.2 1071.9L461.5 1073.8L462.7 1068.9L463.9 1066.9L465.2 1066.6L466.4 1048.9L467.6 1059.8L468.9 1068.6L470.1 1060.8L471.3 1073.3L472.6 1063.3L473.8 1073.4L475.1 1050.6L476.3 1054.9L477.5 1069.2L478.8 1052.6L480 1061.9L481.2 1051L482.5 1062.3L483.7 1070.8L484.9 1072.5L486.2 1066.3L487.4 1073.9L488.6 1069.5L489.9 1074.4L491.1 1066.4L492.3 1072.5L493.6 1042.1L494.8 1038.5L496 1070.9L497.3 1041.9L498.5 1041.7L499.7 1028.7L501 1073.5L502.2 1055.1L503.5 1055L504.7 1060.8L505.9 1062.6L507.2 1054L508.4 1066.7L509.6 1065.9L510.9 1034.3L512.1 1049.1L513.3 1047L514.6 1056.1L515.8 1064.7L517 1065.7L518.3 1059L519.5 1047.6L520.7 1062.2L522 1058.1L523.2 1069L524.4 1072.3L525.7 1052.6L526.9 1050.9L528.1 1059L529.4 1043.9L530.6 1071.3L531.9 1044.4L533.1 1073.9L534.3 1074.1L535.6 1061.2L536.8 1056.1L538 1055.7L539.3 1064.2L539.3 1084.8L538 1084.6L536.8 1083.9L535.6 1093.1L534.3 1098.1L533.1 1081.5L531.9 1090.3L530.6 1089.2L529.4 1089L528.1 1085.1L526.9 1085.5L525.7 1083.3L524.4 1084L523.2 1087.1L522 1092.2L520.7 1089.1L519.5 1083.3L518.3 1086.2L517 1105.5L515.8 1100.1L514.6 1101.3L513.3 1087.3L512.1 1105.2L510.9 1084.2L509.6 1093.7L508.4 1094.3L507.2 1103.8L505.9 1105L504.7 1090.6L503.5 1087.7L502.2 1080.3L501 1082.1L499.7 1084.7L498.5 1088L497.3 1086.1L496 1081.3L494.8 1088L493.6 1082.9L492.3 1088.8L491.1 1088.6L489.9 1085.1L488.6 1084.2L487.4 1083.4L486.2 1082.3L484.9 1086.3L483.7 1083.5L482.5 1083.1L481.2 1091.5L480 1091.8L478.8 1081.5L477.5 1095.5L476.3 1084.3L475.1 1091.5L473.8 1082.6L472.6 1094.1L471.3 1082.5L470.1 1081.5L468.9 1092.3L467.6 1090.1L466.4 1093.6L465.2 1098.3L463.9 1097.7L462.7 1081.5L461.5 1082L460.2 1095.5L459 1079.7L457.8 1080.7L456.5 1087.5L455.3 1097.7L454.1 1082.1L452.8 1088.5L451.6 1089L450.4 1084.2L449.1 1089.2L447.9 1084.4L446.7 1080.6L445.4 1085.4L444.2 1088.4L442.9 1085L441.7 1081.4L440.5 1082.8L439.2 1079.4L438 1088.4L436.8 1080.4L435.5 1079.9L434.3 1086.8L433.1 1079.9L431.8 1086.8L430.6 1081.6L429.4 1082.2L428.1 1085.8L426.9 1081.6L425.7 1094L424.4 1103.1L423.2 1094.5L422 1096.8L420.7 1093.2L419.5 1087.1L418.3 1093.1L417 1080.2L415.8 1080.1L414.5 1083.3L413.3 1086.4L412.1 1079.6L410.8 1087.4L409.6 1086.5L408.4 1091L407.1 1084L405.9 1088.4L404.7 1099.9L403.4 1080.4L402.2 1089L401 1086.2L399.7 1090.4L398.5 1093L397.3 1085.5L396 1104.7L394.8 1084.4L393.6 1081.9L392.3 1093.7L391.1 1085.1L389.9 1083.4L388.6 1086.1L387.4 1079.7L386.1 1080.8L384.9 1088.1L383.7 1080.9L382.4 1084L381.2 1082.1L380 1080.6L378.7 1083.6L377.5 1080.6L376.3 1084.7L375 1082.7L373.8 1082L372.6 1085.8L371.3 1083.4L370.1 1083.3L368.9 1084.3L367.6 1082.8L366.4 1080.7L365.2 1082.4L363.9 1080.6L362.7 1080.7L361.5 1081.4L360.2 1079.6L359 1079.5L357.7 1081.5L356.5 1080.7L355.3 1079.7L354 1079.7L352.8 1079.5L351.6 1079.5L350.3 1079.6Z" fill="#f1ee22" stroke="#f1ee22" stroke-width="0.6" stroke-linejoin="round"/>
<rect x="360.6" y="1074.5" width="179" height="5" fill="#fffbd0" filter="url(#b2)" opacity="0.95"/>
<rect x="375.6" y="1075.9" width="164" height="2.2" fill="#ffffff" filter="url(#b1)" opacity="0.85"/>
</g>
<circle cx="562.5" cy="1033.2" r="3.6" fill="#0c1210" stroke="#d4dcd6" stroke-width="1.5"/>
<circle cx="563.1" cy="1061.4" r="2.9" fill="#0c1210" stroke="#d4dcd6" stroke-width="1.5"/>
<circle cx="596.9" cy="1060.9" r="2.9" fill="#0c1210" stroke="#d4dcd6" stroke-width="1.5"/>
<circle cx="562" cy="1095.8" r="5.2" fill="#0c1210" stroke="#d4dcd6" stroke-width="1.5"/>
<circle cx="596.1" cy="1095.5" r="5.2" fill="#0c1210" stroke="#d4dcd6" stroke-width="1.5"/>
<circle cx="562" cy="1122.8" r="3.2" fill="#0c1210" stroke="#d4dcd6" stroke-width="1.5"/>
<circle cx="596.1" cy="1122.8" r="3.2" fill="#0c1210" stroke="#d4dcd6" stroke-width="1.5"/>
<rect x="556.4" y="1015.2" width="9.2" height="2.8" fill="#7ae040" filter="url(#b1)"/>
<rect x="596.1" y="1013.8" width="6.2" height="2.1" fill="#58b838" filter="url(#b1)" opacity="0.9"/>
<rect x="607.9" y="1055.8" width="7.8" height="2.1" fill="#c87838" filter="url(#b1)" opacity="0.9"/>
<rect x="607.5" y="1044.1" width="6.7" height="1.8" fill="#b8b048" filter="url(#b1)" opacity="0.8"/>
<rect x="556.4" y="1022.3" width="28.2" height="1.1" fill="#c4d0c8" filter="url(#b1)" opacity="0.45"/>
<rect x="552.8" y="1052.3" width="65.3" height="1.1" fill="#c4d0c8" filter="url(#b1)" opacity="0.4"/>
<rect x="552.8" y="1110.8" width="65.3" height="1.2" fill="#c4d0c8" filter="url(#b1)" opacity="0.5"/>
<rect x="552.8" y="1134.6" width="63.5" height="1.1" fill="#c4d0c8" filter="url(#b1)" opacity="0.4"/>
<rect x="576.1" y="1054.4" width="1.1" height="12.3" fill="#c4d0c8" filter="url(#b1)" opacity="0.4"/>
<rect x="575.8" y="1093.2" width="1.2" height="14.1" fill="#c4d0c8" filter="url(#b1)" opacity="0.4"/>
<rect x="557.3" y="1008.2" width="7.1" height="3.9" fill="#c4d0c8" filter="url(#b1)" opacity="0.5"/>
<rect x="570.5" y="1008.2" width="7.1" height="3.9" fill="#c4d0c8" filter="url(#b1)" opacity="0.4"/>
<rect x="596.9" y="1007.8" width="6.2" height="3.4" fill="#c4d0c8" filter="url(#b1)" opacity="0.4"/>
<rect x="608.4" y="1007.8" width="7.9" height="3.4" fill="#c4d0c8" filter="url(#b1)" opacity="0.4"/>
<rect x="581.1" y="1024.7" width="10.6" height="2.5" fill="#c4d0c8" filter="url(#b1)" opacity="0.5"/>
<rect x="554.6" y="1055.3" width="14.1" height="2.3" fill="#c4d0c8" filter="url(#b1)" opacity="0.55"/>
<rect x="589" y="1055.3" width="10.6" height="2.3" fill="#c4d0c8" filter="url(#b1)" opacity="0.5"/>
<rect x="572.2" y="1041.3" width="7.1" height="1.8" fill="#c4d0c8" filter="url(#b1)" opacity="0.35"/>
<rect x="582.8" y="1041.3" width="7.1" height="1.8" fill="#c4d0c8" filter="url(#b1)" opacity="0.35"/>
<rect x="594.3" y="1041.3" width="7.1" height="1.8" fill="#c4d0c8" filter="url(#b1)" opacity="0.35"/>
<rect x="554.6" y="1071.7" width="9.7" height="2.1" fill="#c4d0c8" filter="url(#b1)" opacity="0.35"/>
<rect x="589.9" y="1071.7" width="8.8" height="2.1" fill="#c4d0c8" filter="url(#b1)" opacity="0.35"/>
<rect x="564.3" y="1114.4" width="9.7" height="2.1" fill="#c4d0c8" filter="url(#b1)" opacity="0.5"/>
<rect x="597.8" y="1114.4" width="9.7" height="2.1" fill="#c4d0c8" filter="url(#b1)" opacity="0.45"/>
<rect x="559" y="1141.2" width="7.9" height="2.1" fill="#c4d0c8" filter="url(#b1)" opacity="0.45"/>
<rect x="571.4" y="1141.2" width="9.7" height="2.1" fill="#c4d0c8" filter="url(#b1)" opacity="0.45"/>
<rect x="587.2" y="1141.2" width="9.7" height="2.1" fill="#c4d0c8" filter="url(#b1)" opacity="0.45"/>
<rect x="602.2" y="1141.2" width="7.1" height="2.1" fill="#c4d0c8" filter="url(#b1)" opacity="0.45"/>
<rect x="607.5" y="1020.5" width="10.6" height="1.4" fill="#c4d0c8" filter="url(#b1)" opacity="0.4"/>
<rect x="350.9" y="1159.2" width="17.6" height="2.8" fill="#b4c4b8" filter="url(#b1)" opacity="0.7"/>
<rect x="372.9" y="1159.5" width="60" height="2.1" fill="#a4b4a8" filter="url(#b1)" opacity="0.55"/>
<rect x="532.2" y="1154.9" width="8.3" height="8.5" fill="#7fae88" filter="url(#b1)" opacity="0.8"/>
<path d="M552.5 1156.7L566.1 1155.6L565.5 1160.2L561.3 1160.2L560.8 1162.7L558.1 1162.7L557.8 1159.5L552.8 1159.5Z" fill="#e8eee8" filter="url(#b1)" opacity="0.9"/>
<rect x="567.8" y="1155.3" width="15" height="2.5" fill="#c8d2ca" filter="url(#b1)" opacity="0.75"/>
<rect x="569.6" y="1159.2" width="7.1" height="1.8" fill="#a8b4ac" filter="url(#b1)" opacity="0.5"/>
<circle cx="411.7" cy="1202.6" r="6" fill="#c2d2c2" stroke="#222c28" stroke-width="1.6"/>
<circle cx="411.7" cy="1202.6" r="3" fill="#8a9a8c"/>
<circle cx="411.1" cy="1201.8" r="1.3" fill="#e8f0e8"/>
<rect x="410.3" y="1185.2" width="2.8" height="2.1" fill="#b0bab2" opacity="0.6" filter="url(#b1)"/>
<circle cx="442.6" cy="1202.6" r="6" fill="#c2d2c2" stroke="#222c28" stroke-width="1.6"/>
<circle cx="442.6" cy="1202.6" r="3" fill="#8a9a8c"/>
<circle cx="442" cy="1201.8" r="1.3" fill="#e8f0e8"/>
<rect x="441.2" y="1185.2" width="2.8" height="2.1" fill="#b0bab2" opacity="0.6" filter="url(#b1)"/>
<circle cx="473.5" cy="1202.6" r="6" fill="#c2d2c2" stroke="#222c28" stroke-width="1.6"/>
<circle cx="473.5" cy="1202.6" r="3" fill="#8a9a8c"/>
<circle cx="472.9" cy="1201.8" r="1.3" fill="#e8f0e8"/>
<rect x="472.1" y="1185.2" width="2.8" height="2.1" fill="#b0bab2" opacity="0.6" filter="url(#b1)"/>
<circle cx="505.2" cy="1202.6" r="6" fill="#c2d2c2" stroke="#222c28" stroke-width="1.6"/>
<circle cx="505.2" cy="1202.6" r="3" fill="#8a9a8c"/>
<circle cx="504.6" cy="1201.8" r="1.3" fill="#e8f0e8"/>
<rect x="503.8" y="1185.2" width="2.8" height="2.1" fill="#b0bab2" opacity="0.6" filter="url(#b1)"/>
<rect x="376.8" y="1185.2" width="2.8" height="2.1" fill="#b0bab2" opacity="0.6" filter="url(#b1)"/>
<ellipse cx="350.9" cy="1202.6" rx="3" ry="5" fill="#3a4644" stroke="#222a28" stroke-width="1"/>
<path d="M371.2 1199.1L380.9 1196.5L385.3 1201.8L376.4 1206.2Z" fill="#b02848" filter="url(#b1)"/>
<rect x="533.8" y="1189.1" width="40.2" height="5.6" fill="#aab6ae" filter="url(#b1)" opacity="0.6"/>
<rect x="576.7" y="1187.6" width="18.5" height="6.7" fill="#c0cac2" filter="url(#b1)" opacity="0.6"/>
<rect x="599.1" y="1191.9" width="7.8" height="2.5" fill="#b4c0b6" filter="url(#b1)" opacity="0.65"/>
<rect x="599.1" y="1198.9" width="7.8" height="2.5" fill="#b4c0b6" filter="url(#b1)" opacity="0.65"/>
<rect x="599.1" y="1206" width="7.8" height="2.5" fill="#b4c0b6" filter="url(#b1)" opacity="0.65"/>
<path d="M376.4 1205.3L369.4 1215.9L362.3 1230L341.2 1240.6L323.5 1246.2" fill="none" stroke="#090b09" stroke-width="3.0" stroke-linecap="round" stroke-linejoin="round" />
<path d="M360.6 1233.5L350 1247.6L339.4 1265.3L323.5 1278.5" fill="none" stroke="#090b09" stroke-width="3.0" stroke-linecap="round" stroke-linejoin="round" />
<path d="M323.5 1285L337.6 1284.3L350 1281.5" fill="none" stroke="#090b09" stroke-width="4.0" stroke-linecap="round" stroke-linejoin="round" />
<path d="M350 1281.5L386.1 1273.2" fill="none" stroke="#cf2020" stroke-width="5.2" stroke-linecap="round" stroke-linejoin="round" />
<path d="M351.8 1280.1L385.3 1272.3" fill="none" stroke="#e85048" stroke-width="1.4" stroke-linecap="round" stroke-linejoin="round" opacity="0.8"/>
<path d="M385.6 1266.7L397.6 1264.4L402.9 1267L403.8 1274.1L389.7 1277.6L386.1 1275.8Z" fill="#3a3430" />
<path d="M387.9 1265.3L395.9 1264L396.2 1267.4L388.4 1268.4Z" fill="#b8b4a8" />
<path d="M402.9 1270.5L448.8 1259.3" fill="none" stroke="#cf2020" stroke-width="3.2" stroke-linecap="round" stroke-linejoin="round" />
<path d="M399.4 1266.1L402 1275.8" fill="none" stroke="#d83030" stroke-width="2.0" stroke-linecap="round" stroke-linejoin="round" />
<path d="M357.9 1287.3L602.2 1287.3L630.5 1329.6L630.5 1370L322.6 1370Z" fill="#5ce8e8" />
<path d="M320 1291.7L357.9 1287.3L322.6 1370L320 1370Z" fill="#a4ac98" />
<ellipse cx="374.7" cy="1298.4" rx="8.3" ry="5.5" fill="#f4f4e8" stroke="#2c5cae" stroke-width="1.3"/>
<ellipse cx="374.7" cy="1298.4" rx="5.6" ry="3.5" fill="#e8c83a" stroke="#c03828" stroke-width="1"/>
<ellipse cx="374.7" cy="1298.4" rx="2.2" ry="1.5" fill="#6a8a3a"/>
<ellipse cx="437.8" cy="1298.4" rx="8.3" ry="5.5" fill="#f4f4e8" stroke="#2c5cae" stroke-width="1.3"/>
<ellipse cx="437.8" cy="1298.4" rx="5.6" ry="3.5" fill="#e8c83a" stroke="#c03828" stroke-width="1"/>
<ellipse cx="437.8" cy="1298.4" rx="2.2" ry="1.5" fill="#6a8a3a"/>
<ellipse cx="501.7" cy="1298.4" rx="8.3" ry="5.5" fill="#f4f4e8" stroke="#2c5cae" stroke-width="1.3"/>
<ellipse cx="501.7" cy="1298.4" rx="5.6" ry="3.5" fill="#e8c83a" stroke="#c03828" stroke-width="1"/>
<ellipse cx="501.7" cy="1298.4" rx="2.2" ry="1.5" fill="#6a8a3a"/>
<ellipse cx="566.1" cy="1298.4" rx="8.3" ry="5.5" fill="#f4f4e8" stroke="#2c5cae" stroke-width="1.3"/>
<ellipse cx="566.1" cy="1298.4" rx="5.6" ry="3.5" fill="#e8c83a" stroke="#c03828" stroke-width="1"/>
<ellipse cx="566.1" cy="1298.4" rx="2.2" ry="1.5" fill="#6a8a3a"/>
<path d="M388.9 1292.1L404.9 1292.1L406.4 1304.7L386.9 1304.7Z" fill="#c4222c"/>
<path d="M388.4 1300.9l2.6 -6l2.4 5l2.6 -7l2.6 5l2 -3" stroke="#f6e6e0" stroke-width="1.5" fill="none" opacity="0.9"/>
<path d="M389.9 1302.9h10.8" stroke="#f0d8d0" stroke-width="1.2" opacity="0.7"/>
<path d="M452.4 1292.1L468.4 1292.1L469.9 1304.7L450.4 1304.7Z" fill="#c4222c"/>
<path d="M451.9 1300.9l2.6 -6l2.4 5l2.6 -7l2.6 5l2 -3" stroke="#f6e6e0" stroke-width="1.5" fill="none" opacity="0.9"/>
<path d="M453.4 1302.9h10.8" stroke="#f0d8d0" stroke-width="1.2" opacity="0.7"/>
<path d="M515.9 1292.1L531.9 1292.1L533.4 1304.7L513.9 1304.7Z" fill="#c4222c"/>
<path d="M515.4 1300.9l2.6 -6l2.4 5l2.6 -7l2.6 5l2 -3" stroke="#f6e6e0" stroke-width="1.5" fill="none" opacity="0.9"/>
<path d="M516.9 1302.9h10.8" stroke="#f0d8d0" stroke-width="1.2" opacity="0.7"/>
<path d="M581.1 1292.1L597.1 1292.1L598.6 1304.7L579.1 1304.7Z" fill="#c4222c"/>
<path d="M580.6 1300.9l2.6 -6l2.4 5l2.6 -7l2.6 5l2 -3" stroke="#f6e6e0" stroke-width="1.5" fill="none" opacity="0.9"/>
<path d="M582.1 1302.9h10.8" stroke="#f0d8d0" stroke-width="1.2" opacity="0.7"/>
<ellipse cx="367.3" cy="1321.3" rx="9" ry="5.9" fill="#f4f4e8" stroke="#2c5cae" stroke-width="1.3"/>
<ellipse cx="367.3" cy="1321.3" rx="6" ry="3.8" fill="#e8c83a" stroke="#c03828" stroke-width="1"/>
<ellipse cx="367.3" cy="1321.3" rx="2.4" ry="1.6" fill="#6a8a3a"/>
<ellipse cx="435.5" cy="1321.3" rx="9" ry="5.9" fill="#f4f4e8" stroke="#2c5cae" stroke-width="1.3"/>
<ellipse cx="435.5" cy="1321.3" rx="6" ry="3.8" fill="#e8c83a" stroke="#c03828" stroke-width="1"/>
<ellipse cx="435.5" cy="1321.3" rx="2.4" ry="1.6" fill="#6a8a3a"/>
<ellipse cx="505.2" cy="1321.3" rx="9" ry="5.9" fill="#f4f4e8" stroke="#2c5cae" stroke-width="1.3"/>
<ellipse cx="505.2" cy="1321.3" rx="6" ry="3.8" fill="#e8c83a" stroke="#c03828" stroke-width="1"/>
<ellipse cx="505.2" cy="1321.3" rx="2.4" ry="1.6" fill="#6a8a3a"/>
<ellipse cx="575.8" cy="1321.3" rx="9" ry="5.9" fill="#f4f4e8" stroke="#2c5cae" stroke-width="1.3"/>
<ellipse cx="575.8" cy="1321.3" rx="6" ry="3.8" fill="#e8c83a" stroke="#c03828" stroke-width="1"/>
<ellipse cx="575.8" cy="1321.3" rx="2.4" ry="1.6" fill="#6a8a3a"/>
<path d="M382 1314.5L399.4 1314.5L400.9 1328.2L380 1328.2Z" fill="#c4222c"/>
<path d="M381.5 1323.8l2.6 -6l2.4 5l2.6 -7l2.6 5l2 -3" stroke="#f6e6e0" stroke-width="1.5" fill="none" opacity="0.9"/>
<path d="M383 1326.4h11.7" stroke="#f0d8d0" stroke-width="1.2" opacity="0.7"/>
<path d="M450.8 1314.5L468.2 1314.5L469.7 1328.2L448.8 1328.2Z" fill="#c4222c"/>
<path d="M450.3 1323.8l2.6 -6l2.4 5l2.6 -7l2.6 5l2 -3" stroke="#f6e6e0" stroke-width="1.5" fill="none" opacity="0.9"/>
<path d="M451.8 1326.4h11.7" stroke="#f0d8d0" stroke-width="1.2" opacity="0.7"/>
<path d="M521.3 1314.5L538.8 1314.5L540.3 1328.2L519.3 1328.2Z" fill="#c4222c"/>
<path d="M520.8 1323.8l2.6 -6l2.4 5l2.6 -7l2.6 5l2 -3" stroke="#f6e6e0" stroke-width="1.5" fill="none" opacity="0.9"/>
<path d="M522.3 1326.4h11.7" stroke="#f0d8d0" stroke-width="1.2" opacity="0.7"/>
<path d="M591.9 1314.5L609.3 1314.5L610.8 1328.2L589.9 1328.2Z" fill="#c4222c"/>
<path d="M591.4 1323.8l2.6 -6l2.4 5l2.6 -7l2.6 5l2 -3" stroke="#f6e6e0" stroke-width="1.5" fill="none" opacity="0.9"/>
<path d="M592.9 1326.4h11.7" stroke="#f0d8d0" stroke-width="1.2" opacity="0.7"/>
<ellipse cx="357.6" cy="1349.9" rx="9.6" ry="6.4" fill="#f4f4e8" stroke="#2c5cae" stroke-width="1.3"/>
<ellipse cx="357.6" cy="1349.9" rx="6.5" ry="4.1" fill="#e8c83a" stroke="#c03828" stroke-width="1"/>
<ellipse cx="357.6" cy="1349.9" rx="2.6" ry="1.7" fill="#6a8a3a"/>
<ellipse cx="432.9" cy="1349.9" rx="9.6" ry="6.4" fill="#f4f4e8" stroke="#2c5cae" stroke-width="1.3"/>
<ellipse cx="432.9" cy="1349.9" rx="6.5" ry="4.1" fill="#e8c83a" stroke="#c03828" stroke-width="1"/>
<ellipse cx="432.9" cy="1349.9" rx="2.6" ry="1.7" fill="#6a8a3a"/>
<ellipse cx="509.6" cy="1349.9" rx="9.6" ry="6.4" fill="#f4f4e8" stroke="#2c5cae" stroke-width="1.3"/>
<ellipse cx="509.6" cy="1349.9" rx="6.5" ry="4.1" fill="#e8c83a" stroke="#c03828" stroke-width="1"/>
<ellipse cx="509.6" cy="1349.9" rx="2.6" ry="1.7" fill="#6a8a3a"/>
<ellipse cx="587.2" cy="1349.9" rx="9.6" ry="6.4" fill="#f4f4e8" stroke="#2c5cae" stroke-width="1.3"/>
<ellipse cx="587.2" cy="1349.9" rx="6.5" ry="4.1" fill="#e8c83a" stroke="#c03828" stroke-width="1"/>
<ellipse cx="587.2" cy="1349.9" rx="2.6" ry="1.7" fill="#6a8a3a"/>
<path d="M373.3 1342.6L392.2 1342.6L393.7 1357.2L371.3 1357.2Z" fill="#c4222c"/>
<path d="M372.8 1352.4l2.6 -6l2.4 5l2.6 -7l2.6 5l2 -3" stroke="#f6e6e0" stroke-width="1.5" fill="none" opacity="0.9"/>
<path d="M374.3 1355.4h12.5" stroke="#f0d8d0" stroke-width="1.2" opacity="0.7"/>
<path d="M450.9 1342.6L469.8 1342.6L471.3 1357.2L448.9 1357.2Z" fill="#c4222c"/>
<path d="M450.4 1352.4l2.6 -6l2.4 5l2.6 -7l2.6 5l2 -3" stroke="#f6e6e0" stroke-width="1.5" fill="none" opacity="0.9"/>
<path d="M451.9 1355.4h12.5" stroke="#f0d8d0" stroke-width="1.2" opacity="0.7"/>
<path d="M526.8 1342.6L545.6 1342.6L547.1 1357.2L524.8 1357.2Z" fill="#c4222c"/>
<path d="M526.3 1352.4l2.6 -6l2.4 5l2.6 -7l2.6 5l2 -3" stroke="#f6e6e0" stroke-width="1.5" fill="none" opacity="0.9"/>
<path d="M527.8 1355.4h12.5" stroke="#f0d8d0" stroke-width="1.2" opacity="0.7"/>
<path d="M605.3 1342.6L624.1 1342.6L625.6 1357.2L603.3 1357.2Z" fill="#c4222c"/>
<path d="M604.8 1352.4l2.6 -6l2.4 5l2.6 -7l2.6 5l2 -3" stroke="#f6e6e0" stroke-width="1.5" fill="none" opacity="0.9"/>
<path d="M606.3 1355.4h12.5" stroke="#f0d8d0" stroke-width="1.2" opacity="0.7"/>
<rect x="471.3" y="1315" width="15.9" height="17.6" fill="#6c7c2a" filter="url(#b1)"/>
<path d="M476.1 1315.5L487.2 1315L489.3 1323.5L479.6 1325.2Z" fill="#10140c" filter="url(#b1)"/>
<rect x="473.1" y="1325.2" width="10.9" height="4.4" fill="#8a9a38" filter="url(#b1)" opacity="0.8"/>
</g>
<line x1="323.2" y1="990" x2="462.5" y2="1291.7" stroke="#d42a1a" stroke-width="2.7" stroke-dasharray="8 2.8"/>
<line x1="462.5" y1="1291.7" x2="505.6" y2="1291.7" stroke="#d42a1a" stroke-width="2.7" stroke-dasharray="10 4"/>
<line x1="505.2" y1="1291.7" x2="505.2" y2="1363.3" stroke="#d42a1a" stroke-width="2.7" stroke-dasharray="10 4"/>
<line x1="505.6" y1="1363.3" x2="462.5" y2="1363.3" stroke="#d42a1a" stroke-width="2.7" stroke-dasharray="10 4"/>
<line x1="462.5" y1="1291.7" x2="462.5" y2="1365.8" stroke="#d42a1a" stroke-width="2.7" stroke-dasharray="10 4"/>
<line x1="462.5" y1="1363.5" x2="330.6" y2="1366.2" stroke="#d42a1a" stroke-width="2.7" stroke-dasharray="10 4"/>
<path d="M318.6 984.2l9 5.5l-8.2 4.4z" fill="#d42a1a"/>
<path d="M320.9 1366.3l10 -4.6v9.2z" fill="#d42a1a"/>
</svg></body></html>
